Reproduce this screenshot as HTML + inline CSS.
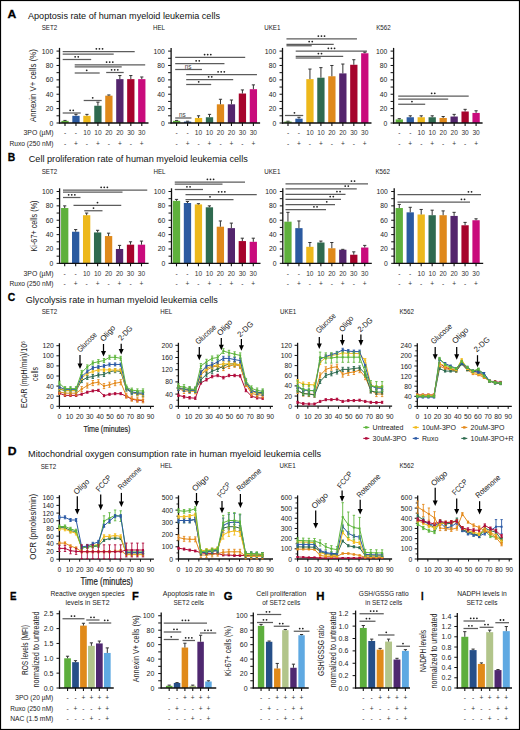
<!DOCTYPE html>
<html><head><meta charset="utf-8"><style>
html,body{margin:0;padding:0;background:#fff;width:520px;height:730px;overflow:hidden}
svg{display:block}
</style></head><body>
<svg width="520" height="730" viewBox="0 0 520 730">
<g style='font-family:"Liberation Sans", sans-serif'>
<rect x="0" y="0" width="520" height="730" fill="#fff"/>
<text x="7.50" y="14.20" font-size="11.8" text-anchor="start" font-weight="bold" fill="#000" dominant-baseline="central" textLength="8.75" lengthAdjust="spacingAndGlyphs" stroke="#000" stroke-width="0.3">A</text>
<text x="28.00" y="15.20" font-size="9.5" text-anchor="start" font-weight="normal" fill="#111" dominant-baseline="central" textLength="192" lengthAdjust="spacingAndGlyphs">Apoptosis rate of human myeloid leukemia cells</text>
<text x="7.70" y="156.50" font-size="11.8" text-anchor="start" font-weight="bold" fill="#000" dominant-baseline="central" textLength="7.5" lengthAdjust="spacingAndGlyphs" stroke="#000" stroke-width="0.3">B</text>
<text x="28.75" y="158.30" font-size="9.5" text-anchor="start" font-weight="normal" fill="#111" dominant-baseline="central" textLength="219" lengthAdjust="spacingAndGlyphs">Cell proliferation rate of human myeloid leukemia cells</text>
<line x1="62.70" y1="51.50" x2="134.70" y2="51.50" stroke="#5c5c5c" stroke-width="1.25"/>
<path d="M95.45 48.80a0.9 0.9 0 1 0 1.8 0a0.9 0.9 0 1 0 -1.8 0M98.55 48.80a0.9 0.9 0 1 0 1.8 0a0.9 0.9 0 1 0 -1.8 0M101.65 48.80a0.9 0.9 0 1 0 1.8 0a0.9 0.9 0 1 0 -1.8 0" fill="#222"/>
<line x1="62.70" y1="54.00" x2="113.70" y2="54.00" stroke="#5c5c5c" stroke-width="1.25"/>
<line x1="62.70" y1="59.50" x2="91.20" y2="59.50" stroke="#5c5c5c" stroke-width="1.25"/>
<path d="M74.25 56.80a0.9 0.9 0 1 0 1.8 0a0.9 0.9 0 1 0 -1.8 0M77.35 56.80a0.9 0.9 0 1 0 1.8 0a0.9 0.9 0 1 0 -1.8 0" fill="#222"/>
<line x1="74.70" y1="64.75" x2="145.20" y2="64.75" stroke="#5c5c5c" stroke-width="1.25"/>
<path d="M105.70 62.05a0.9 0.9 0 1 0 1.8 0a0.9 0.9 0 1 0 -1.8 0M108.80 62.05a0.9 0.9 0 1 0 1.8 0a0.9 0.9 0 1 0 -1.8 0M111.90 62.05a0.9 0.9 0 1 0 1.8 0a0.9 0.9 0 1 0 -1.8 0" fill="#222"/>
<line x1="74.70" y1="66.75" x2="121.70" y2="66.75" stroke="#5c5c5c" stroke-width="1.25"/>
<line x1="74.70" y1="73.00" x2="99.70" y2="73.00" stroke="#5c5c5c" stroke-width="1.25"/>
<path d="M85.80 70.30a0.9 0.9 0 1 0 1.8 0a0.9 0.9 0 1 0 -1.8 0" fill="#222"/>
<line x1="106.20" y1="72.50" x2="123.70" y2="72.50" stroke="#5c5c5c" stroke-width="1.25"/>
<path d="M110.70 69.80a0.9 0.9 0 1 0 1.8 0a0.9 0.9 0 1 0 -1.8 0M113.80 69.80a0.9 0.9 0 1 0 1.8 0a0.9 0.9 0 1 0 -1.8 0M116.90 69.80a0.9 0.9 0 1 0 1.8 0a0.9 0.9 0 1 0 -1.8 0" fill="#222"/>
<line x1="83.70" y1="100.50" x2="101.70" y2="100.50" stroke="#5c5c5c" stroke-width="1.25"/>
<path d="M91.80 97.80a0.9 0.9 0 1 0 1.8 0a0.9 0.9 0 1 0 -1.8 0" fill="#222"/>
<line x1="62.70" y1="113.00" x2="80.70" y2="113.00" stroke="#5c5c5c" stroke-width="1.25"/>
<path d="M69.25 110.30a0.9 0.9 0 1 0 1.8 0a0.9 0.9 0 1 0 -1.8 0M72.35 110.30a0.9 0.9 0 1 0 1.8 0a0.9 0.9 0 1 0 -1.8 0" fill="#222"/>
<rect x="61.35" y="120.84" width="7.30" height="2.16" fill="#5fb03c"/>
<line x1="65.00" y1="120.84" x2="65.00" y2="120.41" stroke="#333" stroke-width="1.0"/>
<line x1="63.40" y1="120.41" x2="66.60" y2="120.41" stroke="#333" stroke-width="1.0"/>
<rect x="72.32" y="115.81" width="7.30" height="7.19" fill="#2b5aa0"/>
<line x1="75.97" y1="115.81" x2="75.97" y2="114.37" stroke="#333" stroke-width="1.0"/>
<line x1="74.37" y1="114.37" x2="77.57" y2="114.37" stroke="#333" stroke-width="1.0"/>
<rect x="83.29" y="115.81" width="7.30" height="7.19" fill="#edb81b"/>
<line x1="86.94" y1="115.81" x2="86.94" y2="114.37" stroke="#333" stroke-width="1.0"/>
<line x1="85.34" y1="114.37" x2="88.54" y2="114.37" stroke="#333" stroke-width="1.0"/>
<rect x="94.26" y="105.74" width="7.30" height="17.26" fill="#2f6a4f"/>
<line x1="97.91" y1="105.74" x2="97.91" y2="102.15" stroke="#333" stroke-width="1.0"/>
<line x1="96.31" y1="102.15" x2="99.51" y2="102.15" stroke="#333" stroke-width="1.0"/>
<rect x="105.23" y="95.68" width="7.30" height="27.32" fill="#df891b"/>
<line x1="108.88" y1="95.68" x2="108.88" y2="94.96" stroke="#333" stroke-width="1.0"/>
<line x1="107.28" y1="94.96" x2="110.48" y2="94.96" stroke="#333" stroke-width="1.0"/>
<rect x="116.20" y="79.14" width="7.30" height="43.86" fill="#54256d"/>
<line x1="119.85" y1="79.14" x2="119.85" y2="75.55" stroke="#333" stroke-width="1.0"/>
<line x1="118.25" y1="75.55" x2="121.45" y2="75.55" stroke="#333" stroke-width="1.0"/>
<rect x="127.17" y="79.14" width="7.30" height="43.86" fill="#a6032c"/>
<line x1="130.82" y1="79.14" x2="130.82" y2="75.55" stroke="#333" stroke-width="1.0"/>
<line x1="129.22" y1="75.55" x2="132.42" y2="75.55" stroke="#333" stroke-width="1.0"/>
<rect x="138.14" y="79.14" width="7.30" height="43.86" fill="#c90b7c"/>
<line x1="141.79" y1="79.14" x2="141.79" y2="76.98" stroke="#333" stroke-width="1.0"/>
<line x1="140.19" y1="76.98" x2="143.39" y2="76.98" stroke="#333" stroke-width="1.0"/>
<line x1="59.50" y1="47.90" x2="59.50" y2="123.60" stroke="#111" stroke-width="1.3"/>
<line x1="58.90" y1="123.00" x2="148.50" y2="123.00" stroke="#111" stroke-width="1.3"/>
<line x1="56.50" y1="123.00" x2="59.50" y2="123.00" stroke="#111" stroke-width="1.0"/>
<line x1="56.50" y1="108.62" x2="59.50" y2="108.62" stroke="#111" stroke-width="1.0"/>
<line x1="56.50" y1="94.24" x2="59.50" y2="94.24" stroke="#111" stroke-width="1.0"/>
<line x1="56.50" y1="79.86" x2="59.50" y2="79.86" stroke="#111" stroke-width="1.0"/>
<line x1="56.50" y1="65.48" x2="59.50" y2="65.48" stroke="#111" stroke-width="1.0"/>
<line x1="56.50" y1="51.10" x2="59.50" y2="51.10" stroke="#111" stroke-width="1.0"/>
<line x1="56.50" y1="115.81" x2="59.50" y2="115.81" stroke="#111" stroke-width="1.0"/>
<line x1="56.50" y1="101.43" x2="59.50" y2="101.43" stroke="#111" stroke-width="1.0"/>
<line x1="56.50" y1="87.05" x2="59.50" y2="87.05" stroke="#111" stroke-width="1.0"/>
<line x1="56.50" y1="72.67" x2="59.50" y2="72.67" stroke="#111" stroke-width="1.0"/>
<line x1="56.50" y1="58.29" x2="59.50" y2="58.29" stroke="#111" stroke-width="1.0"/>
<text x="53.20" y="123.00" font-size="6.8" text-anchor="end" font-weight="normal" fill="#222" dominant-baseline="central">0</text>
<text x="53.20" y="108.62" font-size="6.8" text-anchor="end" font-weight="normal" fill="#222" dominant-baseline="central">20</text>
<text x="53.20" y="94.24" font-size="6.8" text-anchor="end" font-weight="normal" fill="#222" dominant-baseline="central">40</text>
<text x="53.20" y="79.86" font-size="6.8" text-anchor="end" font-weight="normal" fill="#222" dominant-baseline="central">60</text>
<text x="53.20" y="65.48" font-size="6.8" text-anchor="end" font-weight="normal" fill="#222" dominant-baseline="central">80</text>
<text x="53.20" y="51.10" font-size="6.8" text-anchor="end" font-weight="normal" fill="#222" dominant-baseline="central">100</text>
<line x1="65.00" y1="123.00" x2="65.00" y2="126.00" stroke="#111" stroke-width="1.1"/>
<line x1="75.97" y1="123.00" x2="75.97" y2="126.00" stroke="#111" stroke-width="1.1"/>
<line x1="86.94" y1="123.00" x2="86.94" y2="126.00" stroke="#111" stroke-width="1.1"/>
<line x1="97.91" y1="123.00" x2="97.91" y2="126.00" stroke="#111" stroke-width="1.1"/>
<line x1="108.88" y1="123.00" x2="108.88" y2="126.00" stroke="#111" stroke-width="1.1"/>
<line x1="119.85" y1="123.00" x2="119.85" y2="126.00" stroke="#111" stroke-width="1.1"/>
<line x1="130.82" y1="123.00" x2="130.82" y2="126.00" stroke="#111" stroke-width="1.1"/>
<line x1="141.79" y1="123.00" x2="141.79" y2="126.00" stroke="#111" stroke-width="1.1"/>
<text x="41.70" y="27.20" font-size="7.4" text-anchor="start" font-weight="normal" fill="#222" dominant-baseline="central" textLength="15.55" lengthAdjust="spacingAndGlyphs">SET2</text>
<text x="65.00" y="132.00" font-size="6.6" text-anchor="middle" font-weight="normal" fill="#333" dominant-baseline="central">-</text>
<text x="65.00" y="143.75" font-size="6.6" text-anchor="middle" font-weight="normal" fill="#333" dominant-baseline="central">-</text>
<text x="75.97" y="132.00" font-size="6.6" text-anchor="middle" font-weight="normal" fill="#333" dominant-baseline="central">-</text>
<text x="75.97" y="143.75" font-size="6.6" text-anchor="middle" font-weight="normal" fill="#333" dominant-baseline="central">+</text>
<text x="86.94" y="132.00" font-size="6.6" text-anchor="middle" font-weight="normal" fill="#333" dominant-baseline="central">10</text>
<text x="86.94" y="143.75" font-size="6.6" text-anchor="middle" font-weight="normal" fill="#333" dominant-baseline="central">-</text>
<text x="97.91" y="132.00" font-size="6.6" text-anchor="middle" font-weight="normal" fill="#333" dominant-baseline="central">10</text>
<text x="97.91" y="143.75" font-size="6.6" text-anchor="middle" font-weight="normal" fill="#333" dominant-baseline="central">+</text>
<text x="108.88" y="132.00" font-size="6.6" text-anchor="middle" font-weight="normal" fill="#333" dominant-baseline="central">20</text>
<text x="108.88" y="143.75" font-size="6.6" text-anchor="middle" font-weight="normal" fill="#333" dominant-baseline="central">-</text>
<text x="119.85" y="132.00" font-size="6.6" text-anchor="middle" font-weight="normal" fill="#333" dominant-baseline="central">20</text>
<text x="119.85" y="143.75" font-size="6.6" text-anchor="middle" font-weight="normal" fill="#333" dominant-baseline="central">+</text>
<text x="130.82" y="132.00" font-size="6.6" text-anchor="middle" font-weight="normal" fill="#333" dominant-baseline="central">30</text>
<text x="130.82" y="143.75" font-size="6.6" text-anchor="middle" font-weight="normal" fill="#333" dominant-baseline="central">-</text>
<text x="141.79" y="132.00" font-size="6.6" text-anchor="middle" font-weight="normal" fill="#333" dominant-baseline="central">30</text>
<text x="141.79" y="143.75" font-size="6.6" text-anchor="middle" font-weight="normal" fill="#333" dominant-baseline="central">+</text>
<line x1="175.20" y1="57.25" x2="245.20" y2="57.25" stroke="#5c5c5c" stroke-width="1.25"/>
<path d="M203.70 54.55a0.9 0.9 0 1 0 1.8 0a0.9 0.9 0 1 0 -1.8 0M206.80 54.55a0.9 0.9 0 1 0 1.8 0a0.9 0.9 0 1 0 -1.8 0M209.90 54.55a0.9 0.9 0 1 0 1.8 0a0.9 0.9 0 1 0 -1.8 0" fill="#222"/>
<line x1="175.20" y1="63.50" x2="224.45" y2="63.50" stroke="#5c5c5c" stroke-width="1.25"/>
<path d="M195.25 60.80a0.9 0.9 0 1 0 1.8 0a0.9 0.9 0 1 0 -1.8 0M198.35 60.80a0.9 0.9 0 1 0 1.8 0a0.9 0.9 0 1 0 -1.8 0" fill="#222"/>
<line x1="175.20" y1="69.50" x2="201.95" y2="69.50" stroke="#5c5c5c" stroke-width="1.25"/>
<text x="188.20" y="66.30" font-size="6.4" text-anchor="middle" font-weight="normal" fill="#444" dominant-baseline="central">ns</text>
<line x1="186.20" y1="74.50" x2="256.95" y2="74.50" stroke="#5c5c5c" stroke-width="1.25"/>
<path d="M217.20 71.80a0.9 0.9 0 1 0 1.8 0a0.9 0.9 0 1 0 -1.8 0M220.30 71.80a0.9 0.9 0 1 0 1.8 0a0.9 0.9 0 1 0 -1.8 0M223.40 71.80a0.9 0.9 0 1 0 1.8 0a0.9 0.9 0 1 0 -1.8 0" fill="#222"/>
<line x1="186.20" y1="79.50" x2="233.20" y2="79.50" stroke="#5c5c5c" stroke-width="1.25"/>
<path d="M207.75 76.80a0.9 0.9 0 1 0 1.8 0a0.9 0.9 0 1 0 -1.8 0M210.85 76.80a0.9 0.9 0 1 0 1.8 0a0.9 0.9 0 1 0 -1.8 0" fill="#222"/>
<line x1="186.20" y1="84.50" x2="211.20" y2="84.50" stroke="#5c5c5c" stroke-width="1.25"/>
<path d="M197.80 81.80a0.9 0.9 0 1 0 1.8 0a0.9 0.9 0 1 0 -1.8 0" fill="#222"/>
<line x1="175.20" y1="118.00" x2="191.45" y2="118.00" stroke="#5c5c5c" stroke-width="1.25"/>
<text x="182.45" y="114.80" font-size="6.4" text-anchor="middle" font-weight="normal" fill="#444" dominant-baseline="central">ns</text>
<rect x="172.95" y="120.84" width="7.30" height="2.16" fill="#5fb03c"/>
<line x1="176.60" y1="120.84" x2="176.60" y2="120.41" stroke="#333" stroke-width="1.0"/>
<line x1="175.00" y1="120.41" x2="178.20" y2="120.41" stroke="#333" stroke-width="1.0"/>
<rect x="183.92" y="121.56" width="7.30" height="1.44" fill="#2b5aa0"/>
<line x1="187.57" y1="121.56" x2="187.57" y2="121.20" stroke="#333" stroke-width="1.0"/>
<line x1="185.97" y1="121.20" x2="189.17" y2="121.20" stroke="#333" stroke-width="1.0"/>
<rect x="194.89" y="117.97" width="7.30" height="5.03" fill="#edb81b"/>
<line x1="198.54" y1="117.97" x2="198.54" y2="115.81" stroke="#333" stroke-width="1.0"/>
<line x1="196.94" y1="115.81" x2="200.14" y2="115.81" stroke="#333" stroke-width="1.0"/>
<rect x="205.86" y="117.25" width="7.30" height="5.75" fill="#2f6a4f"/>
<line x1="209.51" y1="117.25" x2="209.51" y2="114.37" stroke="#333" stroke-width="1.0"/>
<line x1="207.91" y1="114.37" x2="211.11" y2="114.37" stroke="#333" stroke-width="1.0"/>
<rect x="216.83" y="104.31" width="7.30" height="18.69" fill="#df891b"/>
<line x1="220.48" y1="104.31" x2="220.48" y2="99.27" stroke="#333" stroke-width="1.0"/>
<line x1="218.88" y1="99.27" x2="222.08" y2="99.27" stroke="#333" stroke-width="1.0"/>
<rect x="227.80" y="104.31" width="7.30" height="18.69" fill="#54256d"/>
<line x1="231.45" y1="104.31" x2="231.45" y2="99.99" stroke="#333" stroke-width="1.0"/>
<line x1="229.85" y1="99.99" x2="233.05" y2="99.99" stroke="#333" stroke-width="1.0"/>
<rect x="238.77" y="93.52" width="7.30" height="29.48" fill="#a6032c"/>
<line x1="242.42" y1="93.52" x2="242.42" y2="89.93" stroke="#333" stroke-width="1.0"/>
<line x1="240.82" y1="89.93" x2="244.02" y2="89.93" stroke="#333" stroke-width="1.0"/>
<rect x="249.74" y="89.21" width="7.30" height="33.79" fill="#c90b7c"/>
<line x1="253.39" y1="89.21" x2="253.39" y2="84.89" stroke="#333" stroke-width="1.0"/>
<line x1="251.79" y1="84.89" x2="254.99" y2="84.89" stroke="#333" stroke-width="1.0"/>
<line x1="171.10" y1="47.90" x2="171.10" y2="123.60" stroke="#111" stroke-width="1.3"/>
<line x1="170.50" y1="123.00" x2="260.10" y2="123.00" stroke="#111" stroke-width="1.3"/>
<line x1="168.10" y1="123.00" x2="171.10" y2="123.00" stroke="#111" stroke-width="1.0"/>
<line x1="168.10" y1="108.62" x2="171.10" y2="108.62" stroke="#111" stroke-width="1.0"/>
<line x1="168.10" y1="94.24" x2="171.10" y2="94.24" stroke="#111" stroke-width="1.0"/>
<line x1="168.10" y1="79.86" x2="171.10" y2="79.86" stroke="#111" stroke-width="1.0"/>
<line x1="168.10" y1="65.48" x2="171.10" y2="65.48" stroke="#111" stroke-width="1.0"/>
<line x1="168.10" y1="51.10" x2="171.10" y2="51.10" stroke="#111" stroke-width="1.0"/>
<line x1="168.10" y1="115.81" x2="171.10" y2="115.81" stroke="#111" stroke-width="1.0"/>
<line x1="168.10" y1="101.43" x2="171.10" y2="101.43" stroke="#111" stroke-width="1.0"/>
<line x1="168.10" y1="87.05" x2="171.10" y2="87.05" stroke="#111" stroke-width="1.0"/>
<line x1="168.10" y1="72.67" x2="171.10" y2="72.67" stroke="#111" stroke-width="1.0"/>
<line x1="168.10" y1="58.29" x2="171.10" y2="58.29" stroke="#111" stroke-width="1.0"/>
<text x="164.80" y="123.00" font-size="6.8" text-anchor="end" font-weight="normal" fill="#222" dominant-baseline="central">0</text>
<text x="164.80" y="108.62" font-size="6.8" text-anchor="end" font-weight="normal" fill="#222" dominant-baseline="central">20</text>
<text x="164.80" y="94.24" font-size="6.8" text-anchor="end" font-weight="normal" fill="#222" dominant-baseline="central">40</text>
<text x="164.80" y="79.86" font-size="6.8" text-anchor="end" font-weight="normal" fill="#222" dominant-baseline="central">60</text>
<text x="164.80" y="65.48" font-size="6.8" text-anchor="end" font-weight="normal" fill="#222" dominant-baseline="central">80</text>
<text x="164.80" y="51.10" font-size="6.8" text-anchor="end" font-weight="normal" fill="#222" dominant-baseline="central">100</text>
<line x1="176.60" y1="123.00" x2="176.60" y2="126.00" stroke="#111" stroke-width="1.1"/>
<line x1="187.57" y1="123.00" x2="187.57" y2="126.00" stroke="#111" stroke-width="1.1"/>
<line x1="198.54" y1="123.00" x2="198.54" y2="126.00" stroke="#111" stroke-width="1.1"/>
<line x1="209.51" y1="123.00" x2="209.51" y2="126.00" stroke="#111" stroke-width="1.1"/>
<line x1="220.48" y1="123.00" x2="220.48" y2="126.00" stroke="#111" stroke-width="1.1"/>
<line x1="231.45" y1="123.00" x2="231.45" y2="126.00" stroke="#111" stroke-width="1.1"/>
<line x1="242.42" y1="123.00" x2="242.42" y2="126.00" stroke="#111" stroke-width="1.1"/>
<line x1="253.39" y1="123.00" x2="253.39" y2="126.00" stroke="#111" stroke-width="1.1"/>
<text x="152.95" y="27.20" font-size="7.4" text-anchor="start" font-weight="normal" fill="#222" dominant-baseline="central" textLength="12.09" lengthAdjust="spacingAndGlyphs">HEL</text>
<text x="176.60" y="132.00" font-size="6.6" text-anchor="middle" font-weight="normal" fill="#333" dominant-baseline="central">-</text>
<text x="176.60" y="143.75" font-size="6.6" text-anchor="middle" font-weight="normal" fill="#333" dominant-baseline="central">-</text>
<text x="187.57" y="132.00" font-size="6.6" text-anchor="middle" font-weight="normal" fill="#333" dominant-baseline="central">-</text>
<text x="187.57" y="143.75" font-size="6.6" text-anchor="middle" font-weight="normal" fill="#333" dominant-baseline="central">+</text>
<text x="198.54" y="132.00" font-size="6.6" text-anchor="middle" font-weight="normal" fill="#333" dominant-baseline="central">10</text>
<text x="198.54" y="143.75" font-size="6.6" text-anchor="middle" font-weight="normal" fill="#333" dominant-baseline="central">-</text>
<text x="209.51" y="132.00" font-size="6.6" text-anchor="middle" font-weight="normal" fill="#333" dominant-baseline="central">10</text>
<text x="209.51" y="143.75" font-size="6.6" text-anchor="middle" font-weight="normal" fill="#333" dominant-baseline="central">+</text>
<text x="220.48" y="132.00" font-size="6.6" text-anchor="middle" font-weight="normal" fill="#333" dominant-baseline="central">20</text>
<text x="220.48" y="143.75" font-size="6.6" text-anchor="middle" font-weight="normal" fill="#333" dominant-baseline="central">-</text>
<text x="231.45" y="132.00" font-size="6.6" text-anchor="middle" font-weight="normal" fill="#333" dominant-baseline="central">20</text>
<text x="231.45" y="143.75" font-size="6.6" text-anchor="middle" font-weight="normal" fill="#333" dominant-baseline="central">+</text>
<text x="242.42" y="132.00" font-size="6.6" text-anchor="middle" font-weight="normal" fill="#333" dominant-baseline="central">30</text>
<text x="242.42" y="143.75" font-size="6.6" text-anchor="middle" font-weight="normal" fill="#333" dominant-baseline="central">-</text>
<text x="253.39" y="132.00" font-size="6.6" text-anchor="middle" font-weight="normal" fill="#333" dominant-baseline="central">30</text>
<text x="253.39" y="143.75" font-size="6.6" text-anchor="middle" font-weight="normal" fill="#333" dominant-baseline="central">+</text>
<line x1="286.45" y1="38.75" x2="356.95" y2="38.75" stroke="#5c5c5c" stroke-width="1.25"/>
<path d="M317.45 36.05a0.9 0.9 0 1 0 1.8 0a0.9 0.9 0 1 0 -1.8 0M320.55 36.05a0.9 0.9 0 1 0 1.8 0a0.9 0.9 0 1 0 -1.8 0M323.65 36.05a0.9 0.9 0 1 0 1.8 0a0.9 0.9 0 1 0 -1.8 0" fill="#222"/>
<line x1="286.45" y1="44.25" x2="333.70" y2="44.25" stroke="#5c5c5c" stroke-width="1.25"/>
<path d="M308.25 41.55a0.9 0.9 0 1 0 1.8 0a0.9 0.9 0 1 0 -1.8 0M311.35 41.55a0.9 0.9 0 1 0 1.8 0a0.9 0.9 0 1 0 -1.8 0" fill="#222"/>
<line x1="286.45" y1="45.75" x2="311.70" y2="45.75" stroke="#5c5c5c" stroke-width="1.25"/>
<line x1="295.70" y1="51.00" x2="366.95" y2="51.00" stroke="#5c5c5c" stroke-width="1.25"/>
<path d="M327.45 48.30a0.9 0.9 0 1 0 1.8 0a0.9 0.9 0 1 0 -1.8 0M330.55 48.30a0.9 0.9 0 1 0 1.8 0a0.9 0.9 0 1 0 -1.8 0M333.65 48.30a0.9 0.9 0 1 0 1.8 0a0.9 0.9 0 1 0 -1.8 0" fill="#222"/>
<line x1="295.70" y1="56.25" x2="343.20" y2="56.25" stroke="#5c5c5c" stroke-width="1.25"/>
<path d="M317.50 53.55a0.9 0.9 0 1 0 1.8 0a0.9 0.9 0 1 0 -1.8 0M320.60 53.55a0.9 0.9 0 1 0 1.8 0a0.9 0.9 0 1 0 -1.8 0" fill="#222"/>
<line x1="295.70" y1="58.00" x2="320.70" y2="58.00" stroke="#5c5c5c" stroke-width="1.25"/>
<line x1="284.95" y1="115.50" x2="303.20" y2="115.50" stroke="#5c5c5c" stroke-width="1.25"/>
<path d="M293.55 112.80a0.9 0.9 0 1 0 1.8 0a0.9 0.9 0 1 0 -1.8 0" fill="#222"/>
<rect x="284.35" y="121.56" width="7.30" height="1.44" fill="#5fb03c"/>
<line x1="288.00" y1="121.56" x2="288.00" y2="121.20" stroke="#333" stroke-width="1.0"/>
<line x1="286.40" y1="121.20" x2="289.60" y2="121.20" stroke="#333" stroke-width="1.0"/>
<rect x="295.32" y="118.69" width="7.30" height="4.31" fill="#2b5aa0"/>
<line x1="298.97" y1="118.69" x2="298.97" y2="117.25" stroke="#333" stroke-width="1.0"/>
<line x1="297.37" y1="117.25" x2="300.57" y2="117.25" stroke="#333" stroke-width="1.0"/>
<rect x="306.29" y="79.14" width="7.30" height="43.86" fill="#edb81b"/>
<line x1="309.94" y1="79.14" x2="309.94" y2="69.07" stroke="#333" stroke-width="1.0"/>
<line x1="308.34" y1="69.07" x2="311.54" y2="69.07" stroke="#333" stroke-width="1.0"/>
<rect x="317.26" y="77.70" width="7.30" height="45.30" fill="#2f6a4f"/>
<line x1="320.91" y1="77.70" x2="320.91" y2="67.64" stroke="#333" stroke-width="1.0"/>
<line x1="319.31" y1="67.64" x2="322.51" y2="67.64" stroke="#333" stroke-width="1.0"/>
<rect x="328.23" y="76.26" width="7.30" height="46.74" fill="#df891b"/>
<line x1="331.88" y1="76.26" x2="331.88" y2="65.48" stroke="#333" stroke-width="1.0"/>
<line x1="330.28" y1="65.48" x2="333.48" y2="65.48" stroke="#333" stroke-width="1.0"/>
<rect x="339.20" y="73.39" width="7.30" height="49.61" fill="#54256d"/>
<line x1="342.85" y1="73.39" x2="342.85" y2="64.04" stroke="#333" stroke-width="1.0"/>
<line x1="341.25" y1="64.04" x2="344.45" y2="64.04" stroke="#333" stroke-width="1.0"/>
<rect x="350.17" y="64.76" width="7.30" height="58.24" fill="#a6032c"/>
<line x1="353.82" y1="64.76" x2="353.82" y2="59.73" stroke="#333" stroke-width="1.0"/>
<line x1="352.22" y1="59.73" x2="355.42" y2="59.73" stroke="#333" stroke-width="1.0"/>
<rect x="361.14" y="53.26" width="7.30" height="69.74" fill="#c90b7c"/>
<line x1="364.79" y1="53.26" x2="364.79" y2="52.18" stroke="#333" stroke-width="1.0"/>
<line x1="363.19" y1="52.18" x2="366.39" y2="52.18" stroke="#333" stroke-width="1.0"/>
<line x1="282.50" y1="47.90" x2="282.50" y2="123.60" stroke="#111" stroke-width="1.3"/>
<line x1="281.90" y1="123.00" x2="371.50" y2="123.00" stroke="#111" stroke-width="1.3"/>
<line x1="279.50" y1="123.00" x2="282.50" y2="123.00" stroke="#111" stroke-width="1.0"/>
<line x1="279.50" y1="108.62" x2="282.50" y2="108.62" stroke="#111" stroke-width="1.0"/>
<line x1="279.50" y1="94.24" x2="282.50" y2="94.24" stroke="#111" stroke-width="1.0"/>
<line x1="279.50" y1="79.86" x2="282.50" y2="79.86" stroke="#111" stroke-width="1.0"/>
<line x1="279.50" y1="65.48" x2="282.50" y2="65.48" stroke="#111" stroke-width="1.0"/>
<line x1="279.50" y1="51.10" x2="282.50" y2="51.10" stroke="#111" stroke-width="1.0"/>
<line x1="279.50" y1="115.81" x2="282.50" y2="115.81" stroke="#111" stroke-width="1.0"/>
<line x1="279.50" y1="101.43" x2="282.50" y2="101.43" stroke="#111" stroke-width="1.0"/>
<line x1="279.50" y1="87.05" x2="282.50" y2="87.05" stroke="#111" stroke-width="1.0"/>
<line x1="279.50" y1="72.67" x2="282.50" y2="72.67" stroke="#111" stroke-width="1.0"/>
<line x1="279.50" y1="58.29" x2="282.50" y2="58.29" stroke="#111" stroke-width="1.0"/>
<text x="276.20" y="123.00" font-size="6.8" text-anchor="end" font-weight="normal" fill="#222" dominant-baseline="central">0</text>
<text x="276.20" y="108.62" font-size="6.8" text-anchor="end" font-weight="normal" fill="#222" dominant-baseline="central">20</text>
<text x="276.20" y="94.24" font-size="6.8" text-anchor="end" font-weight="normal" fill="#222" dominant-baseline="central">40</text>
<text x="276.20" y="79.86" font-size="6.8" text-anchor="end" font-weight="normal" fill="#222" dominant-baseline="central">60</text>
<text x="276.20" y="65.48" font-size="6.8" text-anchor="end" font-weight="normal" fill="#222" dominant-baseline="central">80</text>
<text x="276.20" y="51.10" font-size="6.8" text-anchor="end" font-weight="normal" fill="#222" dominant-baseline="central">100</text>
<line x1="288.00" y1="123.00" x2="288.00" y2="126.00" stroke="#111" stroke-width="1.1"/>
<line x1="298.97" y1="123.00" x2="298.97" y2="126.00" stroke="#111" stroke-width="1.1"/>
<line x1="309.94" y1="123.00" x2="309.94" y2="126.00" stroke="#111" stroke-width="1.1"/>
<line x1="320.91" y1="123.00" x2="320.91" y2="126.00" stroke="#111" stroke-width="1.1"/>
<line x1="331.88" y1="123.00" x2="331.88" y2="126.00" stroke="#111" stroke-width="1.1"/>
<line x1="342.85" y1="123.00" x2="342.85" y2="126.00" stroke="#111" stroke-width="1.1"/>
<line x1="353.82" y1="123.00" x2="353.82" y2="126.00" stroke="#111" stroke-width="1.1"/>
<line x1="364.79" y1="123.00" x2="364.79" y2="126.00" stroke="#111" stroke-width="1.1"/>
<text x="264.20" y="27.20" font-size="7.4" text-anchor="start" font-weight="normal" fill="#222" dominant-baseline="central" textLength="16.24" lengthAdjust="spacingAndGlyphs">UKE1</text>
<text x="288.00" y="132.00" font-size="6.6" text-anchor="middle" font-weight="normal" fill="#333" dominant-baseline="central">-</text>
<text x="288.00" y="143.75" font-size="6.6" text-anchor="middle" font-weight="normal" fill="#333" dominant-baseline="central">-</text>
<text x="298.97" y="132.00" font-size="6.6" text-anchor="middle" font-weight="normal" fill="#333" dominant-baseline="central">-</text>
<text x="298.97" y="143.75" font-size="6.6" text-anchor="middle" font-weight="normal" fill="#333" dominant-baseline="central">+</text>
<text x="309.94" y="132.00" font-size="6.6" text-anchor="middle" font-weight="normal" fill="#333" dominant-baseline="central">10</text>
<text x="309.94" y="143.75" font-size="6.6" text-anchor="middle" font-weight="normal" fill="#333" dominant-baseline="central">-</text>
<text x="320.91" y="132.00" font-size="6.6" text-anchor="middle" font-weight="normal" fill="#333" dominant-baseline="central">10</text>
<text x="320.91" y="143.75" font-size="6.6" text-anchor="middle" font-weight="normal" fill="#333" dominant-baseline="central">+</text>
<text x="331.88" y="132.00" font-size="6.6" text-anchor="middle" font-weight="normal" fill="#333" dominant-baseline="central">20</text>
<text x="331.88" y="143.75" font-size="6.6" text-anchor="middle" font-weight="normal" fill="#333" dominant-baseline="central">-</text>
<text x="342.85" y="132.00" font-size="6.6" text-anchor="middle" font-weight="normal" fill="#333" dominant-baseline="central">20</text>
<text x="342.85" y="143.75" font-size="6.6" text-anchor="middle" font-weight="normal" fill="#333" dominant-baseline="central">+</text>
<text x="353.82" y="132.00" font-size="6.6" text-anchor="middle" font-weight="normal" fill="#333" dominant-baseline="central">30</text>
<text x="353.82" y="143.75" font-size="6.6" text-anchor="middle" font-weight="normal" fill="#333" dominant-baseline="central">-</text>
<text x="364.79" y="132.00" font-size="6.6" text-anchor="middle" font-weight="normal" fill="#333" dominant-baseline="central">30</text>
<text x="364.79" y="143.75" font-size="6.6" text-anchor="middle" font-weight="normal" fill="#333" dominant-baseline="central">+</text>
<line x1="398.20" y1="96.00" x2="468.70" y2="96.00" stroke="#5c5c5c" stroke-width="1.25"/>
<path d="M430.75 93.30a0.9 0.9 0 1 0 1.8 0a0.9 0.9 0 1 0 -1.8 0M433.85 93.30a0.9 0.9 0 1 0 1.8 0a0.9 0.9 0 1 0 -1.8 0" fill="#222"/>
<line x1="398.20" y1="99.00" x2="448.20" y2="99.00" stroke="#5c5c5c" stroke-width="1.25"/>
<line x1="398.20" y1="104.25" x2="425.20" y2="104.25" stroke="#5c5c5c" stroke-width="1.25"/>
<path d="M411.05 101.55a0.9 0.9 0 1 0 1.8 0a0.9 0.9 0 1 0 -1.8 0" fill="#222"/>
<rect x="395.65" y="119.41" width="7.30" height="3.59" fill="#5fb03c"/>
<line x1="399.30" y1="119.41" x2="399.30" y2="118.69" stroke="#333" stroke-width="1.0"/>
<line x1="397.70" y1="118.69" x2="400.90" y2="118.69" stroke="#333" stroke-width="1.0"/>
<rect x="406.62" y="117.25" width="7.30" height="5.75" fill="#2b5aa0"/>
<line x1="410.27" y1="117.25" x2="410.27" y2="115.81" stroke="#333" stroke-width="1.0"/>
<line x1="408.67" y1="115.81" x2="411.87" y2="115.81" stroke="#333" stroke-width="1.0"/>
<rect x="417.59" y="117.25" width="7.30" height="5.75" fill="#edb81b"/>
<line x1="421.24" y1="117.25" x2="421.24" y2="115.81" stroke="#333" stroke-width="1.0"/>
<line x1="419.64" y1="115.81" x2="422.84" y2="115.81" stroke="#333" stroke-width="1.0"/>
<rect x="428.56" y="117.25" width="7.30" height="5.75" fill="#2f6a4f"/>
<line x1="432.21" y1="117.25" x2="432.21" y2="115.81" stroke="#333" stroke-width="1.0"/>
<line x1="430.61" y1="115.81" x2="433.81" y2="115.81" stroke="#333" stroke-width="1.0"/>
<rect x="439.53" y="117.97" width="7.30" height="5.03" fill="#df891b"/>
<line x1="443.18" y1="117.97" x2="443.18" y2="116.53" stroke="#333" stroke-width="1.0"/>
<line x1="441.58" y1="116.53" x2="444.78" y2="116.53" stroke="#333" stroke-width="1.0"/>
<rect x="450.50" y="116.53" width="7.30" height="6.47" fill="#54256d"/>
<line x1="454.15" y1="116.53" x2="454.15" y2="114.37" stroke="#333" stroke-width="1.0"/>
<line x1="452.55" y1="114.37" x2="455.75" y2="114.37" stroke="#333" stroke-width="1.0"/>
<rect x="461.47" y="111.50" width="7.30" height="11.50" fill="#a6032c"/>
<line x1="465.12" y1="111.50" x2="465.12" y2="109.34" stroke="#333" stroke-width="1.0"/>
<line x1="463.52" y1="109.34" x2="466.72" y2="109.34" stroke="#333" stroke-width="1.0"/>
<rect x="472.44" y="112.93" width="7.30" height="10.07" fill="#c90b7c"/>
<line x1="476.09" y1="112.93" x2="476.09" y2="110.78" stroke="#333" stroke-width="1.0"/>
<line x1="474.49" y1="110.78" x2="477.69" y2="110.78" stroke="#333" stroke-width="1.0"/>
<line x1="393.60" y1="47.90" x2="393.60" y2="123.60" stroke="#111" stroke-width="1.3"/>
<line x1="393.00" y1="123.00" x2="482.60" y2="123.00" stroke="#111" stroke-width="1.3"/>
<line x1="390.60" y1="123.00" x2="393.60" y2="123.00" stroke="#111" stroke-width="1.0"/>
<line x1="390.60" y1="108.62" x2="393.60" y2="108.62" stroke="#111" stroke-width="1.0"/>
<line x1="390.60" y1="94.24" x2="393.60" y2="94.24" stroke="#111" stroke-width="1.0"/>
<line x1="390.60" y1="79.86" x2="393.60" y2="79.86" stroke="#111" stroke-width="1.0"/>
<line x1="390.60" y1="65.48" x2="393.60" y2="65.48" stroke="#111" stroke-width="1.0"/>
<line x1="390.60" y1="51.10" x2="393.60" y2="51.10" stroke="#111" stroke-width="1.0"/>
<line x1="390.60" y1="115.81" x2="393.60" y2="115.81" stroke="#111" stroke-width="1.0"/>
<line x1="390.60" y1="101.43" x2="393.60" y2="101.43" stroke="#111" stroke-width="1.0"/>
<line x1="390.60" y1="87.05" x2="393.60" y2="87.05" stroke="#111" stroke-width="1.0"/>
<line x1="390.60" y1="72.67" x2="393.60" y2="72.67" stroke="#111" stroke-width="1.0"/>
<line x1="390.60" y1="58.29" x2="393.60" y2="58.29" stroke="#111" stroke-width="1.0"/>
<text x="387.30" y="123.00" font-size="6.8" text-anchor="end" font-weight="normal" fill="#222" dominant-baseline="central">0</text>
<text x="387.30" y="108.62" font-size="6.8" text-anchor="end" font-weight="normal" fill="#222" dominant-baseline="central">20</text>
<text x="387.30" y="94.24" font-size="6.8" text-anchor="end" font-weight="normal" fill="#222" dominant-baseline="central">40</text>
<text x="387.30" y="79.86" font-size="6.8" text-anchor="end" font-weight="normal" fill="#222" dominant-baseline="central">60</text>
<text x="387.30" y="65.48" font-size="6.8" text-anchor="end" font-weight="normal" fill="#222" dominant-baseline="central">80</text>
<text x="387.30" y="51.10" font-size="6.8" text-anchor="end" font-weight="normal" fill="#222" dominant-baseline="central">100</text>
<line x1="399.30" y1="123.00" x2="399.30" y2="126.00" stroke="#111" stroke-width="1.1"/>
<line x1="410.27" y1="123.00" x2="410.27" y2="126.00" stroke="#111" stroke-width="1.1"/>
<line x1="421.24" y1="123.00" x2="421.24" y2="126.00" stroke="#111" stroke-width="1.1"/>
<line x1="432.21" y1="123.00" x2="432.21" y2="126.00" stroke="#111" stroke-width="1.1"/>
<line x1="443.18" y1="123.00" x2="443.18" y2="126.00" stroke="#111" stroke-width="1.1"/>
<line x1="454.15" y1="123.00" x2="454.15" y2="126.00" stroke="#111" stroke-width="1.1"/>
<line x1="465.12" y1="123.00" x2="465.12" y2="126.00" stroke="#111" stroke-width="1.1"/>
<line x1="476.09" y1="123.00" x2="476.09" y2="126.00" stroke="#111" stroke-width="1.1"/>
<text x="376.20" y="27.20" font-size="7.4" text-anchor="start" font-weight="normal" fill="#222" dominant-baseline="central" textLength="14.52" lengthAdjust="spacingAndGlyphs">K562</text>
<text x="399.30" y="132.00" font-size="6.6" text-anchor="middle" font-weight="normal" fill="#333" dominant-baseline="central">-</text>
<text x="399.30" y="143.75" font-size="6.6" text-anchor="middle" font-weight="normal" fill="#333" dominant-baseline="central">-</text>
<text x="410.27" y="132.00" font-size="6.6" text-anchor="middle" font-weight="normal" fill="#333" dominant-baseline="central">-</text>
<text x="410.27" y="143.75" font-size="6.6" text-anchor="middle" font-weight="normal" fill="#333" dominant-baseline="central">+</text>
<text x="421.24" y="132.00" font-size="6.6" text-anchor="middle" font-weight="normal" fill="#333" dominant-baseline="central">10</text>
<text x="421.24" y="143.75" font-size="6.6" text-anchor="middle" font-weight="normal" fill="#333" dominant-baseline="central">-</text>
<text x="432.21" y="132.00" font-size="6.6" text-anchor="middle" font-weight="normal" fill="#333" dominant-baseline="central">10</text>
<text x="432.21" y="143.75" font-size="6.6" text-anchor="middle" font-weight="normal" fill="#333" dominant-baseline="central">+</text>
<text x="443.18" y="132.00" font-size="6.6" text-anchor="middle" font-weight="normal" fill="#333" dominant-baseline="central">20</text>
<text x="443.18" y="143.75" font-size="6.6" text-anchor="middle" font-weight="normal" fill="#333" dominant-baseline="central">-</text>
<text x="454.15" y="132.00" font-size="6.6" text-anchor="middle" font-weight="normal" fill="#333" dominant-baseline="central">20</text>
<text x="454.15" y="143.75" font-size="6.6" text-anchor="middle" font-weight="normal" fill="#333" dominant-baseline="central">+</text>
<text x="465.12" y="132.00" font-size="6.6" text-anchor="middle" font-weight="normal" fill="#333" dominant-baseline="central">30</text>
<text x="465.12" y="143.75" font-size="6.6" text-anchor="middle" font-weight="normal" fill="#333" dominant-baseline="central">-</text>
<text x="476.09" y="132.00" font-size="6.6" text-anchor="middle" font-weight="normal" fill="#333" dominant-baseline="central">30</text>
<text x="476.09" y="143.75" font-size="6.6" text-anchor="middle" font-weight="normal" fill="#333" dominant-baseline="central">+</text>
<text x="53.50" y="132.00" font-size="6.6" text-anchor="end" font-weight="normal" fill="#222" dominant-baseline="central" textLength="30" lengthAdjust="spacingAndGlyphs">3PO (µM)</text>
<text x="53.50" y="143.75" font-size="6.6" text-anchor="end" font-weight="normal" fill="#222" dominant-baseline="central" textLength="44" lengthAdjust="spacingAndGlyphs">Ruxo (250 nM)</text>
<text x="32.40" y="85.60" font-size="9.8" text-anchor="middle" font-weight="normal" fill="#222" dominant-baseline="central" transform="rotate(-90 32.40 85.60)" textLength="73" lengthAdjust="spacingAndGlyphs">Annexin V+ cells (%)</text>
<line x1="63.00" y1="190.00" x2="147.25" y2="190.00" stroke="#5c5c5c" stroke-width="1.25"/>
<path d="M100.25 187.30a0.9 0.9 0 1 0 1.8 0a0.9 0.9 0 1 0 -1.8 0M103.35 187.30a0.9 0.9 0 1 0 1.8 0a0.9 0.9 0 1 0 -1.8 0M106.45 187.30a0.9 0.9 0 1 0 1.8 0a0.9 0.9 0 1 0 -1.8 0" fill="#222"/>
<line x1="63.00" y1="192.00" x2="122.50" y2="192.00" stroke="#5c5c5c" stroke-width="1.25"/>
<line x1="63.00" y1="197.50" x2="80.50" y2="197.50" stroke="#5c5c5c" stroke-width="1.25"/>
<path d="M67.75 194.80a0.9 0.9 0 1 0 1.8 0a0.9 0.9 0 1 0 -1.8 0M70.85 194.80a0.9 0.9 0 1 0 1.8 0a0.9 0.9 0 1 0 -1.8 0M73.95 194.80a0.9 0.9 0 1 0 1.8 0a0.9 0.9 0 1 0 -1.8 0" fill="#222"/>
<line x1="73.50" y1="205.25" x2="121.25" y2="205.25" stroke="#5c5c5c" stroke-width="1.25"/>
<path d="M96.60 202.55a0.9 0.9 0 1 0 1.8 0a0.9 0.9 0 1 0 -1.8 0" fill="#222"/>
<line x1="84.25" y1="210.75" x2="102.50" y2="210.75" stroke="#5c5c5c" stroke-width="1.25"/>
<path d="M92.60 208.05a0.9 0.9 0 1 0 1.8 0a0.9 0.9 0 1 0 -1.8 0" fill="#222"/>
<rect x="61.05" y="208.03" width="7.30" height="55.32" fill="#5fb03c"/>
<line x1="64.70" y1="208.03" x2="64.70" y2="205.87" stroke="#333" stroke-width="1.0"/>
<line x1="63.10" y1="205.87" x2="66.30" y2="205.87" stroke="#333" stroke-width="1.0"/>
<rect x="72.02" y="231.74" width="7.30" height="31.61" fill="#2b5aa0"/>
<line x1="75.67" y1="231.74" x2="75.67" y2="229.58" stroke="#333" stroke-width="1.0"/>
<line x1="74.07" y1="229.58" x2="77.27" y2="229.58" stroke="#333" stroke-width="1.0"/>
<rect x="82.99" y="215.21" width="7.30" height="48.14" fill="#edb81b"/>
<line x1="86.64" y1="215.21" x2="86.64" y2="213.06" stroke="#333" stroke-width="1.0"/>
<line x1="85.04" y1="213.06" x2="88.24" y2="213.06" stroke="#333" stroke-width="1.0"/>
<rect x="93.96" y="232.45" width="7.30" height="30.90" fill="#2f6a4f"/>
<line x1="97.61" y1="232.45" x2="97.61" y2="230.30" stroke="#333" stroke-width="1.0"/>
<line x1="96.01" y1="230.30" x2="99.21" y2="230.30" stroke="#333" stroke-width="1.0"/>
<rect x="104.93" y="236.05" width="7.30" height="27.30" fill="#df891b"/>
<line x1="108.58" y1="236.05" x2="108.58" y2="233.17" stroke="#333" stroke-width="1.0"/>
<line x1="106.98" y1="233.17" x2="110.18" y2="233.17" stroke="#333" stroke-width="1.0"/>
<rect x="115.90" y="248.98" width="7.30" height="14.37" fill="#54256d"/>
<line x1="119.55" y1="248.98" x2="119.55" y2="245.39" stroke="#333" stroke-width="1.0"/>
<line x1="117.95" y1="245.39" x2="121.15" y2="245.39" stroke="#333" stroke-width="1.0"/>
<rect x="126.87" y="244.67" width="7.30" height="18.68" fill="#a6032c"/>
<line x1="130.52" y1="244.67" x2="130.52" y2="241.80" stroke="#333" stroke-width="1.0"/>
<line x1="128.92" y1="241.80" x2="132.12" y2="241.80" stroke="#333" stroke-width="1.0"/>
<rect x="137.84" y="244.67" width="7.30" height="18.68" fill="#c90b7c"/>
<line x1="141.49" y1="244.67" x2="141.49" y2="241.08" stroke="#333" stroke-width="1.0"/>
<line x1="139.89" y1="241.08" x2="143.09" y2="241.08" stroke="#333" stroke-width="1.0"/>
<line x1="59.60" y1="188.30" x2="59.60" y2="263.95" stroke="#111" stroke-width="1.3"/>
<line x1="59.00" y1="263.35" x2="148.60" y2="263.35" stroke="#111" stroke-width="1.3"/>
<line x1="56.60" y1="263.35" x2="59.60" y2="263.35" stroke="#111" stroke-width="1.0"/>
<line x1="56.60" y1="248.98" x2="59.60" y2="248.98" stroke="#111" stroke-width="1.0"/>
<line x1="56.60" y1="234.61" x2="59.60" y2="234.61" stroke="#111" stroke-width="1.0"/>
<line x1="56.60" y1="220.24" x2="59.60" y2="220.24" stroke="#111" stroke-width="1.0"/>
<line x1="56.60" y1="205.87" x2="59.60" y2="205.87" stroke="#111" stroke-width="1.0"/>
<line x1="56.60" y1="191.50" x2="59.60" y2="191.50" stroke="#111" stroke-width="1.0"/>
<line x1="56.60" y1="256.17" x2="59.60" y2="256.17" stroke="#111" stroke-width="1.0"/>
<line x1="56.60" y1="241.80" x2="59.60" y2="241.80" stroke="#111" stroke-width="1.0"/>
<line x1="56.60" y1="227.43" x2="59.60" y2="227.43" stroke="#111" stroke-width="1.0"/>
<line x1="56.60" y1="213.06" x2="59.60" y2="213.06" stroke="#111" stroke-width="1.0"/>
<line x1="56.60" y1="198.69" x2="59.60" y2="198.69" stroke="#111" stroke-width="1.0"/>
<text x="53.30" y="263.35" font-size="6.8" text-anchor="end" font-weight="normal" fill="#222" dominant-baseline="central">0</text>
<text x="53.30" y="248.98" font-size="6.8" text-anchor="end" font-weight="normal" fill="#222" dominant-baseline="central">20</text>
<text x="53.30" y="234.61" font-size="6.8" text-anchor="end" font-weight="normal" fill="#222" dominant-baseline="central">40</text>
<text x="53.30" y="220.24" font-size="6.8" text-anchor="end" font-weight="normal" fill="#222" dominant-baseline="central">60</text>
<text x="53.30" y="205.87" font-size="6.8" text-anchor="end" font-weight="normal" fill="#222" dominant-baseline="central">80</text>
<text x="53.30" y="191.50" font-size="6.8" text-anchor="end" font-weight="normal" fill="#222" dominant-baseline="central">100</text>
<line x1="64.70" y1="263.35" x2="64.70" y2="266.35" stroke="#111" stroke-width="1.1"/>
<line x1="75.67" y1="263.35" x2="75.67" y2="266.35" stroke="#111" stroke-width="1.1"/>
<line x1="86.64" y1="263.35" x2="86.64" y2="266.35" stroke="#111" stroke-width="1.1"/>
<line x1="97.61" y1="263.35" x2="97.61" y2="266.35" stroke="#111" stroke-width="1.1"/>
<line x1="108.58" y1="263.35" x2="108.58" y2="266.35" stroke="#111" stroke-width="1.1"/>
<line x1="119.55" y1="263.35" x2="119.55" y2="266.35" stroke="#111" stroke-width="1.1"/>
<line x1="130.52" y1="263.35" x2="130.52" y2="266.35" stroke="#111" stroke-width="1.1"/>
<line x1="141.49" y1="263.35" x2="141.49" y2="266.35" stroke="#111" stroke-width="1.1"/>
<text x="41.70" y="171.20" font-size="7.4" text-anchor="start" font-weight="normal" fill="#222" dominant-baseline="central" textLength="15.55" lengthAdjust="spacingAndGlyphs">SET2</text>
<text x="64.70" y="273.75" font-size="6.6" text-anchor="middle" font-weight="normal" fill="#333" dominant-baseline="central">-</text>
<text x="64.70" y="283.75" font-size="6.6" text-anchor="middle" font-weight="normal" fill="#333" dominant-baseline="central">-</text>
<text x="75.67" y="273.75" font-size="6.6" text-anchor="middle" font-weight="normal" fill="#333" dominant-baseline="central">-</text>
<text x="75.67" y="283.75" font-size="6.6" text-anchor="middle" font-weight="normal" fill="#333" dominant-baseline="central">+</text>
<text x="86.64" y="273.75" font-size="6.6" text-anchor="middle" font-weight="normal" fill="#333" dominant-baseline="central">10</text>
<text x="86.64" y="283.75" font-size="6.6" text-anchor="middle" font-weight="normal" fill="#333" dominant-baseline="central">-</text>
<text x="97.61" y="273.75" font-size="6.6" text-anchor="middle" font-weight="normal" fill="#333" dominant-baseline="central">10</text>
<text x="97.61" y="283.75" font-size="6.6" text-anchor="middle" font-weight="normal" fill="#333" dominant-baseline="central">+</text>
<text x="108.58" y="273.75" font-size="6.6" text-anchor="middle" font-weight="normal" fill="#333" dominant-baseline="central">20</text>
<text x="108.58" y="283.75" font-size="6.6" text-anchor="middle" font-weight="normal" fill="#333" dominant-baseline="central">-</text>
<text x="119.55" y="273.75" font-size="6.6" text-anchor="middle" font-weight="normal" fill="#333" dominant-baseline="central">20</text>
<text x="119.55" y="283.75" font-size="6.6" text-anchor="middle" font-weight="normal" fill="#333" dominant-baseline="central">+</text>
<text x="130.52" y="273.75" font-size="6.6" text-anchor="middle" font-weight="normal" fill="#333" dominant-baseline="central">30</text>
<text x="130.52" y="283.75" font-size="6.6" text-anchor="middle" font-weight="normal" fill="#333" dominant-baseline="central">-</text>
<text x="141.49" y="273.75" font-size="6.6" text-anchor="middle" font-weight="normal" fill="#333" dominant-baseline="central">30</text>
<text x="141.49" y="283.75" font-size="6.6" text-anchor="middle" font-weight="normal" fill="#333" dominant-baseline="central">+</text>
<line x1="174.75" y1="182.00" x2="245.00" y2="182.00" stroke="#5c5c5c" stroke-width="1.25"/>
<path d="M206.50 179.30a0.9 0.9 0 1 0 1.8 0a0.9 0.9 0 1 0 -1.8 0M209.60 179.30a0.9 0.9 0 1 0 1.8 0a0.9 0.9 0 1 0 -1.8 0M212.70 179.30a0.9 0.9 0 1 0 1.8 0a0.9 0.9 0 1 0 -1.8 0" fill="#222"/>
<line x1="174.75" y1="184.00" x2="222.50" y2="184.00" stroke="#5c5c5c" stroke-width="1.25"/>
<line x1="174.75" y1="189.50" x2="203.00" y2="189.50" stroke="#5c5c5c" stroke-width="1.25"/>
<path d="M186.05 186.80a0.9 0.9 0 1 0 1.8 0a0.9 0.9 0 1 0 -1.8 0M189.15 186.80a0.9 0.9 0 1 0 1.8 0a0.9 0.9 0 1 0 -1.8 0" fill="#222"/>
<line x1="185.50" y1="194.50" x2="256.75" y2="194.50" stroke="#5c5c5c" stroke-width="1.25"/>
<path d="M217.75 191.80a0.9 0.9 0 1 0 1.8 0a0.9 0.9 0 1 0 -1.8 0M220.85 191.80a0.9 0.9 0 1 0 1.8 0a0.9 0.9 0 1 0 -1.8 0M223.95 191.80a0.9 0.9 0 1 0 1.8 0a0.9 0.9 0 1 0 -1.8 0" fill="#222"/>
<line x1="185.50" y1="199.50" x2="233.50" y2="199.50" stroke="#5c5c5c" stroke-width="1.25"/>
<path d="M209.10 196.80a0.9 0.9 0 1 0 1.8 0a0.9 0.9 0 1 0 -1.8 0" fill="#222"/>
<rect x="172.85" y="200.84" width="7.30" height="62.51" fill="#5fb03c"/>
<line x1="176.50" y1="200.84" x2="176.50" y2="199.40" stroke="#333" stroke-width="1.0"/>
<line x1="174.90" y1="199.40" x2="178.10" y2="199.40" stroke="#333" stroke-width="1.0"/>
<rect x="183.82" y="203.00" width="7.30" height="60.35" fill="#2b5aa0"/>
<line x1="187.47" y1="203.00" x2="187.47" y2="201.56" stroke="#333" stroke-width="1.0"/>
<line x1="185.87" y1="201.56" x2="189.07" y2="201.56" stroke="#333" stroke-width="1.0"/>
<rect x="194.79" y="204.43" width="7.30" height="58.92" fill="#edb81b"/>
<line x1="198.44" y1="204.43" x2="198.44" y2="203.71" stroke="#333" stroke-width="1.0"/>
<line x1="196.84" y1="203.71" x2="200.04" y2="203.71" stroke="#333" stroke-width="1.0"/>
<rect x="205.76" y="207.31" width="7.30" height="56.04" fill="#2f6a4f"/>
<line x1="209.41" y1="207.31" x2="209.41" y2="205.87" stroke="#333" stroke-width="1.0"/>
<line x1="207.81" y1="205.87" x2="211.01" y2="205.87" stroke="#333" stroke-width="1.0"/>
<rect x="216.73" y="226.71" width="7.30" height="36.64" fill="#df891b"/>
<line x1="220.38" y1="226.71" x2="220.38" y2="220.96" stroke="#333" stroke-width="1.0"/>
<line x1="218.78" y1="220.96" x2="221.98" y2="220.96" stroke="#333" stroke-width="1.0"/>
<rect x="227.70" y="228.14" width="7.30" height="35.21" fill="#54256d"/>
<line x1="231.35" y1="228.14" x2="231.35" y2="223.11" stroke="#333" stroke-width="1.0"/>
<line x1="229.75" y1="223.11" x2="232.95" y2="223.11" stroke="#333" stroke-width="1.0"/>
<rect x="238.67" y="241.08" width="7.30" height="22.27" fill="#a6032c"/>
<line x1="242.32" y1="241.08" x2="242.32" y2="238.20" stroke="#333" stroke-width="1.0"/>
<line x1="240.72" y1="238.20" x2="243.92" y2="238.20" stroke="#333" stroke-width="1.0"/>
<rect x="249.64" y="241.80" width="7.30" height="21.56" fill="#c90b7c"/>
<line x1="253.29" y1="241.80" x2="253.29" y2="238.20" stroke="#333" stroke-width="1.0"/>
<line x1="251.69" y1="238.20" x2="254.89" y2="238.20" stroke="#333" stroke-width="1.0"/>
<line x1="171.50" y1="188.30" x2="171.50" y2="263.95" stroke="#111" stroke-width="1.3"/>
<line x1="170.90" y1="263.35" x2="260.50" y2="263.35" stroke="#111" stroke-width="1.3"/>
<line x1="168.50" y1="263.35" x2="171.50" y2="263.35" stroke="#111" stroke-width="1.0"/>
<line x1="168.50" y1="248.98" x2="171.50" y2="248.98" stroke="#111" stroke-width="1.0"/>
<line x1="168.50" y1="234.61" x2="171.50" y2="234.61" stroke="#111" stroke-width="1.0"/>
<line x1="168.50" y1="220.24" x2="171.50" y2="220.24" stroke="#111" stroke-width="1.0"/>
<line x1="168.50" y1="205.87" x2="171.50" y2="205.87" stroke="#111" stroke-width="1.0"/>
<line x1="168.50" y1="191.50" x2="171.50" y2="191.50" stroke="#111" stroke-width="1.0"/>
<line x1="168.50" y1="256.17" x2="171.50" y2="256.17" stroke="#111" stroke-width="1.0"/>
<line x1="168.50" y1="241.80" x2="171.50" y2="241.80" stroke="#111" stroke-width="1.0"/>
<line x1="168.50" y1="227.43" x2="171.50" y2="227.43" stroke="#111" stroke-width="1.0"/>
<line x1="168.50" y1="213.06" x2="171.50" y2="213.06" stroke="#111" stroke-width="1.0"/>
<line x1="168.50" y1="198.69" x2="171.50" y2="198.69" stroke="#111" stroke-width="1.0"/>
<text x="165.20" y="263.35" font-size="6.8" text-anchor="end" font-weight="normal" fill="#222" dominant-baseline="central">0</text>
<text x="165.20" y="248.98" font-size="6.8" text-anchor="end" font-weight="normal" fill="#222" dominant-baseline="central">20</text>
<text x="165.20" y="234.61" font-size="6.8" text-anchor="end" font-weight="normal" fill="#222" dominant-baseline="central">40</text>
<text x="165.20" y="220.24" font-size="6.8" text-anchor="end" font-weight="normal" fill="#222" dominant-baseline="central">60</text>
<text x="165.20" y="205.87" font-size="6.8" text-anchor="end" font-weight="normal" fill="#222" dominant-baseline="central">80</text>
<text x="165.20" y="191.50" font-size="6.8" text-anchor="end" font-weight="normal" fill="#222" dominant-baseline="central">100</text>
<line x1="176.50" y1="263.35" x2="176.50" y2="266.35" stroke="#111" stroke-width="1.1"/>
<line x1="187.47" y1="263.35" x2="187.47" y2="266.35" stroke="#111" stroke-width="1.1"/>
<line x1="198.44" y1="263.35" x2="198.44" y2="266.35" stroke="#111" stroke-width="1.1"/>
<line x1="209.41" y1="263.35" x2="209.41" y2="266.35" stroke="#111" stroke-width="1.1"/>
<line x1="220.38" y1="263.35" x2="220.38" y2="266.35" stroke="#111" stroke-width="1.1"/>
<line x1="231.35" y1="263.35" x2="231.35" y2="266.35" stroke="#111" stroke-width="1.1"/>
<line x1="242.32" y1="263.35" x2="242.32" y2="266.35" stroke="#111" stroke-width="1.1"/>
<line x1="253.29" y1="263.35" x2="253.29" y2="266.35" stroke="#111" stroke-width="1.1"/>
<text x="153.45" y="171.20" font-size="7.4" text-anchor="start" font-weight="normal" fill="#222" dominant-baseline="central" textLength="12.09" lengthAdjust="spacingAndGlyphs">HEL</text>
<text x="176.50" y="273.75" font-size="6.6" text-anchor="middle" font-weight="normal" fill="#333" dominant-baseline="central">-</text>
<text x="176.50" y="283.75" font-size="6.6" text-anchor="middle" font-weight="normal" fill="#333" dominant-baseline="central">-</text>
<text x="187.47" y="273.75" font-size="6.6" text-anchor="middle" font-weight="normal" fill="#333" dominant-baseline="central">-</text>
<text x="187.47" y="283.75" font-size="6.6" text-anchor="middle" font-weight="normal" fill="#333" dominant-baseline="central">+</text>
<text x="198.44" y="273.75" font-size="6.6" text-anchor="middle" font-weight="normal" fill="#333" dominant-baseline="central">10</text>
<text x="198.44" y="283.75" font-size="6.6" text-anchor="middle" font-weight="normal" fill="#333" dominant-baseline="central">-</text>
<text x="209.41" y="273.75" font-size="6.6" text-anchor="middle" font-weight="normal" fill="#333" dominant-baseline="central">10</text>
<text x="209.41" y="283.75" font-size="6.6" text-anchor="middle" font-weight="normal" fill="#333" dominant-baseline="central">+</text>
<text x="220.38" y="273.75" font-size="6.6" text-anchor="middle" font-weight="normal" fill="#333" dominant-baseline="central">20</text>
<text x="220.38" y="283.75" font-size="6.6" text-anchor="middle" font-weight="normal" fill="#333" dominant-baseline="central">-</text>
<text x="231.35" y="273.75" font-size="6.6" text-anchor="middle" font-weight="normal" fill="#333" dominant-baseline="central">20</text>
<text x="231.35" y="283.75" font-size="6.6" text-anchor="middle" font-weight="normal" fill="#333" dominant-baseline="central">+</text>
<text x="242.32" y="273.75" font-size="6.6" text-anchor="middle" font-weight="normal" fill="#333" dominant-baseline="central">30</text>
<text x="242.32" y="283.75" font-size="6.6" text-anchor="middle" font-weight="normal" fill="#333" dominant-baseline="central">-</text>
<text x="253.29" y="273.75" font-size="6.6" text-anchor="middle" font-weight="normal" fill="#333" dominant-baseline="central">30</text>
<text x="253.29" y="283.75" font-size="6.6" text-anchor="middle" font-weight="normal" fill="#333" dominant-baseline="central">+</text>
<line x1="285.50" y1="183.75" x2="368.00" y2="183.75" stroke="#5c5c5c" stroke-width="1.25"/>
<path d="M350.55 181.05a0.9 0.9 0 1 0 1.8 0a0.9 0.9 0 1 0 -1.8 0M353.65 181.05a0.9 0.9 0 1 0 1.8 0a0.9 0.9 0 1 0 -1.8 0" fill="#222"/>
<line x1="285.50" y1="188.75" x2="356.75" y2="188.75" stroke="#5c5c5c" stroke-width="1.25"/>
<path d="M344.30 186.05a0.9 0.9 0 1 0 1.8 0a0.9 0.9 0 1 0 -1.8 0M347.40 186.05a0.9 0.9 0 1 0 1.8 0a0.9 0.9 0 1 0 -1.8 0" fill="#222"/>
<line x1="285.50" y1="194.25" x2="345.50" y2="194.25" stroke="#5c5c5c" stroke-width="1.25"/>
<path d="M336.05 191.55a0.9 0.9 0 1 0 1.8 0a0.9 0.9 0 1 0 -1.8 0M339.15 191.55a0.9 0.9 0 1 0 1.8 0a0.9 0.9 0 1 0 -1.8 0" fill="#222"/>
<line x1="285.50" y1="199.25" x2="341.00" y2="199.25" stroke="#5c5c5c" stroke-width="1.25"/>
<path d="M329.30 196.55a0.9 0.9 0 1 0 1.8 0a0.9 0.9 0 1 0 -1.8 0M332.40 196.55a0.9 0.9 0 1 0 1.8 0a0.9 0.9 0 1 0 -1.8 0" fill="#222"/>
<line x1="285.50" y1="204.50" x2="335.00" y2="204.50" stroke="#5c5c5c" stroke-width="1.25"/>
<path d="M325.85 201.80a0.9 0.9 0 1 0 1.8 0a0.9 0.9 0 1 0 -1.8 0" fill="#222"/>
<line x1="285.50" y1="209.50" x2="326.00" y2="209.50" stroke="#5c5c5c" stroke-width="1.25"/>
<path d="M313.05 206.80a0.9 0.9 0 1 0 1.8 0a0.9 0.9 0 1 0 -1.8 0M316.15 206.80a0.9 0.9 0 1 0 1.8 0a0.9 0.9 0 1 0 -1.8 0" fill="#222"/>
<rect x="284.30" y="221.68" width="7.30" height="41.67" fill="#5fb03c"/>
<line x1="287.95" y1="221.68" x2="287.95" y2="212.34" stroke="#333" stroke-width="1.0"/>
<line x1="286.35" y1="212.34" x2="289.55" y2="212.34" stroke="#333" stroke-width="1.0"/>
<rect x="295.27" y="228.14" width="7.30" height="35.21" fill="#2b5aa0"/>
<line x1="298.92" y1="228.14" x2="298.92" y2="220.96" stroke="#333" stroke-width="1.0"/>
<line x1="297.32" y1="220.96" x2="300.52" y2="220.96" stroke="#333" stroke-width="1.0"/>
<rect x="306.24" y="246.82" width="7.30" height="16.53" fill="#edb81b"/>
<line x1="309.89" y1="246.82" x2="309.89" y2="242.51" stroke="#333" stroke-width="1.0"/>
<line x1="308.29" y1="242.51" x2="311.49" y2="242.51" stroke="#333" stroke-width="1.0"/>
<rect x="317.21" y="242.51" width="7.30" height="20.84" fill="#2f6a4f"/>
<line x1="320.86" y1="242.51" x2="320.86" y2="241.08" stroke="#333" stroke-width="1.0"/>
<line x1="319.26" y1="241.08" x2="322.46" y2="241.08" stroke="#333" stroke-width="1.0"/>
<rect x="328.18" y="248.26" width="7.30" height="15.09" fill="#df891b"/>
<line x1="331.83" y1="248.26" x2="331.83" y2="242.51" stroke="#333" stroke-width="1.0"/>
<line x1="330.23" y1="242.51" x2="333.43" y2="242.51" stroke="#333" stroke-width="1.0"/>
<rect x="339.15" y="249.70" width="7.30" height="13.65" fill="#54256d"/>
<line x1="342.80" y1="249.70" x2="342.80" y2="249.34" stroke="#333" stroke-width="1.0"/>
<line x1="341.20" y1="249.34" x2="344.40" y2="249.34" stroke="#333" stroke-width="1.0"/>
<rect x="350.12" y="254.73" width="7.30" height="8.62" fill="#a6032c"/>
<line x1="353.77" y1="254.73" x2="353.77" y2="251.85" stroke="#333" stroke-width="1.0"/>
<line x1="352.17" y1="251.85" x2="355.37" y2="251.85" stroke="#333" stroke-width="1.0"/>
<rect x="361.09" y="247.54" width="7.30" height="15.81" fill="#c90b7c"/>
<line x1="364.74" y1="247.54" x2="364.74" y2="245.39" stroke="#333" stroke-width="1.0"/>
<line x1="363.14" y1="245.39" x2="366.34" y2="245.39" stroke="#333" stroke-width="1.0"/>
<line x1="282.80" y1="188.30" x2="282.80" y2="263.95" stroke="#111" stroke-width="1.3"/>
<line x1="282.20" y1="263.35" x2="371.80" y2="263.35" stroke="#111" stroke-width="1.3"/>
<line x1="279.80" y1="263.35" x2="282.80" y2="263.35" stroke="#111" stroke-width="1.0"/>
<line x1="279.80" y1="248.98" x2="282.80" y2="248.98" stroke="#111" stroke-width="1.0"/>
<line x1="279.80" y1="234.61" x2="282.80" y2="234.61" stroke="#111" stroke-width="1.0"/>
<line x1="279.80" y1="220.24" x2="282.80" y2="220.24" stroke="#111" stroke-width="1.0"/>
<line x1="279.80" y1="205.87" x2="282.80" y2="205.87" stroke="#111" stroke-width="1.0"/>
<line x1="279.80" y1="191.50" x2="282.80" y2="191.50" stroke="#111" stroke-width="1.0"/>
<line x1="279.80" y1="256.17" x2="282.80" y2="256.17" stroke="#111" stroke-width="1.0"/>
<line x1="279.80" y1="241.80" x2="282.80" y2="241.80" stroke="#111" stroke-width="1.0"/>
<line x1="279.80" y1="227.43" x2="282.80" y2="227.43" stroke="#111" stroke-width="1.0"/>
<line x1="279.80" y1="213.06" x2="282.80" y2="213.06" stroke="#111" stroke-width="1.0"/>
<line x1="279.80" y1="198.69" x2="282.80" y2="198.69" stroke="#111" stroke-width="1.0"/>
<text x="276.50" y="263.35" font-size="6.8" text-anchor="end" font-weight="normal" fill="#222" dominant-baseline="central">0</text>
<text x="276.50" y="248.98" font-size="6.8" text-anchor="end" font-weight="normal" fill="#222" dominant-baseline="central">20</text>
<text x="276.50" y="234.61" font-size="6.8" text-anchor="end" font-weight="normal" fill="#222" dominant-baseline="central">40</text>
<text x="276.50" y="220.24" font-size="6.8" text-anchor="end" font-weight="normal" fill="#222" dominant-baseline="central">60</text>
<text x="276.50" y="205.87" font-size="6.8" text-anchor="end" font-weight="normal" fill="#222" dominant-baseline="central">80</text>
<text x="276.50" y="191.50" font-size="6.8" text-anchor="end" font-weight="normal" fill="#222" dominant-baseline="central">100</text>
<line x1="287.95" y1="263.35" x2="287.95" y2="266.35" stroke="#111" stroke-width="1.1"/>
<line x1="298.92" y1="263.35" x2="298.92" y2="266.35" stroke="#111" stroke-width="1.1"/>
<line x1="309.89" y1="263.35" x2="309.89" y2="266.35" stroke="#111" stroke-width="1.1"/>
<line x1="320.86" y1="263.35" x2="320.86" y2="266.35" stroke="#111" stroke-width="1.1"/>
<line x1="331.83" y1="263.35" x2="331.83" y2="266.35" stroke="#111" stroke-width="1.1"/>
<line x1="342.80" y1="263.35" x2="342.80" y2="266.35" stroke="#111" stroke-width="1.1"/>
<line x1="353.77" y1="263.35" x2="353.77" y2="266.35" stroke="#111" stroke-width="1.1"/>
<line x1="364.74" y1="263.35" x2="364.74" y2="266.35" stroke="#111" stroke-width="1.1"/>
<text x="264.20" y="171.20" font-size="7.4" text-anchor="start" font-weight="normal" fill="#222" dominant-baseline="central" textLength="16.24" lengthAdjust="spacingAndGlyphs">UKE1</text>
<text x="287.95" y="273.75" font-size="6.6" text-anchor="middle" font-weight="normal" fill="#333" dominant-baseline="central">-</text>
<text x="287.95" y="283.75" font-size="6.6" text-anchor="middle" font-weight="normal" fill="#333" dominant-baseline="central">-</text>
<text x="298.92" y="273.75" font-size="6.6" text-anchor="middle" font-weight="normal" fill="#333" dominant-baseline="central">-</text>
<text x="298.92" y="283.75" font-size="6.6" text-anchor="middle" font-weight="normal" fill="#333" dominant-baseline="central">+</text>
<text x="309.89" y="273.75" font-size="6.6" text-anchor="middle" font-weight="normal" fill="#333" dominant-baseline="central">10</text>
<text x="309.89" y="283.75" font-size="6.6" text-anchor="middle" font-weight="normal" fill="#333" dominant-baseline="central">-</text>
<text x="320.86" y="273.75" font-size="6.6" text-anchor="middle" font-weight="normal" fill="#333" dominant-baseline="central">10</text>
<text x="320.86" y="283.75" font-size="6.6" text-anchor="middle" font-weight="normal" fill="#333" dominant-baseline="central">+</text>
<text x="331.83" y="273.75" font-size="6.6" text-anchor="middle" font-weight="normal" fill="#333" dominant-baseline="central">20</text>
<text x="331.83" y="283.75" font-size="6.6" text-anchor="middle" font-weight="normal" fill="#333" dominant-baseline="central">-</text>
<text x="342.80" y="273.75" font-size="6.6" text-anchor="middle" font-weight="normal" fill="#333" dominant-baseline="central">20</text>
<text x="342.80" y="283.75" font-size="6.6" text-anchor="middle" font-weight="normal" fill="#333" dominant-baseline="central">+</text>
<text x="353.77" y="273.75" font-size="6.6" text-anchor="middle" font-weight="normal" fill="#333" dominant-baseline="central">30</text>
<text x="353.77" y="283.75" font-size="6.6" text-anchor="middle" font-weight="normal" fill="#333" dominant-baseline="central">-</text>
<text x="364.74" y="273.75" font-size="6.6" text-anchor="middle" font-weight="normal" fill="#333" dominant-baseline="central">30</text>
<text x="364.74" y="283.75" font-size="6.6" text-anchor="middle" font-weight="normal" fill="#333" dominant-baseline="central">+</text>
<line x1="397.50" y1="194.50" x2="481.00" y2="194.50" stroke="#5c5c5c" stroke-width="1.25"/>
<path d="M467.55 191.80a0.9 0.9 0 1 0 1.8 0a0.9 0.9 0 1 0 -1.8 0M470.65 191.80a0.9 0.9 0 1 0 1.8 0a0.9 0.9 0 1 0 -1.8 0" fill="#222"/>
<line x1="397.50" y1="202.00" x2="470.00" y2="202.00" stroke="#5c5c5c" stroke-width="1.25"/>
<path d="M460.55 199.30a0.9 0.9 0 1 0 1.8 0a0.9 0.9 0 1 0 -1.8 0M463.65 199.30a0.9 0.9 0 1 0 1.8 0a0.9 0.9 0 1 0 -1.8 0" fill="#222"/>
<rect x="395.60" y="208.03" width="7.30" height="55.32" fill="#5fb03c"/>
<line x1="399.25" y1="208.03" x2="399.25" y2="204.43" stroke="#333" stroke-width="1.0"/>
<line x1="397.65" y1="204.43" x2="400.85" y2="204.43" stroke="#333" stroke-width="1.0"/>
<rect x="406.57" y="212.34" width="7.30" height="51.01" fill="#2b5aa0"/>
<line x1="410.22" y1="212.34" x2="410.22" y2="207.31" stroke="#333" stroke-width="1.0"/>
<line x1="408.62" y1="207.31" x2="411.82" y2="207.31" stroke="#333" stroke-width="1.0"/>
<rect x="417.54" y="214.49" width="7.30" height="48.86" fill="#edb81b"/>
<line x1="421.19" y1="214.49" x2="421.19" y2="209.46" stroke="#333" stroke-width="1.0"/>
<line x1="419.59" y1="209.46" x2="422.79" y2="209.46" stroke="#333" stroke-width="1.0"/>
<rect x="428.51" y="215.21" width="7.30" height="48.14" fill="#2f6a4f"/>
<line x1="432.16" y1="215.21" x2="432.16" y2="210.18" stroke="#333" stroke-width="1.0"/>
<line x1="430.56" y1="210.18" x2="433.76" y2="210.18" stroke="#333" stroke-width="1.0"/>
<rect x="439.48" y="215.21" width="7.30" height="48.14" fill="#df891b"/>
<line x1="443.13" y1="215.21" x2="443.13" y2="210.90" stroke="#333" stroke-width="1.0"/>
<line x1="441.53" y1="210.90" x2="444.73" y2="210.90" stroke="#333" stroke-width="1.0"/>
<rect x="450.45" y="215.93" width="7.30" height="47.42" fill="#54256d"/>
<line x1="454.10" y1="215.93" x2="454.10" y2="212.34" stroke="#333" stroke-width="1.0"/>
<line x1="452.50" y1="212.34" x2="455.70" y2="212.34" stroke="#333" stroke-width="1.0"/>
<rect x="461.42" y="225.27" width="7.30" height="38.08" fill="#a6032c"/>
<line x1="465.07" y1="225.27" x2="465.07" y2="222.40" stroke="#333" stroke-width="1.0"/>
<line x1="463.47" y1="222.40" x2="466.67" y2="222.40" stroke="#333" stroke-width="1.0"/>
<rect x="472.39" y="220.24" width="7.30" height="43.11" fill="#c90b7c"/>
<line x1="476.04" y1="220.24" x2="476.04" y2="218.80" stroke="#333" stroke-width="1.0"/>
<line x1="474.44" y1="218.80" x2="477.64" y2="218.80" stroke="#333" stroke-width="1.0"/>
<line x1="394.20" y1="188.30" x2="394.20" y2="263.95" stroke="#111" stroke-width="1.3"/>
<line x1="393.60" y1="263.35" x2="483.20" y2="263.35" stroke="#111" stroke-width="1.3"/>
<line x1="391.20" y1="263.35" x2="394.20" y2="263.35" stroke="#111" stroke-width="1.0"/>
<line x1="391.20" y1="248.98" x2="394.20" y2="248.98" stroke="#111" stroke-width="1.0"/>
<line x1="391.20" y1="234.61" x2="394.20" y2="234.61" stroke="#111" stroke-width="1.0"/>
<line x1="391.20" y1="220.24" x2="394.20" y2="220.24" stroke="#111" stroke-width="1.0"/>
<line x1="391.20" y1="205.87" x2="394.20" y2="205.87" stroke="#111" stroke-width="1.0"/>
<line x1="391.20" y1="191.50" x2="394.20" y2="191.50" stroke="#111" stroke-width="1.0"/>
<line x1="391.20" y1="256.17" x2="394.20" y2="256.17" stroke="#111" stroke-width="1.0"/>
<line x1="391.20" y1="241.80" x2="394.20" y2="241.80" stroke="#111" stroke-width="1.0"/>
<line x1="391.20" y1="227.43" x2="394.20" y2="227.43" stroke="#111" stroke-width="1.0"/>
<line x1="391.20" y1="213.06" x2="394.20" y2="213.06" stroke="#111" stroke-width="1.0"/>
<line x1="391.20" y1="198.69" x2="394.20" y2="198.69" stroke="#111" stroke-width="1.0"/>
<text x="387.90" y="263.35" font-size="6.8" text-anchor="end" font-weight="normal" fill="#222" dominant-baseline="central">0</text>
<text x="387.90" y="248.98" font-size="6.8" text-anchor="end" font-weight="normal" fill="#222" dominant-baseline="central">20</text>
<text x="387.90" y="234.61" font-size="6.8" text-anchor="end" font-weight="normal" fill="#222" dominant-baseline="central">40</text>
<text x="387.90" y="220.24" font-size="6.8" text-anchor="end" font-weight="normal" fill="#222" dominant-baseline="central">60</text>
<text x="387.90" y="205.87" font-size="6.8" text-anchor="end" font-weight="normal" fill="#222" dominant-baseline="central">80</text>
<text x="387.90" y="191.50" font-size="6.8" text-anchor="end" font-weight="normal" fill="#222" dominant-baseline="central">100</text>
<line x1="399.25" y1="263.35" x2="399.25" y2="266.35" stroke="#111" stroke-width="1.1"/>
<line x1="410.22" y1="263.35" x2="410.22" y2="266.35" stroke="#111" stroke-width="1.1"/>
<line x1="421.19" y1="263.35" x2="421.19" y2="266.35" stroke="#111" stroke-width="1.1"/>
<line x1="432.16" y1="263.35" x2="432.16" y2="266.35" stroke="#111" stroke-width="1.1"/>
<line x1="443.13" y1="263.35" x2="443.13" y2="266.35" stroke="#111" stroke-width="1.1"/>
<line x1="454.10" y1="263.35" x2="454.10" y2="266.35" stroke="#111" stroke-width="1.1"/>
<line x1="465.07" y1="263.35" x2="465.07" y2="266.35" stroke="#111" stroke-width="1.1"/>
<line x1="476.04" y1="263.35" x2="476.04" y2="266.35" stroke="#111" stroke-width="1.1"/>
<text x="375.45" y="171.20" font-size="7.4" text-anchor="start" font-weight="normal" fill="#222" dominant-baseline="central" textLength="14.52" lengthAdjust="spacingAndGlyphs">K562</text>
<text x="399.25" y="273.75" font-size="6.6" text-anchor="middle" font-weight="normal" fill="#333" dominant-baseline="central">-</text>
<text x="399.25" y="283.75" font-size="6.6" text-anchor="middle" font-weight="normal" fill="#333" dominant-baseline="central">-</text>
<text x="410.22" y="273.75" font-size="6.6" text-anchor="middle" font-weight="normal" fill="#333" dominant-baseline="central">-</text>
<text x="410.22" y="283.75" font-size="6.6" text-anchor="middle" font-weight="normal" fill="#333" dominant-baseline="central">+</text>
<text x="421.19" y="273.75" font-size="6.6" text-anchor="middle" font-weight="normal" fill="#333" dominant-baseline="central">10</text>
<text x="421.19" y="283.75" font-size="6.6" text-anchor="middle" font-weight="normal" fill="#333" dominant-baseline="central">-</text>
<text x="432.16" y="273.75" font-size="6.6" text-anchor="middle" font-weight="normal" fill="#333" dominant-baseline="central">10</text>
<text x="432.16" y="283.75" font-size="6.6" text-anchor="middle" font-weight="normal" fill="#333" dominant-baseline="central">+</text>
<text x="443.13" y="273.75" font-size="6.6" text-anchor="middle" font-weight="normal" fill="#333" dominant-baseline="central">20</text>
<text x="443.13" y="283.75" font-size="6.6" text-anchor="middle" font-weight="normal" fill="#333" dominant-baseline="central">-</text>
<text x="454.10" y="273.75" font-size="6.6" text-anchor="middle" font-weight="normal" fill="#333" dominant-baseline="central">20</text>
<text x="454.10" y="283.75" font-size="6.6" text-anchor="middle" font-weight="normal" fill="#333" dominant-baseline="central">+</text>
<text x="465.07" y="273.75" font-size="6.6" text-anchor="middle" font-weight="normal" fill="#333" dominant-baseline="central">30</text>
<text x="465.07" y="283.75" font-size="6.6" text-anchor="middle" font-weight="normal" fill="#333" dominant-baseline="central">-</text>
<text x="476.04" y="273.75" font-size="6.6" text-anchor="middle" font-weight="normal" fill="#333" dominant-baseline="central">30</text>
<text x="476.04" y="283.75" font-size="6.6" text-anchor="middle" font-weight="normal" fill="#333" dominant-baseline="central">+</text>
<text x="53.50" y="273.75" font-size="6.6" text-anchor="end" font-weight="normal" fill="#222" dominant-baseline="central" textLength="30" lengthAdjust="spacingAndGlyphs">3PO (µM)</text>
<text x="53.50" y="283.75" font-size="6.6" text-anchor="end" font-weight="normal" fill="#222" dominant-baseline="central" textLength="44" lengthAdjust="spacingAndGlyphs">Ruxo (250 nM)</text>
<text x="33.75" y="226.00" font-size="9.8" text-anchor="middle" font-weight="normal" fill="#222" dominant-baseline="central" transform="rotate(-90 33.75 226.00)" textLength="51" lengthAdjust="spacingAndGlyphs">Ki-67+ cells (%)</text>
<text x="7.70" y="296.80" font-size="11.8" text-anchor="start" font-weight="bold" fill="#000" dominant-baseline="central" textLength="7.5" lengthAdjust="spacingAndGlyphs" stroke="#000" stroke-width="0.3">C</text>
<text x="25.80" y="299.00" font-size="9.5" text-anchor="start" font-weight="normal" fill="#111" dominant-baseline="central" textLength="192" lengthAdjust="spacingAndGlyphs">Glycolysis rate in  human myeloid leukemia cells</text>
<text x="7.70" y="451.20" font-size="11.8" text-anchor="start" font-weight="bold" fill="#000" dominant-baseline="central" textLength="8.8" lengthAdjust="spacingAndGlyphs" stroke="#000" stroke-width="0.3">D</text>
<text x="28.10" y="453.30" font-size="9.5" text-anchor="start" font-weight="normal" fill="#111" dominant-baseline="central" textLength="293" lengthAdjust="spacingAndGlyphs">Mitochondrial oxygen consumption rate in human myeloid leukemia cells</text>
<text x="41.70" y="311.20" font-size="7.4" text-anchor="start" font-weight="normal" fill="#222" dominant-baseline="central" textLength="15.55" lengthAdjust="spacingAndGlyphs">SET2</text>
<text x="160.20" y="311.00" font-size="7.4" text-anchor="start" font-weight="normal" fill="#222" dominant-baseline="central" textLength="12.09" lengthAdjust="spacingAndGlyphs">HEL</text>
<text x="280.00" y="311.00" font-size="7.4" text-anchor="start" font-weight="normal" fill="#222" dominant-baseline="central" textLength="16.24" lengthAdjust="spacingAndGlyphs">UKE1</text>
<text x="399.40" y="311.20" font-size="7.4" text-anchor="start" font-weight="normal" fill="#222" dominant-baseline="central" textLength="14.52" lengthAdjust="spacingAndGlyphs">K562</text>
<text x="40.70" y="466.20" font-size="7.4" text-anchor="start" font-weight="normal" fill="#222" dominant-baseline="central" textLength="15.55" lengthAdjust="spacingAndGlyphs">SET2</text>
<text x="160.20" y="465.00" font-size="7.4" text-anchor="start" font-weight="normal" fill="#222" dominant-baseline="central" textLength="12.09" lengthAdjust="spacingAndGlyphs">HEL</text>
<text x="279.40" y="465.00" font-size="7.4" text-anchor="start" font-weight="normal" fill="#222" dominant-baseline="central" textLength="16.24" lengthAdjust="spacingAndGlyphs">UKE1</text>
<text x="399.40" y="465.00" font-size="7.4" text-anchor="start" font-weight="normal" fill="#222" dominant-baseline="central" textLength="14.52" lengthAdjust="spacingAndGlyphs">K562</text>
<line x1="59.40" y1="343.20" x2="59.40" y2="406.90" stroke="#111" stroke-width="1.3"/>
<line x1="58.80" y1="406.30" x2="153.90" y2="406.30" stroke="#111" stroke-width="1.3"/>
<line x1="56.40" y1="406.30" x2="59.40" y2="406.30" stroke="#111" stroke-width="1.0"/>
<text x="53.90" y="406.30" font-size="6.8" text-anchor="end" font-weight="normal" fill="#222" dominant-baseline="central">0</text>
<line x1="56.40" y1="396.20" x2="59.40" y2="396.20" stroke="#111" stroke-width="1.0"/>
<text x="53.90" y="396.20" font-size="6.8" text-anchor="end" font-weight="normal" fill="#222" dominant-baseline="central">20</text>
<line x1="56.40" y1="386.10" x2="59.40" y2="386.10" stroke="#111" stroke-width="1.0"/>
<text x="53.90" y="386.10" font-size="6.8" text-anchor="end" font-weight="normal" fill="#222" dominant-baseline="central">40</text>
<line x1="56.40" y1="376.00" x2="59.40" y2="376.00" stroke="#111" stroke-width="1.0"/>
<text x="53.90" y="376.00" font-size="6.8" text-anchor="end" font-weight="normal" fill="#222" dominant-baseline="central">60</text>
<line x1="56.40" y1="365.90" x2="59.40" y2="365.90" stroke="#111" stroke-width="1.0"/>
<text x="53.90" y="365.90" font-size="6.8" text-anchor="end" font-weight="normal" fill="#222" dominant-baseline="central">80</text>
<line x1="56.40" y1="355.80" x2="59.40" y2="355.80" stroke="#111" stroke-width="1.0"/>
<text x="53.90" y="355.80" font-size="6.8" text-anchor="end" font-weight="normal" fill="#222" dominant-baseline="central">100</text>
<line x1="56.40" y1="345.70" x2="59.40" y2="345.70" stroke="#111" stroke-width="1.0"/>
<text x="53.90" y="345.70" font-size="6.8" text-anchor="end" font-weight="normal" fill="#222" dominant-baseline="central">120</text>
<line x1="59.40" y1="406.30" x2="59.40" y2="408.80" stroke="#111" stroke-width="1.0"/>
<text x="59.40" y="416.30" font-size="6.8" text-anchor="middle" font-weight="normal" fill="#222" dominant-baseline="central">0</text>
<line x1="69.53" y1="406.30" x2="69.53" y2="408.80" stroke="#111" stroke-width="1.0"/>
<text x="69.53" y="416.30" font-size="6.8" text-anchor="middle" font-weight="normal" fill="#222" dominant-baseline="central">10</text>
<line x1="79.66" y1="406.30" x2="79.66" y2="408.80" stroke="#111" stroke-width="1.0"/>
<text x="79.66" y="416.30" font-size="6.8" text-anchor="middle" font-weight="normal" fill="#222" dominant-baseline="central">20</text>
<line x1="89.79" y1="406.30" x2="89.79" y2="408.80" stroke="#111" stroke-width="1.0"/>
<text x="89.79" y="416.30" font-size="6.8" text-anchor="middle" font-weight="normal" fill="#222" dominant-baseline="central">30</text>
<line x1="99.92" y1="406.30" x2="99.92" y2="408.80" stroke="#111" stroke-width="1.0"/>
<text x="99.92" y="416.30" font-size="6.8" text-anchor="middle" font-weight="normal" fill="#222" dominant-baseline="central">40</text>
<line x1="110.05" y1="406.30" x2="110.05" y2="408.80" stroke="#111" stroke-width="1.0"/>
<text x="110.05" y="416.30" font-size="6.8" text-anchor="middle" font-weight="normal" fill="#222" dominant-baseline="central">50</text>
<line x1="120.18" y1="406.30" x2="120.18" y2="408.80" stroke="#111" stroke-width="1.0"/>
<text x="120.18" y="416.30" font-size="6.8" text-anchor="middle" font-weight="normal" fill="#222" dominant-baseline="central">60</text>
<line x1="130.31" y1="406.30" x2="130.31" y2="408.80" stroke="#111" stroke-width="1.0"/>
<text x="130.31" y="416.30" font-size="6.8" text-anchor="middle" font-weight="normal" fill="#222" dominant-baseline="central">70</text>
<line x1="140.44" y1="406.30" x2="140.44" y2="408.80" stroke="#111" stroke-width="1.0"/>
<text x="140.44" y="416.30" font-size="6.8" text-anchor="middle" font-weight="normal" fill="#222" dominant-baseline="central">80</text>
<line x1="150.57" y1="406.30" x2="150.57" y2="408.80" stroke="#111" stroke-width="1.0"/>
<text x="150.57" y="416.30" font-size="6.8" text-anchor="middle" font-weight="normal" fill="#222" dominant-baseline="central">90</text>
<path d="M58.2 392.2h2.4M59.4 392.2V394.2M58.2 394.2h2.4M63.8 394.4h2.4M65.0 394.4V396.4M63.8 396.4h2.4M69.3 394.4h2.4M70.5 394.4V396.4M69.3 396.4h2.4M74.9 394.4h2.4M76.1 394.4V396.4M74.9 396.4h2.4M80.5 393.2h2.4M81.7 393.2V395.2M80.5 395.2h2.4M86.1 391.2h2.4M87.3 391.2V393.2M86.1 393.2h2.4M91.6 389.9h2.4M92.8 389.9V391.9M91.6 391.9h2.4M97.2 389.3h2.4M98.4 389.3V391.4M97.2 391.4h2.4M102.8 394.7h2.4M104.0 394.7V396.7M102.8 396.7h2.4M108.3 393.3h2.4M109.5 393.3V395.3M108.3 395.3h2.4M113.9 392.7h2.4M115.1 392.7V394.7M113.9 394.7h2.4M119.5 392.7h2.4M120.7 392.7V394.7M119.5 394.7h2.4M125.1 395.2h2.4M126.3 395.2V397.2M125.1 397.2h2.4M130.6 398.2h2.4M131.8 398.2V400.2M130.6 400.2h2.4M136.2 399.2h2.4M137.4 399.2V401.2M136.2 401.2h2.4M141.8 399.7h2.4M143.0 399.7V401.8M141.8 401.8h2.4" stroke="#b0093a" stroke-width="0.9" fill="none"/>
<polyline points="59.4,393.2 65.0,395.4 70.5,395.4 76.1,395.4 81.7,394.2 87.3,392.2 92.8,390.9 98.4,390.3 104.0,395.7 109.5,394.3 115.1,393.7 120.7,393.7 126.3,396.2 131.8,399.2 137.4,400.2 143.0,400.7" fill="none" stroke="#b0093a" stroke-width="1.0" stroke-linejoin="round"/>
<path d="M58.4 392.2h2v2h-2zM64.0 394.4h2v2h-2zM69.5 394.4h2v2h-2zM75.1 394.4h2v2h-2zM80.7 393.2h2v2h-2zM86.3 391.2h2v2h-2zM91.8 389.9h2v2h-2zM97.4 389.3h2v2h-2zM103.0 394.7h2v2h-2zM108.5 393.3h2v2h-2zM114.1 392.7h2v2h-2zM119.7 392.7h2v2h-2zM125.3 395.2h2v2h-2zM130.8 398.2h2v2h-2zM136.4 399.2h2v2h-2zM142.0 399.7h2v2h-2z" fill="#b0093a"/>
<path d="M58.2 389.4h2.4M59.4 389.4V394.4M58.2 394.4h2.4M63.8 390.6h2.4M65.0 390.6V395.7M63.8 395.7h2.4M69.3 390.6h2.4M70.5 390.6V395.7M69.3 395.7h2.4M74.9 390.6h2.4M76.1 390.6V395.7M74.9 395.7h2.4M80.5 386.6h2.4M81.7 386.6V391.7M80.5 391.7h2.4M86.1 383.1h2.4M87.3 383.1V388.1M86.1 388.1h2.4M91.6 380.5h2.4M92.8 380.5V385.6M91.6 385.6h2.4M97.2 379.7h2.4M98.4 379.7V384.8M97.2 384.8h2.4M102.8 383.6h2.4M104.0 383.6V388.6M102.8 388.6h2.4M108.3 382.2h2.4M109.5 382.2V387.3M108.3 387.3h2.4M113.9 380.7h2.4M115.1 380.7V385.7M113.9 385.7h2.4M119.5 379.7h2.4M120.7 379.7V384.8M119.5 384.8h2.4M125.1 393.2h2.4M126.3 393.2V398.2M125.1 398.2h2.4M130.6 396.2h2.4M131.8 396.2V401.2M130.6 401.2h2.4M136.2 397.2h2.4M137.4 397.2V402.3M136.2 402.3h2.4M141.8 397.7h2.4M143.0 397.7V402.8M141.8 402.8h2.4" stroke="#e48a1c" stroke-width="0.9" fill="none"/>
<polyline points="59.4,391.9 65.0,393.2 70.5,393.2 76.1,393.2 81.7,389.1 87.3,385.6 92.8,383.1 98.4,382.3 104.0,386.1 109.5,384.7 115.1,383.2 120.7,382.3 126.3,395.7 131.8,398.7 137.4,399.7 143.0,400.2" fill="none" stroke="#e48a1c" stroke-width="1.0" stroke-linejoin="round"/>
<path d="M58.4 390.9h2v2h-2zM64.0 392.2h2v2h-2zM69.5 392.2h2v2h-2zM75.1 392.2h2v2h-2zM80.7 388.1h2v2h-2zM86.3 384.6h2v2h-2zM91.8 382.1h2v2h-2zM97.4 381.3h2v2h-2zM103.0 385.1h2v2h-2zM108.5 383.7h2v2h-2zM114.1 382.2h2v2h-2zM119.7 381.3h2v2h-2zM125.3 394.7h2v2h-2zM130.8 397.7h2v2h-2zM136.4 398.7h2v2h-2zM142.0 399.2h2v2h-2z" fill="#e48a1c"/>
<path d="M58.2 387.1h2.4M59.4 387.1V391.1M58.2 391.1h2.4M63.8 388.6h2.4M65.0 388.6V392.7M63.8 392.7h2.4M69.3 388.6h2.4M70.5 388.6V392.7M69.3 392.7h2.4M74.9 388.6h2.4M76.1 388.6V392.7M74.9 392.7h2.4M80.5 378.5h2.4M81.7 378.5V382.6M80.5 382.6h2.4M86.1 375.5h2.4M87.3 375.5V379.5M86.1 379.5h2.4M91.6 374.5h2.4M92.8 374.5V378.5M91.6 378.5h2.4M97.2 373.0h2.4M98.4 373.0V377.0M97.2 377.0h2.4M102.8 372.5h2.4M104.0 372.5V376.5M102.8 376.5h2.4M108.3 369.6h2.4M109.5 369.6V373.7M108.3 373.7h2.4M113.9 368.7h2.4M115.1 368.7V372.7M113.9 372.7h2.4M119.5 369.4h2.4M120.7 369.4V373.5M119.5 373.5h2.4M125.1 387.1h2.4M126.3 387.1V391.1M125.1 391.1h2.4M130.6 390.6h2.4M131.8 390.6V394.7M130.6 394.7h2.4M136.2 391.7h2.4M137.4 391.7V395.7M136.2 395.7h2.4M141.8 392.4h2.4M143.0 392.4V396.4M141.8 396.4h2.4" stroke="#2e6b50" stroke-width="0.9" fill="none"/>
<polyline points="59.4,389.1 65.0,390.6 70.5,390.6 76.1,390.6 81.7,380.5 87.3,377.5 92.8,376.5 98.4,375.0 104.0,374.5 109.5,371.7 115.1,370.7 120.7,371.5 126.3,389.1 131.8,392.7 137.4,393.7 143.0,394.4" fill="none" stroke="#2e6b50" stroke-width="1.0" stroke-linejoin="round"/>
<path d="M58.4 388.1h2v2h-2zM64.0 389.6h2v2h-2zM69.5 389.6h2v2h-2zM75.1 389.6h2v2h-2zM80.7 379.5h2v2h-2zM86.3 376.5h2v2h-2zM91.8 375.5h2v2h-2zM97.4 374.0h2v2h-2zM103.0 373.5h2v2h-2zM108.5 370.7h2v2h-2zM114.1 369.7h2v2h-2zM119.7 370.5h2v2h-2zM125.3 388.1h2v2h-2zM130.8 391.7h2v2h-2zM136.4 392.7h2v2h-2zM142.0 393.4h2v2h-2z" fill="#2e6b50"/>
<path d="M58.2 386.6h2.4M59.4 386.6V389.6M58.2 389.6h2.4M63.8 389.1h2.4M65.0 389.1V392.2M63.8 392.2h2.4M69.3 389.1h2.4M70.5 389.1V392.2M69.3 392.2h2.4M74.9 389.1h2.4M76.1 389.1V392.2M74.9 392.2h2.4M80.5 376.5h2.4M81.7 376.5V379.5M80.5 379.5h2.4M86.1 372.0h2.4M87.3 372.0V375.0M86.1 375.0h2.4M91.6 369.9h2.4M92.8 369.9V373.0M91.6 373.0h2.4M97.2 368.4h2.4M98.4 368.4V371.5M97.2 371.5h2.4M102.8 368.4h2.4M104.0 368.4V371.5M102.8 371.5h2.4M108.3 368.4h2.4M109.5 368.4V371.5M108.3 371.5h2.4M113.9 368.6h2.4M115.1 368.6V371.7M113.9 371.7h2.4M119.5 368.6h2.4M120.7 368.6V371.7M119.5 371.7h2.4M125.1 386.6h2.4M126.3 386.6V389.6M125.1 389.6h2.4M130.6 390.4h2.4M131.8 390.4V393.4M130.6 393.4h2.4M136.2 392.3h2.4M137.4 392.3V395.3M136.2 395.3h2.4M141.8 392.9h2.4M143.0 392.9V395.9M141.8 395.9h2.4" stroke="#f2bb1b" stroke-width="0.9" fill="none"/>
<polyline points="59.4,388.1 65.0,390.6 70.5,390.6 76.1,390.6 81.7,378.0 87.3,373.5 92.8,371.5 98.4,369.9 104.0,369.9 109.5,369.9 115.1,370.1 120.7,370.1 126.3,388.1 131.8,391.9 137.4,393.8 143.0,394.4" fill="none" stroke="#f2bb1b" stroke-width="1.0" stroke-linejoin="round"/>
<path d="M58.4 387.1h2v2h-2zM64.0 389.6h2v2h-2zM69.5 389.6h2v2h-2zM75.1 389.6h2v2h-2zM80.7 377.0h2v2h-2zM86.3 372.5h2v2h-2zM91.8 370.5h2v2h-2zM97.4 368.9h2v2h-2zM103.0 368.9h2v2h-2zM108.5 368.9h2v2h-2zM114.1 369.1h2v2h-2zM119.7 369.1h2v2h-2zM125.3 387.1h2v2h-2zM130.8 390.9h2v2h-2zM136.4 392.8h2v2h-2zM142.0 393.4h2v2h-2z" fill="#f2bb1b"/>
<path d="M58.2 385.6h2.4M59.4 385.6V388.6M58.2 388.6h2.4M63.8 387.9h2.4M65.0 387.9V390.9M63.8 390.9h2.4M69.3 387.9h2.4M70.5 387.9V390.9M69.3 390.9h2.4M74.9 387.9h2.4M76.1 387.9V390.9M74.9 390.9h2.4M80.5 375.0h2.4M81.7 375.0V378.0M80.5 378.0h2.4M86.1 369.9h2.4M87.3 369.9V373.0M86.1 373.0h2.4M91.6 366.4h2.4M92.8 366.4V369.4M91.6 369.4h2.4M97.2 365.4h2.4M98.4 365.4V368.4M97.2 368.4h2.4M102.8 364.4h2.4M104.0 364.4V367.4M102.8 367.4h2.4M108.3 363.0h2.4M109.5 363.0V366.1M108.3 366.1h2.4M113.9 362.9h2.4M115.1 362.9V365.9M113.9 365.9h2.4M119.5 363.0h2.4M120.7 363.0V366.1M119.5 366.1h2.4M125.1 386.6h2.4M126.3 386.6V389.6M125.1 389.6h2.4M130.6 390.4h2.4M131.8 390.4V393.4M130.6 393.4h2.4M136.2 391.3h2.4M137.4 391.3V394.3M136.2 394.3h2.4M141.8 391.7h2.4M143.0 391.7V394.7M141.8 394.7h2.4" stroke="#2b59a5" stroke-width="0.9" fill="none"/>
<polyline points="59.4,387.1 65.0,389.4 70.5,389.4 76.1,389.4 81.7,376.5 87.3,371.5 92.8,367.9 98.4,366.9 104.0,365.9 109.5,364.5 115.1,364.4 120.7,364.5 126.3,388.1 131.8,391.9 137.4,392.8 143.0,393.2" fill="none" stroke="#2b59a5" stroke-width="1.0" stroke-linejoin="round"/>
<path d="M58.4 386.1h2v2h-2zM64.0 388.4h2v2h-2zM69.5 388.4h2v2h-2zM75.1 388.4h2v2h-2zM80.7 375.5h2v2h-2zM86.3 370.5h2v2h-2zM91.8 366.9h2v2h-2zM97.4 365.9h2v2h-2zM103.0 364.9h2v2h-2zM108.5 363.5h2v2h-2zM114.1 363.4h2v2h-2zM119.7 363.5h2v2h-2zM125.3 387.1h2v2h-2zM130.8 390.9h2v2h-2zM136.4 391.8h2v2h-2zM142.0 392.2h2v2h-2z" fill="#2b59a5"/>
<path d="M58.2 381.2h2.4M59.4 381.2V385.2M58.2 385.2h2.4M63.8 386.6h2.4M65.0 386.6V390.6M63.8 390.6h2.4M69.3 386.6h2.4M70.5 386.6V390.6M69.3 390.6h2.4M74.9 386.6h2.4M76.1 386.6V390.6M74.9 390.6h2.4M80.5 370.4h2.4M81.7 370.4V374.5M80.5 374.5h2.4M86.1 364.9h2.4M87.3 364.9V368.9M86.1 368.9h2.4M91.6 361.0h2.4M92.8 361.0V365.0M91.6 365.0h2.4M97.2 359.6h2.4M98.4 359.6V363.7M97.2 363.7h2.4M102.8 358.5h2.4M104.0 358.5V362.5M102.8 362.5h2.4M108.3 355.3h2.4M109.5 355.3V359.3M108.3 359.3h2.4M113.9 355.3h2.4M115.1 355.3V359.3M113.9 359.3h2.4M119.5 356.3h2.4M120.7 356.3V360.3M119.5 360.3h2.4M125.1 385.1h2.4M126.3 385.1V389.1M125.1 389.1h2.4M130.6 388.1h2.4M131.8 388.1V392.2M130.6 392.2h2.4M136.2 388.9h2.4M137.4 388.9V392.9M136.2 392.9h2.4M141.8 388.9h2.4M143.0 388.9V392.9M141.8 392.9h2.4" stroke="#5db53c" stroke-width="0.9" fill="none"/>
<polyline points="59.4,383.2 65.0,388.6 70.5,388.6 76.1,388.6 81.7,372.5 87.3,366.9 92.8,363.0 98.4,361.7 104.0,360.5 109.5,357.3 115.1,357.3 120.7,358.3 126.3,387.1 131.8,390.1 137.4,390.9 143.0,390.9" fill="none" stroke="#5db53c" stroke-width="1.0" stroke-linejoin="round"/>
<path d="M58.4 382.2h2v2h-2zM64.0 387.6h2v2h-2zM69.5 387.6h2v2h-2zM75.1 387.6h2v2h-2zM80.7 371.5h2v2h-2zM86.3 365.9h2v2h-2zM91.8 362.0h2v2h-2zM97.4 360.7h2v2h-2zM103.0 359.5h2v2h-2zM108.5 356.3h2v2h-2zM114.1 356.3h2v2h-2zM119.7 357.3h2v2h-2zM125.3 386.1h2v2h-2zM130.8 389.1h2v2h-2zM136.4 389.9h2v2h-2zM142.0 389.9h2v2h-2z" fill="#5db53c"/>
<line x1="178.40" y1="342.80" x2="178.40" y2="406.90" stroke="#111" stroke-width="1.3"/>
<line x1="177.80" y1="406.30" x2="272.90" y2="406.30" stroke="#111" stroke-width="1.3"/>
<line x1="175.40" y1="406.30" x2="178.40" y2="406.30" stroke="#111" stroke-width="1.0"/>
<text x="172.90" y="406.30" font-size="6.8" text-anchor="end" font-weight="normal" fill="#222" dominant-baseline="central">0</text>
<line x1="175.40" y1="394.10" x2="178.40" y2="394.10" stroke="#111" stroke-width="1.0"/>
<text x="172.90" y="394.10" font-size="6.8" text-anchor="end" font-weight="normal" fill="#222" dominant-baseline="central">40</text>
<line x1="175.40" y1="381.90" x2="178.40" y2="381.90" stroke="#111" stroke-width="1.0"/>
<text x="172.90" y="381.90" font-size="6.8" text-anchor="end" font-weight="normal" fill="#222" dominant-baseline="central">80</text>
<line x1="175.40" y1="369.70" x2="178.40" y2="369.70" stroke="#111" stroke-width="1.0"/>
<text x="172.90" y="369.70" font-size="6.8" text-anchor="end" font-weight="normal" fill="#222" dominant-baseline="central">120</text>
<line x1="175.40" y1="357.50" x2="178.40" y2="357.50" stroke="#111" stroke-width="1.0"/>
<text x="172.90" y="357.50" font-size="6.8" text-anchor="end" font-weight="normal" fill="#222" dominant-baseline="central">160</text>
<line x1="175.40" y1="345.30" x2="178.40" y2="345.30" stroke="#111" stroke-width="1.0"/>
<text x="172.90" y="345.30" font-size="6.8" text-anchor="end" font-weight="normal" fill="#222" dominant-baseline="central">200</text>
<line x1="176.40" y1="400.20" x2="178.40" y2="400.20" stroke="#111" stroke-width="0.9"/>
<line x1="176.40" y1="388.00" x2="178.40" y2="388.00" stroke="#111" stroke-width="0.9"/>
<line x1="176.40" y1="375.80" x2="178.40" y2="375.80" stroke="#111" stroke-width="0.9"/>
<line x1="176.40" y1="363.60" x2="178.40" y2="363.60" stroke="#111" stroke-width="0.9"/>
<line x1="176.40" y1="351.40" x2="178.40" y2="351.40" stroke="#111" stroke-width="0.9"/>
<line x1="178.40" y1="406.30" x2="178.40" y2="408.80" stroke="#111" stroke-width="1.0"/>
<text x="178.40" y="416.30" font-size="6.8" text-anchor="middle" font-weight="normal" fill="#222" dominant-baseline="central">0</text>
<line x1="188.62" y1="406.30" x2="188.62" y2="408.80" stroke="#111" stroke-width="1.0"/>
<text x="188.62" y="416.30" font-size="6.8" text-anchor="middle" font-weight="normal" fill="#222" dominant-baseline="central">10</text>
<line x1="198.84" y1="406.30" x2="198.84" y2="408.80" stroke="#111" stroke-width="1.0"/>
<text x="198.84" y="416.30" font-size="6.8" text-anchor="middle" font-weight="normal" fill="#222" dominant-baseline="central">20</text>
<line x1="209.06" y1="406.30" x2="209.06" y2="408.80" stroke="#111" stroke-width="1.0"/>
<text x="209.06" y="416.30" font-size="6.8" text-anchor="middle" font-weight="normal" fill="#222" dominant-baseline="central">30</text>
<line x1="219.28" y1="406.30" x2="219.28" y2="408.80" stroke="#111" stroke-width="1.0"/>
<text x="219.28" y="416.30" font-size="6.8" text-anchor="middle" font-weight="normal" fill="#222" dominant-baseline="central">40</text>
<line x1="229.50" y1="406.30" x2="229.50" y2="408.80" stroke="#111" stroke-width="1.0"/>
<text x="229.50" y="416.30" font-size="6.8" text-anchor="middle" font-weight="normal" fill="#222" dominant-baseline="central">50</text>
<line x1="239.72" y1="406.30" x2="239.72" y2="408.80" stroke="#111" stroke-width="1.0"/>
<text x="239.72" y="416.30" font-size="6.8" text-anchor="middle" font-weight="normal" fill="#222" dominant-baseline="central">60</text>
<line x1="249.94" y1="406.30" x2="249.94" y2="408.80" stroke="#111" stroke-width="1.0"/>
<text x="249.94" y="416.30" font-size="6.8" text-anchor="middle" font-weight="normal" fill="#222" dominant-baseline="central">70</text>
<line x1="260.16" y1="406.30" x2="260.16" y2="408.80" stroke="#111" stroke-width="1.0"/>
<text x="260.16" y="416.30" font-size="6.8" text-anchor="middle" font-weight="normal" fill="#222" dominant-baseline="central">80</text>
<line x1="270.38" y1="406.30" x2="270.38" y2="408.80" stroke="#111" stroke-width="1.0"/>
<text x="270.38" y="416.30" font-size="6.8" text-anchor="middle" font-weight="normal" fill="#222" dominant-baseline="central">90</text>
<path d="M177.2 394.1h2.4M178.4 394.1V396.5M177.2 396.5h2.4M182.8 395.6h2.4M184.0 395.6V398.1M182.8 398.1h2.4M188.4 396.5h2.4M189.6 396.5V399.0M188.4 399.0h2.4M194.1 397.0h2.4M195.3 397.0V399.4M194.1 399.4h2.4M199.7 381.7h2.4M200.9 381.7V384.1M199.7 384.1h2.4M205.3 378.5h2.4M206.5 378.5V381.0M205.3 381.0h2.4M210.9 375.3h2.4M212.1 375.3V377.8M210.9 377.8h2.4M216.5 374.3h2.4M217.7 374.3V376.7M216.5 376.7h2.4M222.2 376.4h2.4M223.4 376.4V378.9M222.2 378.9h2.4M227.8 374.3h2.4M229.0 374.3V376.7M227.8 376.7h2.4M233.4 374.3h2.4M234.6 374.3V376.7M233.4 376.7h2.4M239.0 374.7h2.4M240.2 374.7V377.1M239.0 377.1h2.4M244.7 389.2h2.4M245.9 389.2V391.7M244.7 391.7h2.4M250.3 395.0h2.4M251.5 395.0V397.5M250.3 397.5h2.4M255.9 396.5h2.4M257.1 396.5V399.0M255.9 399.0h2.4M261.5 397.0h2.4M262.7 397.0V399.4M261.5 399.4h2.4" stroke="#b0093a" stroke-width="0.9" fill="none"/>
<polyline points="178.4,395.3 184.0,396.8 189.6,397.8 195.3,398.2 200.9,382.9 206.5,379.8 212.1,376.5 217.7,375.5 223.4,377.6 229.0,375.5 234.6,375.5 240.2,375.9 245.9,390.4 251.5,396.2 257.1,397.8 262.7,398.2" fill="none" stroke="#b0093a" stroke-width="1.0" stroke-linejoin="round"/>
<path d="M177.4 394.3h2v2h-2zM183.0 395.8h2v2h-2zM188.6 396.8h2v2h-2zM194.3 397.2h2v2h-2zM199.9 381.9h2v2h-2zM205.5 378.8h2v2h-2zM211.1 375.5h2v2h-2zM216.7 374.5h2v2h-2zM222.4 376.6h2v2h-2zM228.0 374.5h2v2h-2zM233.6 374.5h2v2h-2zM239.2 374.9h2v2h-2zM244.9 389.4h2v2h-2zM250.5 395.2h2v2h-2zM256.1 396.8h2v2h-2zM261.7 397.2h2v2h-2z" fill="#b0093a"/>
<path d="M177.2 385.9h2.4M178.4 385.9V390.7M177.2 390.7h2.4M182.8 388.6h2.4M184.0 388.6V393.5M182.8 393.5h2.4M188.4 388.6h2.4M189.6 388.6V393.5M188.4 393.5h2.4M194.1 388.9h2.4M195.3 388.9V393.8M194.1 393.8h2.4M199.7 372.0h2.4M200.9 372.0V376.9M199.7 376.9h2.4M205.3 367.7h2.4M206.5 367.7V372.6M205.3 372.6h2.4M210.9 364.5h2.4M212.1 364.5V369.4M210.9 369.4h2.4M216.5 363.6h2.4M217.7 363.6V368.5M216.5 368.5h2.4M222.2 365.7h2.4M223.4 365.7V370.6M222.2 370.6h2.4M227.8 363.6h2.4M229.0 363.6V368.5M227.8 368.5h2.4M233.4 362.4h2.4M234.6 362.4V367.3M233.4 367.3h2.4M239.0 363.6h2.4M240.2 363.6V368.5M239.0 368.5h2.4M244.7 381.6h2.4M245.9 381.6V386.5M244.7 386.5h2.4M250.3 391.1h2.4M251.5 391.1V395.9M250.3 395.9h2.4M255.9 392.3h2.4M257.1 392.3V397.2M255.9 397.2h2.4M261.5 392.9h2.4M262.7 392.9V397.8M261.5 397.8h2.4" stroke="#e48a1c" stroke-width="0.9" fill="none"/>
<polyline points="178.4,388.3 184.0,391.1 189.6,391.1 195.3,391.4 200.9,374.4 206.5,370.2 212.1,367.0 217.7,366.0 223.4,368.2 229.0,366.0 234.6,364.8 240.2,366.0 245.9,384.0 251.5,393.5 257.1,394.7 262.7,395.3" fill="none" stroke="#e48a1c" stroke-width="1.0" stroke-linejoin="round"/>
<path d="M177.4 387.3h2v2h-2zM183.0 390.1h2v2h-2zM188.6 390.1h2v2h-2zM194.3 390.4h2v2h-2zM199.9 373.4h2v2h-2zM205.5 369.2h2v2h-2zM211.1 366.0h2v2h-2zM216.7 365.0h2v2h-2zM222.4 367.2h2v2h-2zM228.0 365.0h2v2h-2zM233.6 363.8h2v2h-2zM239.2 365.0h2v2h-2zM244.9 383.0h2v2h-2zM250.5 392.5h2v2h-2zM256.1 393.7h2v2h-2zM261.7 394.3h2v2h-2z" fill="#e48a1c"/>
<path d="M177.2 385.3h2.4M178.4 385.3V390.1M177.2 390.1h2.4M182.8 386.5h2.4M184.0 386.5V391.4M182.8 391.4h2.4M188.4 387.4h2.4M189.6 387.4V392.3M188.4 392.3h2.4M194.1 387.4h2.4M195.3 387.4V392.3M194.1 392.3h2.4M199.7 377.3h2.4M200.9 377.3V382.2M199.7 382.2h2.4M205.3 372.0h2.4M206.5 372.0V376.9M205.3 376.9h2.4M210.9 368.8h2.4M212.1 368.8V373.7M210.9 373.7h2.4M216.5 366.7h2.4M217.7 366.7V371.5M216.5 371.5h2.4M222.2 363.6h2.4M223.4 363.6V368.5M222.2 368.5h2.4M227.8 361.5h2.4M229.0 361.5V366.3M227.8 366.3h2.4M233.4 361.5h2.4M234.6 361.5V366.3M233.4 366.3h2.4M239.0 362.4h2.4M240.2 362.4V367.3M239.0 367.3h2.4M244.7 380.5h2.4M245.9 380.5V385.3M244.7 385.3h2.4M250.3 388.0h2.4M251.5 388.0V392.9M250.3 392.9h2.4M255.9 390.1h2.4M257.1 390.1V395.0M255.9 395.0h2.4M261.5 390.1h2.4M262.7 390.1V395.0M261.5 395.0h2.4" stroke="#2e6b50" stroke-width="0.9" fill="none"/>
<polyline points="178.4,387.7 184.0,388.9 189.6,389.8 195.3,389.8 200.9,379.8 206.5,374.4 212.1,371.2 217.7,369.1 223.4,366.0 229.0,363.9 234.6,363.9 240.2,364.8 245.9,382.9 251.5,390.4 257.1,392.6 262.7,392.6" fill="none" stroke="#2e6b50" stroke-width="1.0" stroke-linejoin="round"/>
<path d="M177.4 386.7h2v2h-2zM183.0 387.9h2v2h-2zM188.6 388.8h2v2h-2zM194.3 388.8h2v2h-2zM199.9 378.8h2v2h-2zM205.5 373.4h2v2h-2zM211.1 370.2h2v2h-2zM216.7 368.1h2v2h-2zM222.4 365.0h2v2h-2zM228.0 362.9h2v2h-2zM233.6 362.9h2v2h-2zM239.2 363.8h2v2h-2zM244.9 381.9h2v2h-2zM250.5 389.4h2v2h-2zM256.1 391.6h2v2h-2zM261.7 391.6h2v2h-2z" fill="#2e6b50"/>
<path d="M177.2 385.6h2.4M178.4 385.6V389.8M177.2 389.8h2.4M182.8 387.2h2.4M184.0 387.2V391.4M182.8 391.4h2.4M188.4 388.3h2.4M189.6 388.3V392.6M188.4 392.6h2.4M194.1 388.9h2.4M195.3 388.9V393.2M194.1 393.2h2.4M199.7 371.2h2.4M200.9 371.2V375.5M199.7 375.5h2.4M205.3 366.0h2.4M206.5 366.0V370.3M205.3 370.3h2.4M210.9 363.9h2.4M212.1 363.9V368.2M210.9 368.2h2.4M216.5 362.7h2.4M217.7 362.7V367.0M216.5 367.0h2.4M222.2 361.8h2.4M223.4 361.8V366.0M222.2 366.0h2.4M227.8 361.8h2.4M229.0 361.8V366.0M227.8 366.0h2.4M233.4 361.8h2.4M234.6 361.8V366.0M233.4 366.0h2.4M239.0 362.7h2.4M240.2 362.7V367.0M239.0 367.0h2.4M244.7 380.8h2.4M245.9 380.8V385.0M244.7 385.0h2.4M250.3 389.2h2.4M251.5 389.2V393.5M250.3 393.5h2.4M255.9 391.4h2.4M257.1 391.4V395.6M255.9 395.6h2.4M261.5 391.4h2.4M262.7 391.4V395.6M261.5 395.6h2.4" stroke="#f2bb1b" stroke-width="0.9" fill="none"/>
<polyline points="178.4,387.7 184.0,389.3 189.6,390.4 195.3,391.1 200.9,373.4 206.5,368.2 212.1,366.0 217.7,364.8 223.4,363.9 229.0,363.9 234.6,363.9 240.2,364.8 245.9,382.9 251.5,391.4 257.1,393.5 262.7,393.5" fill="none" stroke="#f2bb1b" stroke-width="1.0" stroke-linejoin="round"/>
<path d="M177.4 386.7h2v2h-2zM183.0 388.3h2v2h-2zM188.6 389.4h2v2h-2zM194.3 390.1h2v2h-2zM199.9 372.4h2v2h-2zM205.5 367.2h2v2h-2zM211.1 365.0h2v2h-2zM216.7 363.8h2v2h-2zM222.4 362.9h2v2h-2zM228.0 362.9h2v2h-2zM233.6 362.9h2v2h-2zM239.2 363.8h2v2h-2zM244.9 381.9h2v2h-2zM250.5 390.4h2v2h-2zM256.1 392.5h2v2h-2zM261.7 392.5h2v2h-2z" fill="#f2bb1b"/>
<path d="M177.2 386.2h2.4M178.4 386.2V390.4M177.2 390.4h2.4M182.8 387.2h2.4M184.0 387.2V391.4M182.8 391.4h2.4M188.4 388.3h2.4M189.6 388.3V392.6M188.4 392.6h2.4M194.1 388.3h2.4M195.3 388.3V392.6M194.1 392.6h2.4M199.7 370.2h2.4M200.9 370.2V374.4M199.7 374.4h2.4M205.3 363.9h2.4M206.5 363.9V368.2M205.3 368.2h2.4M210.9 362.7h2.4M212.1 362.7V367.0M210.9 367.0h2.4M216.5 359.6h2.4M217.7 359.6V363.9M216.5 363.9h2.4M222.2 356.3h2.4M223.4 356.3V360.6M222.2 360.6h2.4M227.8 356.3h2.4M229.0 356.3V360.6M227.8 360.6h2.4M233.4 357.5h2.4M234.6 357.5V361.8M233.4 361.8h2.4M239.0 358.4h2.4M240.2 358.4V362.7M239.0 362.7h2.4M244.7 379.8h2.4M245.9 379.8V384.0M244.7 384.0h2.4M250.3 388.3h2.4M251.5 388.3V392.6M250.3 392.6h2.4M255.9 390.4h2.4M257.1 390.4V394.7M255.9 394.7h2.4M261.5 391.1h2.4M262.7 391.1V395.3M261.5 395.3h2.4" stroke="#2b59a5" stroke-width="0.9" fill="none"/>
<polyline points="178.4,388.3 184.0,389.3 189.6,390.4 195.3,390.4 200.9,372.3 206.5,366.0 212.1,364.8 217.7,361.8 223.4,358.4 229.0,358.4 234.6,359.6 240.2,360.6 245.9,381.9 251.5,390.4 257.1,392.6 262.7,393.2" fill="none" stroke="#2b59a5" stroke-width="1.0" stroke-linejoin="round"/>
<path d="M177.4 387.3h2v2h-2zM183.0 388.3h2v2h-2zM188.6 389.4h2v2h-2zM194.3 389.4h2v2h-2zM199.9 371.3h2v2h-2zM205.5 365.0h2v2h-2zM211.1 363.8h2v2h-2zM216.7 360.8h2v2h-2zM222.4 357.4h2v2h-2zM228.0 357.4h2v2h-2zM233.6 358.6h2v2h-2zM239.2 359.6h2v2h-2zM244.9 380.9h2v2h-2zM250.5 389.4h2v2h-2zM256.1 391.6h2v2h-2zM261.7 392.2h2v2h-2z" fill="#2b59a5"/>
<path d="M177.2 383.7h2.4M178.4 383.7V388.6M177.2 388.6h2.4M182.8 384.7h2.4M184.0 384.7V389.6M182.8 389.6h2.4M188.4 386.5h2.4M189.6 386.5V391.4M188.4 391.4h2.4M194.1 386.9h2.4M195.3 386.9V391.8M194.1 391.8h2.4M199.7 363.6h2.4M200.9 363.6V368.5M199.7 368.5h2.4M205.3 359.3h2.4M206.5 359.3V364.2M205.3 364.2h2.4M210.9 356.0h2.4M212.1 356.0V360.9M210.9 360.9h2.4M216.5 355.1h2.4M217.7 355.1V359.9M216.5 359.9h2.4M222.2 348.7h2.4M223.4 348.7V353.5M222.2 353.5h2.4M227.8 350.3h2.4M229.0 350.3V355.2M227.8 355.2h2.4M233.4 351.8h2.4M234.6 351.8V356.7M233.4 356.7h2.4M239.0 352.9h2.4M240.2 352.9V357.8M239.0 357.8h2.4M244.7 378.4h2.4M245.9 378.4V383.2M244.7 383.2h2.4M250.3 385.9h2.4M251.5 385.9V390.7M250.3 390.7h2.4M255.9 388.0h2.4M257.1 388.0V392.9M255.9 392.9h2.4M261.5 388.9h2.4M262.7 388.9V393.8M261.5 393.8h2.4" stroke="#5db53c" stroke-width="0.9" fill="none"/>
<polyline points="178.4,386.2 184.0,387.2 189.6,388.9 195.3,389.3 200.9,366.0 206.5,361.8 212.1,358.4 217.7,357.5 223.4,351.1 229.0,352.7 234.6,354.2 240.2,355.4 245.9,380.8 251.5,388.3 257.1,390.4 262.7,391.4" fill="none" stroke="#5db53c" stroke-width="1.0" stroke-linejoin="round"/>
<path d="M177.4 385.2h2v2h-2zM183.0 386.2h2v2h-2zM188.6 387.9h2v2h-2zM194.3 388.3h2v2h-2zM199.9 365.0h2v2h-2zM205.5 360.8h2v2h-2zM211.1 357.4h2v2h-2zM216.7 356.5h2v2h-2zM222.4 350.1h2v2h-2zM228.0 351.7h2v2h-2zM233.6 353.2h2v2h-2zM239.2 354.4h2v2h-2zM244.9 379.8h2v2h-2zM250.5 387.3h2v2h-2zM256.1 389.4h2v2h-2zM261.7 390.4h2v2h-2z" fill="#5db53c"/>
<line x1="297.60" y1="342.80" x2="297.60" y2="406.80" stroke="#111" stroke-width="1.3"/>
<line x1="297.00" y1="406.20" x2="392.10" y2="406.20" stroke="#111" stroke-width="1.3"/>
<line x1="294.60" y1="406.20" x2="297.60" y2="406.20" stroke="#111" stroke-width="1.0"/>
<text x="292.10" y="406.20" font-size="6.8" text-anchor="end" font-weight="normal" fill="#222" dominant-baseline="central">0</text>
<line x1="294.60" y1="396.05" x2="297.60" y2="396.05" stroke="#111" stroke-width="1.0"/>
<text x="292.10" y="396.05" font-size="6.8" text-anchor="end" font-weight="normal" fill="#222" dominant-baseline="central">20</text>
<line x1="294.60" y1="385.90" x2="297.60" y2="385.90" stroke="#111" stroke-width="1.0"/>
<text x="292.10" y="385.90" font-size="6.8" text-anchor="end" font-weight="normal" fill="#222" dominant-baseline="central">40</text>
<line x1="294.60" y1="375.75" x2="297.60" y2="375.75" stroke="#111" stroke-width="1.0"/>
<text x="292.10" y="375.75" font-size="6.8" text-anchor="end" font-weight="normal" fill="#222" dominant-baseline="central">60</text>
<line x1="294.60" y1="365.60" x2="297.60" y2="365.60" stroke="#111" stroke-width="1.0"/>
<text x="292.10" y="365.60" font-size="6.8" text-anchor="end" font-weight="normal" fill="#222" dominant-baseline="central">80</text>
<line x1="294.60" y1="355.45" x2="297.60" y2="355.45" stroke="#111" stroke-width="1.0"/>
<text x="292.10" y="355.45" font-size="6.8" text-anchor="end" font-weight="normal" fill="#222" dominant-baseline="central">100</text>
<line x1="294.60" y1="345.30" x2="297.60" y2="345.30" stroke="#111" stroke-width="1.0"/>
<text x="292.10" y="345.30" font-size="6.8" text-anchor="end" font-weight="normal" fill="#222" dominant-baseline="central">120</text>
<line x1="297.60" y1="406.20" x2="297.60" y2="408.70" stroke="#111" stroke-width="1.0"/>
<text x="297.60" y="416.20" font-size="6.8" text-anchor="middle" font-weight="normal" fill="#222" dominant-baseline="central">0</text>
<line x1="307.84" y1="406.20" x2="307.84" y2="408.70" stroke="#111" stroke-width="1.0"/>
<text x="307.84" y="416.20" font-size="6.8" text-anchor="middle" font-weight="normal" fill="#222" dominant-baseline="central">10</text>
<line x1="318.08" y1="406.20" x2="318.08" y2="408.70" stroke="#111" stroke-width="1.0"/>
<text x="318.08" y="416.20" font-size="6.8" text-anchor="middle" font-weight="normal" fill="#222" dominant-baseline="central">20</text>
<line x1="328.32" y1="406.20" x2="328.32" y2="408.70" stroke="#111" stroke-width="1.0"/>
<text x="328.32" y="416.20" font-size="6.8" text-anchor="middle" font-weight="normal" fill="#222" dominant-baseline="central">30</text>
<line x1="338.56" y1="406.20" x2="338.56" y2="408.70" stroke="#111" stroke-width="1.0"/>
<text x="338.56" y="416.20" font-size="6.8" text-anchor="middle" font-weight="normal" fill="#222" dominant-baseline="central">40</text>
<line x1="348.80" y1="406.20" x2="348.80" y2="408.70" stroke="#111" stroke-width="1.0"/>
<text x="348.80" y="416.20" font-size="6.8" text-anchor="middle" font-weight="normal" fill="#222" dominant-baseline="central">50</text>
<line x1="359.04" y1="406.20" x2="359.04" y2="408.70" stroke="#111" stroke-width="1.0"/>
<text x="359.04" y="416.20" font-size="6.8" text-anchor="middle" font-weight="normal" fill="#222" dominant-baseline="central">60</text>
<line x1="369.28" y1="406.20" x2="369.28" y2="408.70" stroke="#111" stroke-width="1.0"/>
<text x="369.28" y="416.20" font-size="6.8" text-anchor="middle" font-weight="normal" fill="#222" dominant-baseline="central">70</text>
<line x1="379.52" y1="406.20" x2="379.52" y2="408.70" stroke="#111" stroke-width="1.0"/>
<text x="379.52" y="416.20" font-size="6.8" text-anchor="middle" font-weight="normal" fill="#222" dominant-baseline="central">80</text>
<line x1="389.76" y1="406.20" x2="389.76" y2="408.70" stroke="#111" stroke-width="1.0"/>
<text x="389.76" y="416.20" font-size="6.8" text-anchor="middle" font-weight="normal" fill="#222" dominant-baseline="central">90</text>
<path d="M296.4 401.3h2.4M297.6 401.3V403.3M296.4 403.3h2.4M302.0 402.6h2.4M303.2 402.6V404.7M302.0 404.7h2.4M307.7 403.0h2.4M308.9 403.0V405.0M307.7 405.0h2.4M313.3 403.0h2.4M314.5 403.0V405.0M313.3 405.0h2.4M318.9 400.4h2.4M320.1 400.4V402.4M318.9 402.4h2.4M324.6 398.7h2.4M325.8 398.7V400.7M324.6 400.7h2.4M330.2 398.7h2.4M331.4 398.7V400.7M330.2 400.7h2.4M335.8 398.2h2.4M337.0 398.2V400.2M335.8 400.2h2.4M341.5 400.4h2.4M342.7 400.4V402.4M341.5 402.4h2.4M347.1 399.6h2.4M348.3 399.6V401.6M347.1 401.6h2.4M352.7 399.6h2.4M353.9 399.6V401.6M352.7 401.6h2.4M358.4 399.2h2.4M359.6 399.2V401.2M358.4 401.2h2.4M364.0 400.4h2.4M365.2 400.4V402.4M364.0 402.4h2.4M369.6 401.3h2.4M370.8 401.3V403.3M369.6 403.3h2.4M375.2 401.6h2.4M376.4 401.6V403.7M375.2 403.7h2.4M380.9 401.3h2.4M382.1 401.3V403.3M380.9 403.3h2.4" stroke="#b0093a" stroke-width="0.9" fill="none"/>
<polyline points="297.6,402.3 303.2,403.7 308.9,404.0 314.5,404.0 320.1,401.4 325.8,399.7 331.4,399.7 337.0,399.2 342.7,401.4 348.3,400.6 353.9,400.6 359.6,400.2 365.2,401.4 370.8,402.3 376.4,402.6 382.1,402.3" fill="none" stroke="#b0093a" stroke-width="1.0" stroke-linejoin="round"/>
<path d="M296.6 401.3h2v2h-2zM302.2 402.7h2v2h-2zM307.9 403.0h2v2h-2zM313.5 403.0h2v2h-2zM319.1 400.4h2v2h-2zM324.8 398.7h2v2h-2zM330.4 398.7h2v2h-2zM336.0 398.2h2v2h-2zM341.7 400.4h2v2h-2zM347.3 399.6h2v2h-2zM352.9 399.6h2v2h-2zM358.6 399.2h2v2h-2zM364.2 400.4h2v2h-2zM369.8 401.3h2v2h-2zM375.4 401.6h2v2h-2zM381.1 401.3h2v2h-2z" fill="#b0093a"/>
<path d="M296.4 388.4h2.4M297.6 388.4V393.5M296.4 393.5h2.4M302.0 391.0h2.4M303.2 391.0V396.1M302.0 396.1h2.4M307.7 391.5h2.4M308.9 391.5V396.6M307.7 396.6h2.4M313.3 392.0h2.4M314.5 392.0V397.1M313.3 397.1h2.4M318.9 372.9h2.4M320.1 372.9V377.9M318.9 377.9h2.4M324.6 366.8h2.4M325.8 366.8V371.9M324.6 371.9h2.4M330.2 365.1h2.4M331.4 365.1V370.2M330.2 370.2h2.4M335.8 364.2h2.4M337.0 364.2V369.3M335.8 369.3h2.4M341.5 372.0h2.4M342.7 372.0V377.1M341.5 377.1h2.4M347.1 370.3h2.4M348.3 370.3V375.3M347.1 375.3h2.4M352.7 369.4h2.4M353.9 369.4V374.5M352.7 374.5h2.4M358.4 367.6h2.4M359.6 367.6V372.7M358.4 372.7h2.4M364.0 374.6h2.4M365.2 374.6V379.7M364.0 379.7h2.4M369.6 387.6h2.4M370.8 387.6V392.7M369.6 392.7h2.4M375.2 391.5h2.4M376.4 391.5V396.6M375.2 396.6h2.4M380.9 391.5h2.4M382.1 391.5V396.6M380.9 396.6h2.4" stroke="#e48a1c" stroke-width="0.9" fill="none"/>
<polyline points="297.6,391.0 303.2,393.5 308.9,394.0 314.5,394.5 320.1,375.4 325.8,369.4 331.4,367.6 337.0,366.7 342.7,374.5 348.3,372.8 353.9,371.9 359.6,370.2 365.2,377.1 370.8,390.2 376.4,394.0 382.1,394.0" fill="none" stroke="#e48a1c" stroke-width="1.0" stroke-linejoin="round"/>
<path d="M296.6 390.0h2v2h-2zM302.2 392.5h2v2h-2zM307.9 393.0h2v2h-2zM313.5 393.5h2v2h-2zM319.1 374.4h2v2h-2zM324.8 368.4h2v2h-2zM330.4 366.6h2v2h-2zM336.0 365.7h2v2h-2zM341.7 373.5h2v2h-2zM347.3 371.8h2v2h-2zM352.9 370.9h2v2h-2zM358.6 369.2h2v2h-2zM364.2 376.1h2v2h-2zM369.8 389.2h2v2h-2zM375.4 393.0h2v2h-2zM381.1 393.0h2v2h-2z" fill="#e48a1c"/>
<path d="M296.4 388.1h2.4M297.6 388.1V392.2M296.4 392.2h2.4M302.0 391.6h2.4M303.2 391.6V395.6M302.0 395.6h2.4M307.7 392.0h2.4M308.9 392.0V396.0M307.7 396.0h2.4M313.3 393.0h2.4M314.5 393.0V397.1M313.3 397.1h2.4M318.9 379.5h2.4M320.1 379.5V383.5M318.9 383.5h2.4M324.6 373.4h2.4M325.8 373.4V377.4M324.6 377.4h2.4M330.2 371.7h2.4M331.4 371.7V375.8M330.2 375.8h2.4M335.8 369.9h2.4M337.0 369.9V374.0M335.8 374.0h2.4M341.5 367.3h2.4M342.7 367.3V371.4M341.5 371.4h2.4M347.1 367.3h2.4M348.3 367.3V371.4M347.1 371.4h2.4M352.7 366.5h2.4M353.9 366.5V370.5M352.7 370.5h2.4M358.4 365.9h2.4M359.6 365.9V370.0M358.4 370.0h2.4M364.0 371.7h2.4M365.2 371.7V375.8M364.0 375.8h2.4M369.6 388.9h2.4M370.8 388.9V393.0M369.6 393.0h2.4M375.2 390.2h2.4M376.4 390.2V394.3M375.2 394.3h2.4M380.9 390.0h2.4M382.1 390.0V394.0M380.9 394.0h2.4" stroke="#2e6b50" stroke-width="0.9" fill="none"/>
<polyline points="297.6,390.2 303.2,393.6 308.9,394.0 314.5,395.0 320.1,381.5 325.8,375.4 331.4,373.7 337.0,371.9 342.7,369.4 348.3,369.4 353.9,368.5 359.6,367.9 365.2,373.7 370.8,391.0 376.4,392.2 382.1,392.0" fill="none" stroke="#2e6b50" stroke-width="1.0" stroke-linejoin="round"/>
<path d="M296.6 389.2h2v2h-2zM302.2 392.6h2v2h-2zM307.9 393.0h2v2h-2zM313.5 394.0h2v2h-2zM319.1 380.5h2v2h-2zM324.8 374.4h2v2h-2zM330.4 372.7h2v2h-2zM336.0 370.9h2v2h-2zM341.7 368.4h2v2h-2zM347.3 368.4h2v2h-2zM352.9 367.5h2v2h-2zM358.6 366.9h2v2h-2zM364.2 372.7h2v2h-2zM369.8 390.0h2v2h-2zM375.4 391.2h2v2h-2zM381.1 391.0h2v2h-2z" fill="#2e6b50"/>
<path d="M296.4 379.5h2.4M297.6 379.5V383.5M296.4 383.5h2.4M302.0 382.0h2.4M303.2 382.0V386.1M302.0 386.1h2.4M307.7 382.6h2.4M308.9 382.6V386.6M307.7 386.6h2.4M313.3 382.9h2.4M314.5 382.9V387.0M313.3 387.0h2.4M318.9 360.5h2.4M320.1 360.5V364.6M318.9 364.6h2.4M324.6 355.1h2.4M325.8 355.1V359.2M324.6 359.2h2.4M330.2 353.4h2.4M331.4 353.4V357.5M330.2 357.5h2.4M335.8 352.6h2.4M337.0 352.6V356.6M335.8 356.6h2.4M341.5 350.9h2.4M342.7 350.9V354.9M341.5 354.9h2.4M347.1 351.4h2.4M348.3 351.4V355.4M347.1 355.4h2.4M352.7 351.4h2.4M353.9 351.4V355.4M352.7 355.4h2.4M358.4 351.7h2.4M359.6 351.7V355.8M358.4 355.8h2.4M364.0 358.6h2.4M365.2 358.6V362.7M364.0 362.7h2.4M369.6 382.9h2.4M370.8 382.9V387.0M369.6 387.0h2.4M375.2 385.5h2.4M376.4 385.5V389.6M375.2 389.6h2.4M380.9 385.5h2.4M382.1 385.5V389.6M380.9 389.6h2.4" stroke="#f2bb1b" stroke-width="0.9" fill="none"/>
<polyline points="297.6,381.5 303.2,384.1 308.9,384.6 314.5,384.9 320.1,362.6 325.8,357.2 331.4,355.4 337.0,354.6 342.7,352.9 348.3,353.4 353.9,353.4 359.6,353.7 365.2,360.6 370.8,384.9 376.4,387.5 382.1,387.5" fill="none" stroke="#f2bb1b" stroke-width="1.0" stroke-linejoin="round"/>
<path d="M296.6 380.5h2v2h-2zM302.2 383.1h2v2h-2zM307.9 383.6h2v2h-2zM313.5 383.9h2v2h-2zM319.1 361.6h2v2h-2zM324.8 356.2h2v2h-2zM330.4 354.4h2v2h-2zM336.0 353.6h2v2h-2zM341.7 351.9h2v2h-2zM347.3 352.4h2v2h-2zM352.9 352.4h2v2h-2zM358.6 352.7h2v2h-2zM364.2 359.6h2v2h-2zM369.8 383.9h2v2h-2zM375.4 386.5h2v2h-2zM381.1 386.5h2v2h-2z" fill="#f2bb1b"/>
<path d="M296.4 385.1h2.4M297.6 385.1V388.2M296.4 388.2h2.4M302.0 388.6h2.4M303.2 388.6V391.7M302.0 391.7h2.4M307.7 388.9h2.4M308.9 388.9V392.0M307.7 392.0h2.4M313.3 389.1h2.4M314.5 389.1V392.1M313.3 392.1h2.4M318.9 357.5h2.4M320.1 357.5V360.5M318.9 360.5h2.4M324.6 354.9h2.4M325.8 354.9V358.0M324.6 358.0h2.4M330.2 353.1h2.4M331.4 353.1V356.1M330.2 356.1h2.4M335.8 351.4h2.4M337.0 351.4V354.4M335.8 354.4h2.4M341.5 348.3h2.4M342.7 348.3V351.4M341.5 351.4h2.4M347.1 349.6h2.4M348.3 349.6V352.6M347.1 352.6h2.4M352.7 350.1h2.4M353.9 350.1V353.1M352.7 353.1h2.4M358.4 350.1h2.4M359.6 350.1V353.1M358.4 353.1h2.4M364.0 364.3h2.4M365.2 364.3V367.4M364.0 367.4h2.4M369.6 384.3h2.4M370.8 384.3V387.3M369.6 387.3h2.4M375.2 386.6h2.4M376.4 386.6V389.6M375.2 389.6h2.4M380.9 386.9h2.4M382.1 386.9V390.0M380.9 390.0h2.4" stroke="#2b59a5" stroke-width="0.9" fill="none"/>
<polyline points="297.6,386.7 303.2,390.2 308.9,390.5 314.5,390.6 320.1,359.0 325.8,356.5 331.4,354.6 337.0,352.9 342.7,349.9 348.3,351.1 353.9,351.6 359.6,351.6 365.2,365.9 370.8,385.8 376.4,388.1 382.1,388.4" fill="none" stroke="#2b59a5" stroke-width="1.0" stroke-linejoin="round"/>
<path d="M296.6 385.7h2v2h-2zM302.2 389.2h2v2h-2zM307.9 389.5h2v2h-2zM313.5 389.6h2v2h-2zM319.1 358.0h2v2h-2zM324.8 355.5h2v2h-2zM330.4 353.6h2v2h-2zM336.0 351.9h2v2h-2zM341.7 348.9h2v2h-2zM347.3 350.1h2v2h-2zM352.9 350.6h2v2h-2zM358.6 350.6h2v2h-2zM364.2 364.9h2v2h-2zM369.8 384.8h2v2h-2zM375.4 387.1h2v2h-2zM381.1 387.4h2v2h-2z" fill="#2b59a5"/>
<path d="M296.4 380.8h2.4M297.6 380.8V391.0M296.4 391.0h2.4M302.0 384.4h2.4M303.2 384.4V394.5M302.0 394.5h2.4M307.7 385.1h2.4M308.9 385.1V395.2M307.7 395.2h2.4M313.3 385.9h2.4M314.5 385.9V396.1M313.3 396.1h2.4M318.9 352.1h2.4M320.1 352.1V362.3M318.9 362.3h2.4M324.6 352.9h2.4M325.8 352.9V363.1M324.6 363.1h2.4M330.2 352.9h2.4M331.4 352.9V363.1M330.2 363.1h2.4M335.8 352.1h2.4M337.0 352.1V362.3M335.8 362.3h2.4M341.5 352.1h2.4M342.7 352.1V362.3M341.5 362.3h2.4M347.1 352.1h2.4M348.3 352.1V362.3M347.1 362.3h2.4M352.7 352.1h2.4M353.9 352.1V362.3M352.7 362.3h2.4M358.4 352.1h2.4M359.6 352.1V362.3M358.4 362.3h2.4M364.0 366.9h2.4M365.2 366.9V377.0M364.0 377.0h2.4M369.6 380.7h2.4M370.8 380.7V390.9M369.6 390.9h2.4M375.2 381.6h2.4M376.4 381.6V391.7M375.2 391.7h2.4M380.9 381.6h2.4M382.1 381.6V391.7M380.9 391.7h2.4" stroke="#5db53c" stroke-width="0.9" fill="none"/>
<polyline points="297.6,385.9 303.2,389.5 308.9,390.2 314.5,391.0 320.1,357.2 325.8,358.0 331.4,358.0 337.0,357.2 342.7,357.2 348.3,357.2 353.9,357.2 359.6,357.2 365.2,371.9 370.8,385.8 376.4,386.7 382.1,386.7" fill="none" stroke="#5db53c" stroke-width="1.0" stroke-linejoin="round"/>
<path d="M296.6 384.9h2v2h-2zM302.2 388.5h2v2h-2zM307.9 389.2h2v2h-2zM313.5 390.0h2v2h-2zM319.1 356.2h2v2h-2zM324.8 357.0h2v2h-2zM330.4 357.0h2v2h-2zM336.0 356.2h2v2h-2zM341.7 356.2h2v2h-2zM347.3 356.2h2v2h-2zM352.9 356.2h2v2h-2zM358.6 356.2h2v2h-2zM364.2 370.9h2v2h-2zM369.8 384.8h2v2h-2zM375.4 385.7h2v2h-2zM381.1 385.7h2v2h-2z" fill="#5db53c"/>
<line x1="417.30" y1="343.30" x2="417.30" y2="407.00" stroke="#111" stroke-width="1.3"/>
<line x1="416.70" y1="406.40" x2="511.80" y2="406.40" stroke="#111" stroke-width="1.3"/>
<line x1="414.30" y1="406.40" x2="417.30" y2="406.40" stroke="#111" stroke-width="1.0"/>
<text x="411.80" y="406.40" font-size="6.8" text-anchor="end" font-weight="normal" fill="#222" dominant-baseline="central">0</text>
<line x1="414.30" y1="396.30" x2="417.30" y2="396.30" stroke="#111" stroke-width="1.0"/>
<text x="411.80" y="396.30" font-size="6.8" text-anchor="end" font-weight="normal" fill="#222" dominant-baseline="central">40</text>
<line x1="414.30" y1="386.20" x2="417.30" y2="386.20" stroke="#111" stroke-width="1.0"/>
<text x="411.80" y="386.20" font-size="6.8" text-anchor="end" font-weight="normal" fill="#222" dominant-baseline="central">80</text>
<line x1="414.30" y1="376.10" x2="417.30" y2="376.10" stroke="#111" stroke-width="1.0"/>
<text x="411.80" y="376.10" font-size="6.8" text-anchor="end" font-weight="normal" fill="#222" dominant-baseline="central">120</text>
<line x1="414.30" y1="366.00" x2="417.30" y2="366.00" stroke="#111" stroke-width="1.0"/>
<text x="411.80" y="366.00" font-size="6.8" text-anchor="end" font-weight="normal" fill="#222" dominant-baseline="central">160</text>
<line x1="414.30" y1="355.90" x2="417.30" y2="355.90" stroke="#111" stroke-width="1.0"/>
<text x="411.80" y="355.90" font-size="6.8" text-anchor="end" font-weight="normal" fill="#222" dominant-baseline="central">200</text>
<line x1="414.30" y1="345.80" x2="417.30" y2="345.80" stroke="#111" stroke-width="1.0"/>
<text x="411.80" y="345.80" font-size="6.8" text-anchor="end" font-weight="normal" fill="#222" dominant-baseline="central">240</text>
<line x1="415.30" y1="401.35" x2="417.30" y2="401.35" stroke="#111" stroke-width="0.9"/>
<line x1="415.30" y1="391.25" x2="417.30" y2="391.25" stroke="#111" stroke-width="0.9"/>
<line x1="415.30" y1="381.15" x2="417.30" y2="381.15" stroke="#111" stroke-width="0.9"/>
<line x1="415.30" y1="371.05" x2="417.30" y2="371.05" stroke="#111" stroke-width="0.9"/>
<line x1="415.30" y1="360.95" x2="417.30" y2="360.95" stroke="#111" stroke-width="0.9"/>
<line x1="415.30" y1="350.85" x2="417.30" y2="350.85" stroke="#111" stroke-width="0.9"/>
<line x1="417.30" y1="406.40" x2="417.30" y2="408.90" stroke="#111" stroke-width="1.0"/>
<text x="417.30" y="416.40" font-size="6.8" text-anchor="middle" font-weight="normal" fill="#222" dominant-baseline="central">0</text>
<line x1="427.40" y1="406.40" x2="427.40" y2="408.90" stroke="#111" stroke-width="1.0"/>
<text x="427.40" y="416.40" font-size="6.8" text-anchor="middle" font-weight="normal" fill="#222" dominant-baseline="central">10</text>
<line x1="437.50" y1="406.40" x2="437.50" y2="408.90" stroke="#111" stroke-width="1.0"/>
<text x="437.50" y="416.40" font-size="6.8" text-anchor="middle" font-weight="normal" fill="#222" dominant-baseline="central">20</text>
<line x1="447.60" y1="406.40" x2="447.60" y2="408.90" stroke="#111" stroke-width="1.0"/>
<text x="447.60" y="416.40" font-size="6.8" text-anchor="middle" font-weight="normal" fill="#222" dominant-baseline="central">30</text>
<line x1="457.70" y1="406.40" x2="457.70" y2="408.90" stroke="#111" stroke-width="1.0"/>
<text x="457.70" y="416.40" font-size="6.8" text-anchor="middle" font-weight="normal" fill="#222" dominant-baseline="central">40</text>
<line x1="467.80" y1="406.40" x2="467.80" y2="408.90" stroke="#111" stroke-width="1.0"/>
<text x="467.80" y="416.40" font-size="6.8" text-anchor="middle" font-weight="normal" fill="#222" dominant-baseline="central">50</text>
<line x1="477.90" y1="406.40" x2="477.90" y2="408.90" stroke="#111" stroke-width="1.0"/>
<text x="477.90" y="416.40" font-size="6.8" text-anchor="middle" font-weight="normal" fill="#222" dominant-baseline="central">60</text>
<line x1="488.00" y1="406.40" x2="488.00" y2="408.90" stroke="#111" stroke-width="1.0"/>
<text x="488.00" y="416.40" font-size="6.8" text-anchor="middle" font-weight="normal" fill="#222" dominant-baseline="central">70</text>
<line x1="498.10" y1="406.40" x2="498.10" y2="408.90" stroke="#111" stroke-width="1.0"/>
<text x="498.10" y="416.40" font-size="6.8" text-anchor="middle" font-weight="normal" fill="#222" dominant-baseline="central">80</text>
<line x1="508.20" y1="406.40" x2="508.20" y2="408.90" stroke="#111" stroke-width="1.0"/>
<text x="508.20" y="416.40" font-size="6.8" text-anchor="middle" font-weight="normal" fill="#222" dominant-baseline="central">90</text>
<path d="M416.1 394.0h2.4M417.3 394.0V396.0M416.1 396.0h2.4M421.7 394.0h2.4M422.9 394.0V396.0M421.7 396.0h2.4M427.2 394.0h2.4M428.4 394.0V396.0M427.2 396.0h2.4M432.8 394.0h2.4M434.0 394.0V396.0M432.8 396.0h2.4M438.3 362.5h2.4M439.5 362.5V364.5M438.3 364.5h2.4M443.9 366.3h2.4M445.1 366.3V368.3M443.9 368.3h2.4M449.4 368.0h2.4M450.6 368.0V370.0M449.4 370.0h2.4M455.0 368.8h2.4M456.2 368.8V370.8M455.0 370.8h2.4M460.5 362.0h2.4M461.7 362.0V364.0M460.5 364.0h2.4M466.1 367.5h2.4M467.3 367.5V369.5M466.1 369.5h2.4M471.7 370.0h2.4M472.9 370.0V372.1M471.7 372.1h2.4M477.2 371.3h2.4M478.4 371.3V373.3M477.2 373.3h2.4M482.8 375.6h2.4M484.0 375.6V377.6M482.8 377.6h2.4M488.3 380.1h2.4M489.5 380.1V382.2M488.3 382.2h2.4M493.9 380.6h2.4M495.1 380.6V382.7M493.9 382.7h2.4M499.4 381.4h2.4M500.6 381.4V383.4M499.4 383.4h2.4" stroke="#b0093a" stroke-width="0.9" fill="none"/>
<polyline points="417.3,395.0 422.9,395.0 428.4,395.0 434.0,395.0 439.5,363.5 445.1,367.3 450.6,369.0 456.2,369.8 461.7,363.0 467.3,368.5 472.9,371.1 478.4,372.3 484.0,376.6 489.5,381.1 495.1,381.7 500.6,382.4" fill="none" stroke="#b0093a" stroke-width="1.0" stroke-linejoin="round"/>
<path d="M416.3 394.0h2v2h-2zM421.9 394.0h2v2h-2zM427.4 394.0h2v2h-2zM433.0 394.0h2v2h-2zM438.5 362.5h2v2h-2zM444.1 366.3h2v2h-2zM449.6 368.0h2v2h-2zM455.2 368.8h2v2h-2zM460.7 362.0h2v2h-2zM466.3 367.5h2v2h-2zM471.9 370.1h2v2h-2zM477.4 371.3h2v2h-2zM483.0 375.6h2v2h-2zM488.5 380.1h2v2h-2zM494.1 380.7h2v2h-2zM499.6 381.4h2v2h-2z" fill="#b0093a"/>
<path d="M416.1 394.0h2.4M417.3 394.0V396.0M416.1 396.0h2.4M421.7 394.0h2.4M422.9 394.0V396.0M421.7 396.0h2.4M427.2 394.0h2.4M428.4 394.0V396.0M427.2 396.0h2.4M432.8 394.0h2.4M434.0 394.0V396.0M432.8 396.0h2.4M438.3 365.0h2.4M439.5 365.0V367.0M438.3 367.0h2.4M443.9 367.5h2.4M445.1 367.5V369.5M443.9 369.5h2.4M449.4 368.8h2.4M450.6 368.8V370.8M449.4 370.8h2.4M455.0 370.0h2.4M456.2 370.0V372.1M455.0 372.1h2.4M460.5 362.5h2.4M461.7 362.5V364.5M460.5 364.5h2.4M466.1 368.8h2.4M467.3 368.8V370.8M466.1 370.8h2.4M471.7 372.6h2.4M472.9 372.6V374.6M471.7 374.6h2.4M477.2 373.8h2.4M478.4 373.8V375.8M477.2 375.8h2.4M482.8 376.4h2.4M484.0 376.4V378.4M482.8 378.4h2.4M488.3 380.1h2.4M489.5 380.1V382.2M488.3 382.2h2.4M493.9 381.4h2.4M495.1 381.4V383.4M493.9 383.4h2.4M499.4 382.2h2.4M500.6 382.2V384.2M499.4 384.2h2.4" stroke="#e48a1c" stroke-width="0.9" fill="none"/>
<polyline points="417.3,395.0 422.9,395.0 428.4,395.0 434.0,395.0 439.5,366.0 445.1,368.5 450.6,369.8 456.2,371.1 461.7,363.5 467.3,369.8 472.9,373.6 478.4,374.8 484.0,377.4 489.5,381.1 495.1,382.4 500.6,383.2" fill="none" stroke="#e48a1c" stroke-width="1.0" stroke-linejoin="round"/>
<path d="M416.3 394.0h2v2h-2zM421.9 394.0h2v2h-2zM427.4 394.0h2v2h-2zM433.0 394.0h2v2h-2zM438.5 365.0h2v2h-2zM444.1 367.5h2v2h-2zM449.6 368.8h2v2h-2zM455.2 370.1h2v2h-2zM460.7 362.5h2v2h-2zM466.3 368.8h2v2h-2zM471.9 372.6h2v2h-2zM477.4 373.8h2v2h-2zM483.0 376.4h2v2h-2zM488.5 380.1h2v2h-2zM494.1 381.4h2v2h-2zM499.6 382.2h2v2h-2z" fill="#e48a1c"/>
<path d="M416.1 395.3h2.4M417.3 395.3V397.3M416.1 397.3h2.4M421.7 395.3h2.4M422.9 395.3V397.3M421.7 397.3h2.4M427.2 395.3h2.4M428.4 395.3V397.3M427.2 397.3h2.4M432.8 395.3h2.4M434.0 395.3V397.3M432.8 397.3h2.4M438.3 367.5h2.4M439.5 367.5V369.5M438.3 369.5h2.4M443.9 370.0h2.4M445.1 370.0V372.1M443.9 372.1h2.4M449.4 370.0h2.4M450.6 370.0V372.1M449.4 372.1h2.4M455.0 370.0h2.4M456.2 370.0V372.1M455.0 372.1h2.4M460.5 363.0h2.4M461.7 363.0V365.0M460.5 365.0h2.4M466.1 368.8h2.4M467.3 368.8V370.8M466.1 370.8h2.4M471.7 370.0h2.4M472.9 370.0V372.1M471.7 372.1h2.4M477.2 368.8h2.4M478.4 368.8V370.8M477.2 370.8h2.4M482.8 372.6h2.4M484.0 372.6V374.6M482.8 374.6h2.4M488.3 380.1h2.4M489.5 380.1V382.2M488.3 382.2h2.4M493.9 382.2h2.4M495.1 382.2V384.2M493.9 384.2h2.4M499.4 382.7h2.4M500.6 382.7V384.7M499.4 384.7h2.4" stroke="#2e6b50" stroke-width="0.9" fill="none"/>
<polyline points="417.3,396.3 422.9,396.3 428.4,396.3 434.0,396.3 439.5,368.5 445.1,371.1 450.6,371.1 456.2,371.1 461.7,364.0 467.3,369.8 472.9,371.1 478.4,369.8 484.0,373.6 489.5,381.1 495.1,383.2 500.6,383.7" fill="none" stroke="#2e6b50" stroke-width="1.0" stroke-linejoin="round"/>
<path d="M416.3 395.3h2v2h-2zM421.9 395.3h2v2h-2zM427.4 395.3h2v2h-2zM433.0 395.3h2v2h-2zM438.5 367.5h2v2h-2zM444.1 370.1h2v2h-2zM449.6 370.1h2v2h-2zM455.2 370.1h2v2h-2zM460.7 363.0h2v2h-2zM466.3 368.8h2v2h-2zM471.9 370.1h2v2h-2zM477.4 368.8h2v2h-2zM483.0 372.6h2v2h-2zM488.5 380.1h2v2h-2zM494.1 382.2h2v2h-2zM499.6 382.7h2v2h-2z" fill="#2e6b50"/>
<path d="M416.1 394.8h2.4M417.3 394.8V396.8M416.1 396.8h2.4M421.7 394.8h2.4M422.9 394.8V396.8M421.7 396.8h2.4M427.2 394.8h2.4M428.4 394.8V396.8M427.2 396.8h2.4M432.8 394.8h2.4M434.0 394.8V396.8M432.8 396.8h2.4M438.3 362.5h2.4M439.5 362.5V364.5M438.3 364.5h2.4M443.9 365.0h2.4M445.1 365.0V367.0M443.9 367.0h2.4M449.4 367.5h2.4M450.6 367.5V369.5M449.4 369.5h2.4M455.0 368.8h2.4M456.2 368.8V370.8M455.0 370.8h2.4M460.5 358.7h2.4M461.7 358.7V360.7M460.5 360.7h2.4M466.1 367.5h2.4M467.3 367.5V369.5M466.1 369.5h2.4M471.7 371.3h2.4M472.9 371.3V373.3M471.7 373.3h2.4M477.2 372.6h2.4M478.4 372.6V374.6M477.2 374.6h2.4M482.8 375.1h2.4M484.0 375.1V377.1M482.8 377.1h2.4M488.3 380.1h2.4M489.5 380.1V382.2M488.3 382.2h2.4M493.9 381.4h2.4M495.1 381.4V383.4M493.9 383.4h2.4M499.4 382.2h2.4M500.6 382.2V384.2M499.4 384.2h2.4" stroke="#f2bb1b" stroke-width="0.9" fill="none"/>
<polyline points="417.3,395.8 422.9,395.8 428.4,395.8 434.0,395.8 439.5,363.5 445.1,366.0 450.6,368.5 456.2,369.8 461.7,359.7 467.3,368.5 472.9,372.3 478.4,373.6 484.0,376.1 489.5,381.1 495.1,382.4 500.6,383.2" fill="none" stroke="#f2bb1b" stroke-width="1.0" stroke-linejoin="round"/>
<path d="M416.3 394.8h2v2h-2zM421.9 394.8h2v2h-2zM427.4 394.8h2v2h-2zM433.0 394.8h2v2h-2zM438.5 362.5h2v2h-2zM444.1 365.0h2v2h-2zM449.6 367.5h2v2h-2zM455.2 368.8h2v2h-2zM460.7 358.7h2v2h-2zM466.3 367.5h2v2h-2zM471.9 371.3h2v2h-2zM477.4 372.6h2v2h-2zM483.0 375.1h2v2h-2zM488.5 380.1h2v2h-2zM494.1 381.4h2v2h-2zM499.6 382.2h2v2h-2z" fill="#f2bb1b"/>
<path d="M416.1 396.0h2.4M417.3 396.0V398.1M416.1 398.1h2.4M421.7 396.0h2.4M422.9 396.0V398.1M421.7 398.1h2.4M427.2 396.0h2.4M428.4 396.0V398.1M427.2 398.1h2.4M432.8 396.0h2.4M434.0 396.0V398.1M432.8 398.1h2.4M438.3 358.7h2.4M439.5 358.7V360.7M438.3 360.7h2.4M443.9 362.5h2.4M445.1 362.5V364.5M443.9 364.5h2.4M449.4 365.0h2.4M450.6 365.0V367.0M449.4 367.0h2.4M455.0 367.5h2.4M456.2 367.5V369.5M455.0 369.5h2.4M460.5 362.0h2.4M461.7 362.0V364.0M460.5 364.0h2.4M466.1 366.3h2.4M467.3 366.3V368.3M466.1 368.3h2.4M471.7 370.0h2.4M472.9 370.0V372.1M471.7 372.1h2.4M477.2 371.3h2.4M478.4 371.3V373.3M477.2 373.3h2.4M482.8 372.6h2.4M484.0 372.6V374.6M482.8 374.6h2.4M488.3 380.1h2.4M489.5 380.1V382.2M488.3 382.2h2.4M493.9 381.4h2.4M495.1 381.4V383.4M493.9 383.4h2.4M499.4 382.2h2.4M500.6 382.2V384.2M499.4 384.2h2.4" stroke="#2b59a5" stroke-width="0.9" fill="none"/>
<polyline points="417.3,397.1 422.9,397.1 428.4,397.1 434.0,397.1 439.5,359.7 445.1,363.5 450.6,366.0 456.2,368.5 461.7,363.0 467.3,367.3 472.9,371.1 478.4,372.3 484.0,373.6 489.5,381.1 495.1,382.4 500.6,383.2" fill="none" stroke="#2b59a5" stroke-width="1.0" stroke-linejoin="round"/>
<path d="M416.3 396.1h2v2h-2zM421.9 396.1h2v2h-2zM427.4 396.1h2v2h-2zM433.0 396.1h2v2h-2zM438.5 358.7h2v2h-2zM444.1 362.5h2v2h-2zM449.6 365.0h2v2h-2zM455.2 367.5h2v2h-2zM460.7 362.0h2v2h-2zM466.3 366.3h2v2h-2zM471.9 370.1h2v2h-2zM477.4 371.3h2v2h-2zM483.0 372.6h2v2h-2zM488.5 380.1h2v2h-2zM494.1 381.4h2v2h-2zM499.6 382.2h2v2h-2z" fill="#2b59a5"/>
<path d="M416.1 395.3h2.4M417.3 395.3V397.3M416.1 397.3h2.4M421.7 395.3h2.4M422.9 395.3V397.3M421.7 397.3h2.4M427.2 395.3h2.4M428.4 395.3V397.3M427.2 397.3h2.4M432.8 395.3h2.4M434.0 395.3V397.3M432.8 397.3h2.4M438.3 357.4h2.4M439.5 357.4V359.4M438.3 359.4h2.4M443.9 363.7h2.4M445.1 363.7V365.7M443.9 365.7h2.4M449.4 366.3h2.4M450.6 366.3V368.3M449.4 368.3h2.4M455.0 367.5h2.4M456.2 367.5V369.5M455.0 369.5h2.4M460.5 360.4h2.4M461.7 360.4V362.5M460.5 362.5h2.4M466.1 366.3h2.4M467.3 366.3V368.3M466.1 368.3h2.4M471.7 370.0h2.4M472.9 370.0V372.1M471.7 372.1h2.4M477.2 368.0h2.4M478.4 368.0V370.0M477.2 370.0h2.4M482.8 375.1h2.4M484.0 375.1V377.1M482.8 377.1h2.4M488.3 380.1h2.4M489.5 380.1V382.2M488.3 382.2h2.4M493.9 381.4h2.4M495.1 381.4V383.4M493.9 383.4h2.4M499.4 382.2h2.4M500.6 382.2V384.2M499.4 384.2h2.4" stroke="#5db53c" stroke-width="0.9" fill="none"/>
<polyline points="417.3,396.3 422.9,396.3 428.4,396.3 434.0,396.3 439.5,358.4 445.1,364.7 450.6,367.3 456.2,368.5 461.7,361.5 467.3,367.3 472.9,371.1 478.4,369.0 484.0,376.1 489.5,381.1 495.1,382.4 500.6,383.2" fill="none" stroke="#5db53c" stroke-width="1.0" stroke-linejoin="round"/>
<path d="M416.3 395.3h2v2h-2zM421.9 395.3h2v2h-2zM427.4 395.3h2v2h-2zM433.0 395.3h2v2h-2zM438.5 357.4h2v2h-2zM444.1 363.7h2v2h-2zM449.6 366.3h2v2h-2zM455.2 367.5h2v2h-2zM460.7 360.5h2v2h-2zM466.3 366.3h2v2h-2zM471.9 370.1h2v2h-2zM477.4 368.0h2v2h-2zM483.0 375.1h2v2h-2zM488.5 380.1h2v2h-2zM494.1 381.4h2v2h-2zM499.6 382.2h2v2h-2z" fill="#5db53c"/>
<line x1="80.00" y1="355.00" x2="80.00" y2="364.50" stroke="#000" stroke-width="1.25"/>
<path d="M77.50,363.40 L82.50,363.40 L80.00,369.00 Z" fill="#000"/>
<line x1="103.50" y1="344.00" x2="103.50" y2="352.00" stroke="#000" stroke-width="1.25"/>
<path d="M101.00,350.90 L106.00,350.90 L103.50,356.50 Z" fill="#000"/>
<line x1="121.20" y1="343.70" x2="121.20" y2="350.10" stroke="#000" stroke-width="1.25"/>
<path d="M118.70,349.00 L123.70,349.00 L121.20,354.60 Z" fill="#000"/>
<line x1="199.30" y1="347.00" x2="199.30" y2="355.80" stroke="#000" stroke-width="1.25"/>
<path d="M196.80,354.70 L201.80,354.70 L199.30,360.30 Z" fill="#000"/>
<line x1="221.30" y1="338.00" x2="221.30" y2="345.80" stroke="#000" stroke-width="1.25"/>
<path d="M218.80,344.70 L223.80,344.70 L221.30,350.30 Z" fill="#000"/>
<line x1="241.40" y1="339.00" x2="241.40" y2="346.30" stroke="#000" stroke-width="1.25"/>
<path d="M238.90,345.20 L243.90,345.20 L241.40,350.80 Z" fill="#000"/>
<line x1="319.30" y1="337.00" x2="319.30" y2="344.50" stroke="#000" stroke-width="1.25"/>
<path d="M316.80,343.40 L321.80,343.40 L319.30,349.00 Z" fill="#000"/>
<line x1="342.40" y1="334.60" x2="342.40" y2="341.20" stroke="#000" stroke-width="1.25"/>
<path d="M339.90,340.10 L344.90,340.10 L342.40,345.70 Z" fill="#000"/>
<line x1="360.90" y1="334.60" x2="360.90" y2="341.20" stroke="#000" stroke-width="1.25"/>
<path d="M358.40,340.10 L363.40,340.10 L360.90,345.70 Z" fill="#000"/>
<line x1="435.20" y1="347.00" x2="435.20" y2="355.30" stroke="#000" stroke-width="1.25"/>
<path d="M432.70,354.20 L437.70,354.20 L435.20,359.80 Z" fill="#000"/>
<line x1="456.70" y1="347.00" x2="456.70" y2="355.30" stroke="#000" stroke-width="1.25"/>
<path d="M454.20,354.20 L459.20,354.20 L456.70,359.80 Z" fill="#000"/>
<line x1="477.50" y1="355.20" x2="477.50" y2="362.80" stroke="#000" stroke-width="1.25"/>
<path d="M475.00,361.70 L480.00,361.70 L477.50,367.30 Z" fill="#000"/>
<text x="78.37" y="350.88" font-size="7.9" text-anchor="start" font-weight="normal" fill="#222" dominant-baseline="central" transform="rotate(-45.17 78.37 350.88)" textLength="24.4" lengthAdjust="spacingAndGlyphs">Glucose</text>
<text x="101.55" y="340.40" font-size="7.9" text-anchor="start" font-weight="normal" fill="#222" dominant-baseline="central" transform="rotate(-48.06 101.55 340.40)" textLength="18.55" lengthAdjust="spacingAndGlyphs">Oligo</text>
<text x="119.76" y="339.39" font-size="7.9" text-anchor="start" font-weight="normal" fill="#222" dominant-baseline="central" transform="rotate(-47.39 119.76 339.39)" textLength="16.99" lengthAdjust="spacingAndGlyphs">2-DG</text>
<text x="196.60" y="342.96" font-size="7.9" text-anchor="start" font-weight="normal" fill="#222" dominant-baseline="central" transform="rotate(-42.43 196.60 342.96)" textLength="25.2" lengthAdjust="spacingAndGlyphs">Glucose</text>
<text x="218.36" y="334.49" font-size="7.9" text-anchor="start" font-weight="normal" fill="#222" dominant-baseline="central" transform="rotate(-47.4 218.36 334.49)" textLength="18.61" lengthAdjust="spacingAndGlyphs">Oligo</text>
<text x="238.49" y="335.56" font-size="7.9" text-anchor="start" font-weight="normal" fill="#222" dominant-baseline="central" transform="rotate(-42.83 238.49 335.56)" textLength="18.68" lengthAdjust="spacingAndGlyphs">2-DG</text>
<text x="317.28" y="331.88" font-size="7.9" text-anchor="start" font-weight="normal" fill="#222" dominant-baseline="central" transform="rotate(-45.0 317.28 331.88)" textLength="24.47" lengthAdjust="spacingAndGlyphs">Glucose</text>
<text x="340.73" y="330.83" font-size="7.9" text-anchor="start" font-weight="normal" fill="#222" dominant-baseline="central" transform="rotate(-51.39 340.73 330.83)" textLength="17.79" lengthAdjust="spacingAndGlyphs">Oligo</text>
<text x="358.80" y="330.76" font-size="7.9" text-anchor="start" font-weight="normal" fill="#222" dominant-baseline="central" transform="rotate(-42.18 358.80 330.76)" textLength="17.27" lengthAdjust="spacingAndGlyphs">2-DG</text>
<text x="432.09" y="342.56" font-size="7.9" text-anchor="start" font-weight="normal" fill="#222" dominant-baseline="central" transform="rotate(-42.63 432.09 342.56)" textLength="25.69" lengthAdjust="spacingAndGlyphs">Glucose</text>
<text x="453.57" y="342.58" font-size="7.9" text-anchor="start" font-weight="normal" fill="#222" dominant-baseline="central" transform="rotate(-46.04 453.57 342.58)" textLength="19.45" lengthAdjust="spacingAndGlyphs">Oligo</text>
<text x="475.20" y="350.55" font-size="7.9" text-anchor="start" font-weight="normal" fill="#222" dominant-baseline="central" transform="rotate(-41.85 475.20 350.55)" textLength="17.99" lengthAdjust="spacingAndGlyphs">2-DG</text>
<text x="106.90" y="428.30" font-size="9.8" text-anchor="middle" font-weight="normal" fill="#222" dominant-baseline="central" textLength="47" lengthAdjust="spacingAndGlyphs" stroke="#222" stroke-width="0.2">Time (minutes)</text>
<text x="23.50" y="374.50" font-size="9.2" text-anchor="middle" font-weight="normal" fill="#222" dominant-baseline="central" transform="rotate(-90 23.50 374.50)" textLength="67" lengthAdjust="spacingAndGlyphs">ECAR (mpH/min)/10⁶</text>
<text x="34.50" y="374.00" font-size="9.2" text-anchor="middle" font-weight="normal" fill="#222" dominant-baseline="central" transform="rotate(-90 34.50 374.00)" textLength="14" lengthAdjust="spacingAndGlyphs">cells</text>
<line x1="363.30" y1="427.40" x2="369.30" y2="427.40" stroke="#5db53c" stroke-width="1.1"/>
<rect x="365.10" y="426.20" width="2.40" height="2.40" fill="#5db53c"/>
<text x="372.60" y="427.40" font-size="7.0" text-anchor="start" font-weight="normal" fill="#222" dominant-baseline="central">Untreated</text>
<line x1="412.75" y1="427.40" x2="418.75" y2="427.40" stroke="#f2bb1b" stroke-width="1.1"/>
<rect x="414.55" y="426.20" width="2.40" height="2.40" fill="#f2bb1b"/>
<text x="422.05" y="427.40" font-size="7.0" text-anchor="start" font-weight="normal" fill="#222" dominant-baseline="central">10uM-3PO</text>
<line x1="461.30" y1="427.40" x2="467.30" y2="427.40" stroke="#e48a1c" stroke-width="1.1"/>
<rect x="463.10" y="426.20" width="2.40" height="2.40" fill="#e48a1c"/>
<text x="470.60" y="427.40" font-size="7.0" text-anchor="start" font-weight="normal" fill="#222" dominant-baseline="central">20uM-3PO</text>
<line x1="363.30" y1="438.40" x2="369.30" y2="438.40" stroke="#b0093a" stroke-width="1.1"/>
<rect x="365.10" y="437.20" width="2.40" height="2.40" fill="#b0093a"/>
<text x="372.60" y="438.40" font-size="7.0" text-anchor="start" font-weight="normal" fill="#222" dominant-baseline="central">30uM-3PO</text>
<line x1="412.75" y1="438.40" x2="418.75" y2="438.40" stroke="#2b59a5" stroke-width="1.1"/>
<rect x="414.55" y="437.20" width="2.40" height="2.40" fill="#2b59a5"/>
<text x="422.05" y="438.40" font-size="7.0" text-anchor="start" font-weight="normal" fill="#222" dominant-baseline="central">Ruxo</text>
<line x1="461.30" y1="438.40" x2="467.30" y2="438.40" stroke="#2e6b50" stroke-width="1.1"/>
<rect x="463.10" y="437.20" width="2.40" height="2.40" fill="#2e6b50"/>
<text x="470.60" y="438.40" font-size="7.0" text-anchor="start" font-weight="normal" fill="#222" dominant-baseline="central">10uM-3PO+R</text>
<line x1="59.40" y1="495.20" x2="59.40" y2="559.80" stroke="#111" stroke-width="1.3"/>
<line x1="58.80" y1="559.20" x2="153.90" y2="559.20" stroke="#111" stroke-width="1.3"/>
<line x1="56.40" y1="559.20" x2="59.40" y2="559.20" stroke="#111" stroke-width="1.0"/>
<text x="53.90" y="559.20" font-size="6.8" text-anchor="end" font-weight="normal" fill="#222" dominant-baseline="central">0</text>
<line x1="56.40" y1="551.51" x2="59.40" y2="551.51" stroke="#111" stroke-width="1.0"/>
<text x="53.90" y="551.51" font-size="6.8" text-anchor="end" font-weight="normal" fill="#222" dominant-baseline="central">20</text>
<line x1="56.40" y1="543.83" x2="59.40" y2="543.83" stroke="#111" stroke-width="1.0"/>
<text x="53.90" y="543.83" font-size="6.8" text-anchor="end" font-weight="normal" fill="#222" dominant-baseline="central">40</text>
<line x1="56.40" y1="536.14" x2="59.40" y2="536.14" stroke="#111" stroke-width="1.0"/>
<text x="53.90" y="536.14" font-size="6.8" text-anchor="end" font-weight="normal" fill="#222" dominant-baseline="central">60</text>
<line x1="56.40" y1="528.45" x2="59.40" y2="528.45" stroke="#111" stroke-width="1.0"/>
<text x="53.90" y="528.45" font-size="6.8" text-anchor="end" font-weight="normal" fill="#222" dominant-baseline="central">80</text>
<line x1="56.40" y1="520.76" x2="59.40" y2="520.76" stroke="#111" stroke-width="1.0"/>
<text x="53.90" y="520.76" font-size="6.8" text-anchor="end" font-weight="normal" fill="#222" dominant-baseline="central">100</text>
<line x1="56.40" y1="513.08" x2="59.40" y2="513.08" stroke="#111" stroke-width="1.0"/>
<text x="53.90" y="513.08" font-size="6.8" text-anchor="end" font-weight="normal" fill="#222" dominant-baseline="central">120</text>
<line x1="56.40" y1="505.39" x2="59.40" y2="505.39" stroke="#111" stroke-width="1.0"/>
<text x="53.90" y="505.39" font-size="6.8" text-anchor="end" font-weight="normal" fill="#222" dominant-baseline="central">140</text>
<line x1="56.40" y1="497.70" x2="59.40" y2="497.70" stroke="#111" stroke-width="1.0"/>
<text x="53.90" y="497.70" font-size="6.8" text-anchor="end" font-weight="normal" fill="#222" dominant-baseline="central">160</text>
<line x1="59.40" y1="559.20" x2="59.40" y2="561.70" stroke="#111" stroke-width="1.0"/>
<text x="59.40" y="569.20" font-size="6.8" text-anchor="middle" font-weight="normal" fill="#222" dominant-baseline="central">0</text>
<line x1="69.53" y1="559.20" x2="69.53" y2="561.70" stroke="#111" stroke-width="1.0"/>
<text x="69.53" y="569.20" font-size="6.8" text-anchor="middle" font-weight="normal" fill="#222" dominant-baseline="central">10</text>
<line x1="79.66" y1="559.20" x2="79.66" y2="561.70" stroke="#111" stroke-width="1.0"/>
<text x="79.66" y="569.20" font-size="6.8" text-anchor="middle" font-weight="normal" fill="#222" dominant-baseline="central">20</text>
<line x1="89.79" y1="559.20" x2="89.79" y2="561.70" stroke="#111" stroke-width="1.0"/>
<text x="89.79" y="569.20" font-size="6.8" text-anchor="middle" font-weight="normal" fill="#222" dominant-baseline="central">30</text>
<line x1="99.92" y1="559.20" x2="99.92" y2="561.70" stroke="#111" stroke-width="1.0"/>
<text x="99.92" y="569.20" font-size="6.8" text-anchor="middle" font-weight="normal" fill="#222" dominant-baseline="central">40</text>
<line x1="110.05" y1="559.20" x2="110.05" y2="561.70" stroke="#111" stroke-width="1.0"/>
<text x="110.05" y="569.20" font-size="6.8" text-anchor="middle" font-weight="normal" fill="#222" dominant-baseline="central">50</text>
<line x1="120.18" y1="559.20" x2="120.18" y2="561.70" stroke="#111" stroke-width="1.0"/>
<text x="120.18" y="569.20" font-size="6.8" text-anchor="middle" font-weight="normal" fill="#222" dominant-baseline="central">60</text>
<line x1="130.31" y1="559.20" x2="130.31" y2="561.70" stroke="#111" stroke-width="1.0"/>
<text x="130.31" y="569.20" font-size="6.8" text-anchor="middle" font-weight="normal" fill="#222" dominant-baseline="central">70</text>
<line x1="140.44" y1="559.20" x2="140.44" y2="561.70" stroke="#111" stroke-width="1.0"/>
<text x="140.44" y="569.20" font-size="6.8" text-anchor="middle" font-weight="normal" fill="#222" dominant-baseline="central">80</text>
<line x1="150.57" y1="559.20" x2="150.57" y2="561.70" stroke="#111" stroke-width="1.0"/>
<text x="150.57" y="569.20" font-size="6.8" text-anchor="middle" font-weight="normal" fill="#222" dominant-baseline="central">90</text>
<path d="M58.2 541.9h2.4M59.4 541.9V544.2M58.2 544.2h2.4M63.8 541.9h2.4M65.0 541.9V544.2M63.8 544.2h2.4M69.3 544.8h2.4M70.5 544.8V547.1M69.3 547.1h2.4M74.9 546.9h2.4M76.1 546.9V549.2M74.9 549.2h2.4M80.5 550.6h2.4M81.7 550.6V552.9M80.5 552.9h2.4M86.1 550.6h2.4M87.3 550.6V552.9M86.1 552.9h2.4M91.6 550.6h2.4M92.8 550.6V552.9M91.6 552.9h2.4M97.2 550.6h2.4M98.4 550.6V552.9M97.2 552.9h2.4M102.8 550.6h2.4M104.0 550.6V552.9M102.8 552.9h2.4M108.3 550.6h2.4M109.5 550.6V552.9M108.3 552.9h2.4M113.9 550.2h2.4M115.1 550.2V552.5M113.9 552.5h2.4M119.5 549.6h2.4M120.7 549.6V551.9M119.5 551.9h2.4M125.1 553.4h2.4M126.3 553.4V555.7M125.1 555.7h2.4M130.6 553.4h2.4M131.8 553.4V555.7M130.6 555.7h2.4M136.2 553.4h2.4M137.4 553.4V555.7M136.2 555.7h2.4M141.8 553.4h2.4M143.0 553.4V555.7M141.8 555.7h2.4" stroke="#e48a1c" stroke-width="0.9" fill="none"/>
<polyline points="59.4,543.1 65.0,543.1 70.5,546.0 76.1,548.1 81.7,551.7 87.3,551.7 92.8,551.7 98.4,551.7 104.0,551.7 109.5,551.7 115.1,551.4 120.7,550.7 126.3,554.6 131.8,554.6 137.4,554.6 143.0,554.6" fill="none" stroke="#e48a1c" stroke-width="1.0" stroke-linejoin="round"/>
<path d="M58.4 542.1h2v2h-2zM64.0 542.1h2v2h-2zM69.5 545.0h2v2h-2zM75.1 547.1h2v2h-2zM80.7 550.7h2v2h-2zM86.3 550.7h2v2h-2zM91.8 550.7h2v2h-2zM97.4 550.7h2v2h-2zM103.0 550.7h2v2h-2zM108.5 550.7h2v2h-2zM114.1 550.4h2v2h-2zM119.7 549.7h2v2h-2zM125.3 553.6h2v2h-2zM130.8 553.6h2v2h-2zM136.4 553.6h2v2h-2zM142.0 553.6h2v2h-2z" fill="#e48a1c"/>
<path d="M58.2 526.5h2.4M59.4 526.5V528.8M58.2 528.8h2.4M63.8 526.5h2.4M65.0 526.5V528.8M63.8 528.8h2.4M69.3 529.6h2.4M70.5 529.6V531.9M69.3 531.9h2.4M74.9 530.4h2.4M76.1 530.4V532.7M74.9 532.7h2.4M80.5 546.9h2.4M81.7 546.9V549.2M80.5 549.2h2.4M86.1 545.7h2.4M87.3 545.7V548.1M86.1 548.1h2.4M91.6 545.4h2.4M92.8 545.4V547.7M91.6 547.7h2.4M97.2 545.0h2.4M98.4 545.0V547.3M97.2 547.3h2.4M102.8 539.1h2.4M104.0 539.1V541.4M102.8 541.4h2.4M108.3 537.3h2.4M109.5 537.3V539.6M108.3 539.6h2.4M113.9 536.9h2.4M115.1 536.9V539.2M113.9 539.2h2.4M119.5 537.3h2.4M120.7 537.3V539.6M119.5 539.6h2.4M125.1 551.5h2.4M126.3 551.5V553.8M125.1 553.8h2.4M130.6 551.5h2.4M131.8 551.5V553.8M130.6 553.8h2.4M136.2 551.5h2.4M137.4 551.5V553.8M136.2 553.8h2.4M141.8 551.5h2.4M143.0 551.5V553.8M141.8 553.8h2.4" stroke="#2e6b50" stroke-width="0.9" fill="none"/>
<polyline points="59.4,527.7 65.0,527.7 70.5,530.8 76.1,531.5 81.7,548.1 87.3,546.9 92.8,546.5 98.4,546.1 104.0,540.2 109.5,538.4 115.1,538.1 120.7,538.4 126.3,552.7 131.8,552.7 137.4,552.7 143.0,552.7" fill="none" stroke="#2e6b50" stroke-width="1.0" stroke-linejoin="round"/>
<path d="M58.4 526.7h2v2h-2zM64.0 526.7h2v2h-2zM69.5 529.8h2v2h-2zM75.1 530.5h2v2h-2zM80.7 547.1h2v2h-2zM86.3 545.9h2v2h-2zM91.8 545.5h2v2h-2zM97.4 545.1h2v2h-2zM103.0 539.2h2v2h-2zM108.5 537.4h2v2h-2zM114.1 537.1h2v2h-2zM119.7 537.4h2v2h-2zM125.3 551.7h2v2h-2zM130.8 551.7h2v2h-2zM136.4 551.7h2v2h-2zM142.0 551.7h2v2h-2z" fill="#2e6b50"/>
<path d="M58.2 527.3h2.4M59.4 527.3V530.4M58.2 530.4h2.4M63.8 527.7h2.4M65.0 527.7V530.8M63.8 530.8h2.4M69.3 530.0h2.4M70.5 530.0V533.1M69.3 533.1h2.4M74.9 531.9h2.4M76.1 531.9V535.0M74.9 535.0h2.4M80.5 546.1h2.4M81.7 546.1V549.2M80.5 549.2h2.4M86.1 545.0h2.4M87.3 545.0V548.1M86.1 548.1h2.4M91.6 543.8h2.4M92.8 543.8V546.9M91.6 546.9h2.4M97.2 543.1h2.4M98.4 543.1V546.1M97.2 546.1h2.4M102.8 534.8h2.4M104.0 534.8V537.9M102.8 537.9h2.4M108.3 534.8h2.4M109.5 534.8V537.9M108.3 537.9h2.4M113.9 533.8h2.4M115.1 533.8V536.9M113.9 536.9h2.4M119.5 534.8h2.4M120.7 534.8V537.9M119.5 537.9h2.4M125.1 552.3h2.4M126.3 552.3V555.4M125.1 555.4h2.4M130.6 552.7h2.4M131.8 552.7V555.7M130.6 555.7h2.4M136.2 552.7h2.4M137.4 552.7V555.7M136.2 555.7h2.4M141.8 552.7h2.4M143.0 552.7V555.7M141.8 555.7h2.4" stroke="#f2bb1b" stroke-width="0.9" fill="none"/>
<polyline points="59.4,528.8 65.0,529.2 70.5,531.5 76.1,533.4 81.7,547.7 87.3,546.5 92.8,545.4 98.4,544.6 104.0,536.4 109.5,536.4 115.1,535.4 120.7,536.4 126.3,553.8 131.8,554.2 137.4,554.2 143.0,554.2" fill="none" stroke="#f2bb1b" stroke-width="1.0" stroke-linejoin="round"/>
<path d="M58.4 527.8h2v2h-2zM64.0 528.2h2v2h-2zM69.5 530.5h2v2h-2zM75.1 532.4h2v2h-2zM80.7 546.7h2v2h-2zM86.3 545.5h2v2h-2zM91.8 544.4h2v2h-2zM97.4 543.6h2v2h-2zM103.0 535.4h2v2h-2zM108.5 535.4h2v2h-2zM114.1 534.4h2v2h-2zM119.7 535.4h2v2h-2zM125.3 552.8h2v2h-2zM130.8 553.2h2v2h-2zM136.4 553.2h2v2h-2zM142.0 553.2h2v2h-2z" fill="#f2bb1b"/>
<path d="M58.2 525.0h2.4M59.4 525.0V528.1M58.2 528.1h2.4M63.8 525.0h2.4M65.0 525.0V528.1M63.8 528.1h2.4M69.3 527.3h2.4M70.5 527.3V530.4M69.3 530.4h2.4M74.9 529.2h2.4M76.1 529.2V532.3M74.9 532.3h2.4M80.5 546.5h2.4M81.7 546.5V549.6M80.5 549.6h2.4M86.1 545.4h2.4M87.3 545.4V548.4M86.1 548.4h2.4M91.6 544.6h2.4M92.8 544.6V547.7M91.6 547.7h2.4M97.2 543.4h2.4M98.4 543.4V546.5M97.2 546.5h2.4M102.8 515.8h2.4M104.0 515.8V526.5M102.8 526.5h2.4M108.3 512.7h2.4M109.5 512.7V523.5M108.3 523.5h2.4M113.9 510.0h2.4M115.1 510.0V520.8M113.9 520.8h2.4M119.5 510.8h2.4M120.7 510.8V521.5M119.5 521.5h2.4M125.1 550.4h2.4M126.3 550.4V553.4M125.1 553.4h2.4M130.6 550.4h2.4M131.8 550.4V553.4M130.6 553.4h2.4M136.2 550.4h2.4M137.4 550.4V553.4M136.2 553.4h2.4M141.8 550.4h2.4M143.0 550.4V553.4M141.8 553.4h2.4" stroke="#5db53c" stroke-width="0.9" fill="none"/>
<polyline points="59.4,526.5 65.0,526.5 70.5,528.8 76.1,530.8 81.7,548.1 87.3,546.9 92.8,546.1 98.4,545.0 104.0,521.1 109.5,518.1 115.1,515.4 120.7,516.1 126.3,551.9 131.8,551.9 137.4,551.9 143.0,551.9" fill="none" stroke="#5db53c" stroke-width="1.0" stroke-linejoin="round"/>
<path d="M58.4 525.5h2v2h-2zM64.0 525.5h2v2h-2zM69.5 527.8h2v2h-2zM75.1 529.8h2v2h-2zM80.7 547.1h2v2h-2zM86.3 545.9h2v2h-2zM91.8 545.1h2v2h-2zM97.4 544.0h2v2h-2zM103.0 520.1h2v2h-2zM108.5 517.1h2v2h-2zM114.1 514.4h2v2h-2zM119.7 515.1h2v2h-2zM125.3 550.9h2v2h-2zM130.8 550.9h2v2h-2zM136.4 550.9h2v2h-2zM142.0 550.9h2v2h-2z" fill="#5db53c"/>
<path d="M58.2 515.8h2.4M59.4 515.8V518.8M58.2 518.8h2.4M63.8 515.8h2.4M65.0 515.8V518.8M63.8 518.8h2.4M69.3 518.5h2.4M70.5 518.5V521.5M69.3 521.5h2.4M74.9 518.5h2.4M76.1 518.5V521.5M74.9 521.5h2.4M80.5 545.4h2.4M81.7 545.4V548.4M80.5 548.4h2.4M86.1 544.4h2.4M87.3 544.4V547.5M86.1 547.5h2.4M91.6 542.3h2.4M92.8 542.3V545.4M91.6 545.4h2.4M97.2 540.4h2.4M98.4 540.4V543.4M97.2 543.4h2.4M102.8 524.2h2.4M104.0 524.2V527.3M102.8 527.3h2.4M108.3 519.5h2.4M109.5 519.5V522.5M108.3 522.5h2.4M113.9 514.6h2.4M115.1 514.6V517.7M113.9 517.7h2.4M119.5 514.6h2.4M120.7 514.6V517.7M119.5 517.7h2.4M125.1 551.1h2.4M126.3 551.1V554.2M125.1 554.2h2.4M130.6 551.1h2.4M131.8 551.1V554.2M130.6 554.2h2.4M136.2 551.1h2.4M137.4 551.1V554.2M136.2 554.2h2.4M141.8 551.1h2.4M143.0 551.1V554.2M141.8 554.2h2.4" stroke="#2b59a5" stroke-width="0.9" fill="none"/>
<polyline points="59.4,517.3 65.0,517.3 70.5,520.0 76.1,520.0 81.7,546.9 87.3,546.0 92.8,543.8 98.4,541.9 104.0,525.8 109.5,521.0 115.1,516.1 120.7,516.1 126.3,552.7 131.8,552.7 137.4,552.7 143.0,552.7" fill="none" stroke="#2b59a5" stroke-width="1.0" stroke-linejoin="round"/>
<path d="M58.4 516.3h2v2h-2zM64.0 516.3h2v2h-2zM69.5 519.0h2v2h-2zM75.1 519.0h2v2h-2zM80.7 545.9h2v2h-2zM86.3 545.0h2v2h-2zM91.8 542.8h2v2h-2zM97.4 540.9h2v2h-2zM103.0 524.8h2v2h-2zM108.5 520.0h2v2h-2zM114.1 515.1h2v2h-2zM119.7 515.1h2v2h-2zM125.3 551.7h2v2h-2zM130.8 551.7h2v2h-2zM136.4 551.7h2v2h-2zM142.0 551.7h2v2h-2z" fill="#2b59a5"/>
<path d="M58.2 545.4h2.4M59.4 545.4V551.5M58.2 551.5h2.4M63.8 545.4h2.4M65.0 545.4V551.5M63.8 551.5h2.4M69.3 547.7h2.4M70.5 547.7V553.8M69.3 553.8h2.4M74.9 548.3h2.4M76.1 548.3V554.4M74.9 554.4h2.4M80.5 544.8h2.4M81.7 544.8V558.7M80.5 558.7h2.4M86.1 544.8h2.4M87.3 544.8V558.7M86.1 558.7h2.4M91.6 544.8h2.4M92.8 544.8V558.7M91.6 558.7h2.4M97.2 544.8h2.4M98.4 544.8V558.7M97.2 558.7h2.4M102.8 544.8h2.4M104.0 544.8V558.7M102.8 558.7h2.4M108.3 544.8h2.4M109.5 544.8V558.7M108.3 558.7h2.4M113.9 544.8h2.4M115.1 544.8V558.7M113.9 558.7h2.4M119.5 544.8h2.4M120.7 544.8V558.7M119.5 558.7h2.4M125.1 543.1h2.4M126.3 543.1V556.9M125.1 556.9h2.4M130.6 543.1h2.4M131.8 543.1V556.9M130.6 556.9h2.4M136.2 543.1h2.4M137.4 543.1V556.9M136.2 556.9h2.4M141.8 543.1h2.4M143.0 543.1V556.9M141.8 556.9h2.4" stroke="#b0093a" stroke-width="0.9" fill="none"/>
<polyline points="59.4,548.4 65.0,548.4 70.5,550.7 76.1,551.4 81.7,551.7 87.3,551.7 92.8,551.7 98.4,551.7 104.0,551.7 109.5,551.7 115.1,551.7 120.7,551.7 126.3,550.0 131.8,550.0 137.4,550.0 143.0,550.0" fill="none" stroke="#b0093a" stroke-width="1.0" stroke-linejoin="round"/>
<path d="M58.4 547.4h2v2h-2zM64.0 547.4h2v2h-2zM69.5 549.7h2v2h-2zM75.1 550.4h2v2h-2zM80.7 550.7h2v2h-2zM86.3 550.7h2v2h-2zM91.8 550.7h2v2h-2zM97.4 550.7h2v2h-2zM103.0 550.7h2v2h-2zM108.5 550.7h2v2h-2zM114.1 550.7h2v2h-2zM119.7 550.7h2v2h-2zM125.3 549.0h2v2h-2zM130.8 549.0h2v2h-2zM136.4 549.0h2v2h-2zM142.0 549.0h2v2h-2z" fill="#b0093a"/>
<line x1="178.50" y1="495.40" x2="178.50" y2="559.60" stroke="#111" stroke-width="1.3"/>
<line x1="177.90" y1="559.00" x2="273.00" y2="559.00" stroke="#111" stroke-width="1.3"/>
<line x1="175.50" y1="559.00" x2="178.50" y2="559.00" stroke="#111" stroke-width="1.0"/>
<text x="173.00" y="559.00" font-size="6.8" text-anchor="end" font-weight="normal" fill="#222" dominant-baseline="central">0</text>
<line x1="175.50" y1="546.78" x2="178.50" y2="546.78" stroke="#111" stroke-width="1.0"/>
<text x="173.00" y="546.78" font-size="6.8" text-anchor="end" font-weight="normal" fill="#222" dominant-baseline="central">100</text>
<line x1="175.50" y1="534.56" x2="178.50" y2="534.56" stroke="#111" stroke-width="1.0"/>
<text x="173.00" y="534.56" font-size="6.8" text-anchor="end" font-weight="normal" fill="#222" dominant-baseline="central">200</text>
<line x1="175.50" y1="522.34" x2="178.50" y2="522.34" stroke="#111" stroke-width="1.0"/>
<text x="173.00" y="522.34" font-size="6.8" text-anchor="end" font-weight="normal" fill="#222" dominant-baseline="central">300</text>
<line x1="175.50" y1="510.12" x2="178.50" y2="510.12" stroke="#111" stroke-width="1.0"/>
<text x="173.00" y="510.12" font-size="6.8" text-anchor="end" font-weight="normal" fill="#222" dominant-baseline="central">400</text>
<line x1="175.50" y1="497.90" x2="178.50" y2="497.90" stroke="#111" stroke-width="1.0"/>
<text x="173.00" y="497.90" font-size="6.8" text-anchor="end" font-weight="normal" fill="#222" dominant-baseline="central">500</text>
<line x1="176.50" y1="552.89" x2="178.50" y2="552.89" stroke="#111" stroke-width="0.9"/>
<line x1="176.50" y1="540.67" x2="178.50" y2="540.67" stroke="#111" stroke-width="0.9"/>
<line x1="176.50" y1="528.45" x2="178.50" y2="528.45" stroke="#111" stroke-width="0.9"/>
<line x1="176.50" y1="516.23" x2="178.50" y2="516.23" stroke="#111" stroke-width="0.9"/>
<line x1="176.50" y1="504.01" x2="178.50" y2="504.01" stroke="#111" stroke-width="0.9"/>
<line x1="178.50" y1="559.00" x2="178.50" y2="561.50" stroke="#111" stroke-width="1.0"/>
<text x="178.50" y="569.00" font-size="6.8" text-anchor="middle" font-weight="normal" fill="#222" dominant-baseline="central">0</text>
<line x1="188.67" y1="559.00" x2="188.67" y2="561.50" stroke="#111" stroke-width="1.0"/>
<text x="188.67" y="569.00" font-size="6.8" text-anchor="middle" font-weight="normal" fill="#222" dominant-baseline="central">10</text>
<line x1="198.84" y1="559.00" x2="198.84" y2="561.50" stroke="#111" stroke-width="1.0"/>
<text x="198.84" y="569.00" font-size="6.8" text-anchor="middle" font-weight="normal" fill="#222" dominant-baseline="central">20</text>
<line x1="209.01" y1="559.00" x2="209.01" y2="561.50" stroke="#111" stroke-width="1.0"/>
<text x="209.01" y="569.00" font-size="6.8" text-anchor="middle" font-weight="normal" fill="#222" dominant-baseline="central">30</text>
<line x1="219.18" y1="559.00" x2="219.18" y2="561.50" stroke="#111" stroke-width="1.0"/>
<text x="219.18" y="569.00" font-size="6.8" text-anchor="middle" font-weight="normal" fill="#222" dominant-baseline="central">40</text>
<line x1="229.35" y1="559.00" x2="229.35" y2="561.50" stroke="#111" stroke-width="1.0"/>
<text x="229.35" y="569.00" font-size="6.8" text-anchor="middle" font-weight="normal" fill="#222" dominant-baseline="central">50</text>
<line x1="239.52" y1="559.00" x2="239.52" y2="561.50" stroke="#111" stroke-width="1.0"/>
<text x="239.52" y="569.00" font-size="6.8" text-anchor="middle" font-weight="normal" fill="#222" dominant-baseline="central">60</text>
<line x1="249.69" y1="559.00" x2="249.69" y2="561.50" stroke="#111" stroke-width="1.0"/>
<text x="249.69" y="569.00" font-size="6.8" text-anchor="middle" font-weight="normal" fill="#222" dominant-baseline="central">70</text>
<line x1="259.86" y1="559.00" x2="259.86" y2="561.50" stroke="#111" stroke-width="1.0"/>
<text x="259.86" y="569.00" font-size="6.8" text-anchor="middle" font-weight="normal" fill="#222" dominant-baseline="central">80</text>
<line x1="270.03" y1="559.00" x2="270.03" y2="561.50" stroke="#111" stroke-width="1.0"/>
<text x="270.03" y="569.00" font-size="6.8" text-anchor="middle" font-weight="normal" fill="#222" dominant-baseline="central">90</text>
<path d="M177.3 547.3h2.4M178.5 547.3V549.2M177.3 549.2h2.4M182.9 548.1h2.4M184.1 548.1V550.1M182.9 550.1h2.4M188.5 549.1h2.4M189.7 549.1V551.1M188.5 551.1h2.4M194.1 550.0h2.4M195.3 550.0V551.9M194.1 551.9h2.4M199.7 551.8h2.4M200.9 551.8V553.7M199.7 553.7h2.4M205.3 552.6h2.4M206.5 552.6V554.6M205.3 554.6h2.4M210.9 552.6h2.4M212.1 552.6V554.6M210.9 554.6h2.4M216.5 552.6h2.4M217.7 552.6V554.6M216.5 554.6h2.4M222.0 554.0h2.4M223.2 554.0V555.9M222.0 555.9h2.4M227.6 554.0h2.4M228.8 554.0V555.9M227.6 555.9h2.4M233.2 554.5h2.4M234.4 554.5V556.4M233.2 556.4h2.4M238.8 554.5h2.4M240.0 554.5V556.4M238.8 556.4h2.4M244.4 554.5h2.4M245.6 554.5V556.4M244.4 556.4h2.4M250.0 554.5h2.4M251.2 554.5V556.4M250.0 556.4h2.4M255.6 554.5h2.4M256.8 554.5V556.4M255.6 556.4h2.4M261.2 554.5h2.4M262.4 554.5V556.4M261.2 556.4h2.4" stroke="#b0093a" stroke-width="0.9" fill="none"/>
<polyline points="178.5,548.2 184.1,549.1 189.7,550.1 195.3,550.9 200.9,552.8 206.5,553.6 212.1,553.6 217.7,553.6 223.2,555.0 228.8,555.0 234.4,555.5 240.0,555.5 245.6,555.5 251.2,555.5 256.8,555.5 262.4,555.5" fill="none" stroke="#b0093a" stroke-width="1.0" stroke-linejoin="round"/>
<path d="M177.5 547.2h2v2h-2zM183.1 548.1h2v2h-2zM188.7 549.1h2v2h-2zM194.3 549.9h2v2h-2zM199.9 551.8h2v2h-2zM205.5 552.6h2v2h-2zM211.1 552.6h2v2h-2zM216.7 552.6h2v2h-2zM222.2 554.0h2v2h-2zM227.8 554.0h2v2h-2zM233.4 554.5h2v2h-2zM239.0 554.5h2v2h-2zM244.6 554.5h2v2h-2zM250.2 554.5h2v2h-2zM255.8 554.5h2v2h-2zM261.4 554.5h2v2h-2z" fill="#b0093a"/>
<path d="M177.3 535.0h2.4M178.5 535.0V539.9M177.3 539.9h2.4M182.9 536.4h2.4M184.1 536.4V541.3M182.9 541.3h2.4M188.5 536.9h2.4M189.7 536.9V541.8M188.5 541.8h2.4M194.1 536.9h2.4M195.3 536.9V541.8M194.1 541.8h2.4M199.7 552.5h2.4M200.9 552.5V557.4M199.7 557.4h2.4M205.3 552.5h2.4M206.5 552.5V557.4M205.3 557.4h2.4M210.9 552.0h2.4M212.1 552.0V556.9M210.9 556.9h2.4M216.5 551.2h2.4M217.7 551.2V556.1M216.5 556.1h2.4M222.0 549.8h2.4M223.2 549.8V554.7M222.0 554.7h2.4M227.6 549.3h2.4M228.8 549.3V554.2M227.6 554.2h2.4M233.2 549.3h2.4M234.4 549.3V554.2M233.2 554.2h2.4M238.8 549.3h2.4M240.0 549.3V554.2M238.8 554.2h2.4M244.4 553.9h2.4M245.6 553.9V558.8M244.4 558.8h2.4M250.0 553.9h2.4M251.2 553.9V558.8M250.0 558.8h2.4M255.6 553.9h2.4M256.8 553.9V558.8M255.6 558.8h2.4M261.2 553.9h2.4M262.4 553.9V558.8M261.2 558.8h2.4" stroke="#e48a1c" stroke-width="0.9" fill="none"/>
<polyline points="178.5,537.5 184.1,538.8 189.7,539.3 195.3,539.3 200.9,555.0 206.5,555.0 212.1,554.5 217.7,553.6 223.2,552.3 228.8,551.8 234.4,551.8 240.0,551.8 245.6,556.3 251.2,556.3 256.8,556.3 262.4,556.3" fill="none" stroke="#e48a1c" stroke-width="1.0" stroke-linejoin="round"/>
<path d="M177.5 536.5h2v2h-2zM183.1 537.8h2v2h-2zM188.7 538.3h2v2h-2zM194.3 538.3h2v2h-2zM199.9 554.0h2v2h-2zM205.5 554.0h2v2h-2zM211.1 553.5h2v2h-2zM216.7 552.6h2v2h-2zM222.2 551.3h2v2h-2zM227.8 550.8h2v2h-2zM233.4 550.8h2v2h-2zM239.0 550.8h2v2h-2zM244.6 555.3h2v2h-2zM250.2 555.3h2v2h-2zM255.8 555.3h2v2h-2zM261.4 555.3h2v2h-2z" fill="#e48a1c"/>
<path d="M177.3 518.1h2.4M178.5 518.1V523.0M177.3 523.0h2.4M182.9 518.1h2.4M184.1 518.1V523.0M182.9 523.0h2.4M188.5 518.1h2.4M189.7 518.1V523.0M188.5 523.0h2.4M194.1 517.0h2.4M195.3 517.0V521.9M194.1 521.9h2.4M199.7 550.2h2.4M200.9 550.2V555.1M199.7 555.1h2.4M205.3 549.8h2.4M206.5 549.8V554.7M205.3 554.7h2.4M210.9 549.0h2.4M212.1 549.0V553.9M210.9 553.9h2.4M216.5 548.2h2.4M217.7 548.2V553.1M216.5 553.1h2.4M222.0 525.6h2.4M223.2 525.6V530.5M222.0 530.5h2.4M227.6 524.3h2.4M228.8 524.3V529.2M227.6 529.2h2.4M233.2 524.3h2.4M234.4 524.3V529.2M233.2 529.2h2.4M238.8 525.6h2.4M240.0 525.6V530.5M238.8 530.5h2.4M244.4 552.5h2.4M245.6 552.5V557.4M244.4 557.4h2.4M250.0 552.5h2.4M251.2 552.5V557.4M250.0 557.4h2.4M255.6 552.5h2.4M256.8 552.5V557.4M255.6 557.4h2.4M261.2 552.5h2.4M262.4 552.5V557.4M261.2 557.4h2.4" stroke="#2e6b50" stroke-width="0.9" fill="none"/>
<polyline points="178.5,520.5 184.1,520.5 189.7,520.5 195.3,519.4 200.9,552.6 206.5,552.3 212.1,551.4 217.7,550.7 223.2,528.1 228.8,526.7 234.4,526.7 240.0,528.1 245.6,555.0 251.2,555.0 256.8,555.0 262.4,555.0" fill="none" stroke="#2e6b50" stroke-width="1.0" stroke-linejoin="round"/>
<path d="M177.5 519.5h2v2h-2zM183.1 519.5h2v2h-2zM188.7 519.5h2v2h-2zM194.3 518.4h2v2h-2zM199.9 551.6h2v2h-2zM205.5 551.3h2v2h-2zM211.1 550.4h2v2h-2zM216.7 549.7h2v2h-2zM222.2 527.1h2v2h-2zM227.8 525.7h2v2h-2zM233.4 525.7h2v2h-2zM239.0 527.1h2v2h-2zM244.6 554.0h2v2h-2zM250.2 554.0h2v2h-2zM255.8 554.0h2v2h-2zM261.4 554.0h2v2h-2z" fill="#2e6b50"/>
<path d="M177.3 518.7h2.4M178.5 518.7V522.3M177.3 522.3h2.4M182.9 518.7h2.4M184.1 518.7V522.3M182.9 522.3h2.4M188.5 518.7h2.4M189.7 518.7V522.3M188.5 522.3h2.4M194.1 517.6h2.4M195.3 517.6V521.2M194.1 521.2h2.4M199.7 550.4h2.4M200.9 550.4V554.1M199.7 554.1h2.4M205.3 550.0h2.4M206.5 550.0V553.6M205.3 553.6h2.4M210.9 549.1h2.4M212.1 549.1V552.8M210.9 552.8h2.4M216.5 548.2h2.4M217.7 548.2V551.9M216.5 551.9h2.4M222.0 518.1h2.4M223.2 518.1V532.7M222.0 532.7h2.4M227.6 514.2h2.4M228.8 514.2V531.3M227.6 531.3h2.4M233.2 513.5h2.4M234.4 513.5V530.6M233.2 530.6h2.4M238.8 514.8h2.4M240.0 514.8V530.6M238.8 530.6h2.4M244.4 551.8h2.4M245.6 551.8V555.5M244.4 555.5h2.4M250.0 551.8h2.4M251.2 551.8V555.5M250.0 555.5h2.4M255.6 552.6h2.4M256.8 552.6V556.3M255.6 556.3h2.4M261.2 552.6h2.4M262.4 552.6V556.3M261.2 556.3h2.4" stroke="#2b59a5" stroke-width="0.9" fill="none"/>
<polyline points="178.5,520.5 184.1,520.5 189.7,520.5 195.3,519.4 200.9,552.3 206.5,551.8 212.1,550.9 217.7,550.1 223.2,525.4 228.8,522.7 234.4,522.1 240.0,522.7 245.6,553.6 251.2,553.6 256.8,554.5 262.4,554.5" fill="none" stroke="#2b59a5" stroke-width="1.0" stroke-linejoin="round"/>
<path d="M177.5 519.5h2v2h-2zM183.1 519.5h2v2h-2zM188.7 519.5h2v2h-2zM194.3 518.4h2v2h-2zM199.9 551.3h2v2h-2zM205.5 550.8h2v2h-2zM211.1 549.9h2v2h-2zM216.7 549.1h2v2h-2zM222.2 524.4h2v2h-2zM227.8 521.7h2v2h-2zM233.4 521.1h2v2h-2zM239.0 521.7h2v2h-2zM244.6 552.6h2v2h-2zM250.2 552.6h2v2h-2zM255.8 553.5h2v2h-2zM261.4 553.5h2v2h-2z" fill="#2b59a5"/>
<path d="M177.3 515.3h2.4M178.5 515.3V518.2M177.3 518.2h2.4M182.9 515.3h2.4M184.1 515.3V518.2M182.9 518.2h2.4M188.5 514.5h2.4M189.7 514.5V517.5M188.5 517.5h2.4M194.1 513.2h2.4M195.3 513.2V516.1M194.1 516.1h2.4M199.7 549.5h2.4M200.9 549.5V552.4M199.7 552.4h2.4M205.3 548.6h2.4M206.5 548.6V551.5M205.3 551.5h2.4M210.9 548.1h2.4M212.1 548.1V551.1M210.9 551.1h2.4M216.5 546.8h2.4M217.7 546.8V549.7M216.5 549.7h2.4M222.0 530.5h2.4M223.2 530.5V539.1M222.0 539.1h2.4M227.6 527.8h2.4M228.8 527.8V536.4M227.6 536.4h2.4M233.2 526.5h2.4M234.4 526.5V535.0M233.2 535.0h2.4M238.8 527.8h2.4M240.0 527.8V536.4M238.8 536.4h2.4M244.4 553.0h2.4M245.6 553.0V555.9M244.4 555.9h2.4M250.0 553.5h2.4M251.2 553.5V556.4M250.0 556.4h2.4M255.6 553.5h2.4M256.8 553.5V556.4M255.6 556.4h2.4M261.2 553.5h2.4M262.4 553.5V556.4M261.2 556.4h2.4" stroke="#f2bb1b" stroke-width="0.9" fill="none"/>
<polyline points="178.5,516.7 184.1,516.7 189.7,516.0 195.3,514.6 200.9,550.9 206.5,550.1 212.1,549.6 217.7,548.2 223.2,534.8 228.8,532.1 234.4,530.8 240.0,532.1 245.6,554.5 251.2,555.0 256.8,555.0 262.4,555.0" fill="none" stroke="#f2bb1b" stroke-width="1.0" stroke-linejoin="round"/>
<path d="M177.5 515.7h2v2h-2zM183.1 515.7h2v2h-2zM188.7 515.0h2v2h-2zM194.3 513.6h2v2h-2zM199.9 549.9h2v2h-2zM205.5 549.1h2v2h-2zM211.1 548.6h2v2h-2zM216.7 547.2h2v2h-2zM222.2 533.8h2v2h-2zM227.8 531.1h2v2h-2zM233.4 529.8h2v2h-2zM239.0 531.1h2v2h-2zM244.6 553.5h2v2h-2zM250.2 554.0h2v2h-2zM255.8 554.0h2v2h-2zM261.4 554.0h2v2h-2z" fill="#f2bb1b"/>
<path d="M177.3 508.8h2.4M178.5 508.8V512.4M177.3 512.4h2.4M182.9 509.5h2.4M184.1 509.5V513.2M182.9 513.2h2.4M188.5 508.8h2.4M189.7 508.8V512.4M188.5 512.4h2.4M194.1 506.8h2.4M195.3 506.8V510.5M194.1 510.5h2.4M199.7 550.0h2.4M200.9 550.0V553.6M199.7 553.6h2.4M205.3 549.1h2.4M206.5 549.1V552.8M205.3 552.8h2.4M210.9 548.2h2.4M212.1 548.2V551.9M210.9 551.9h2.4M216.5 547.3h2.4M217.7 547.3V550.9M216.5 550.9h2.4M222.0 515.4h2.4M223.2 515.4V530.0M222.0 530.0h2.4M227.6 512.6h2.4M228.8 512.6V528.4M227.6 528.4h2.4M233.2 512.6h2.4M234.4 512.6V528.4M233.2 528.4h2.4M238.8 514.0h2.4M240.0 514.0V528.7M238.8 528.7h2.4M244.4 551.8h2.4M245.6 551.8V555.5M244.4 555.5h2.4M250.0 551.8h2.4M251.2 551.8V555.5M250.0 555.5h2.4M255.6 551.8h2.4M256.8 551.8V555.5M255.6 555.5h2.4M261.2 552.6h2.4M262.4 552.6V556.3M261.2 556.3h2.4" stroke="#5db53c" stroke-width="0.9" fill="none"/>
<polyline points="178.5,510.6 184.1,511.3 189.7,510.6 195.3,508.7 200.9,551.8 206.5,550.9 212.1,550.1 217.7,549.1 223.2,522.7 228.8,520.5 234.4,520.5 240.0,521.4 245.6,553.6 251.2,553.6 256.8,553.6 262.4,554.5" fill="none" stroke="#5db53c" stroke-width="1.0" stroke-linejoin="round"/>
<path d="M177.5 509.6h2v2h-2zM183.1 510.3h2v2h-2zM188.7 509.6h2v2h-2zM194.3 507.7h2v2h-2zM199.9 550.8h2v2h-2zM205.5 549.9h2v2h-2zM211.1 549.1h2v2h-2zM216.7 548.1h2v2h-2zM222.2 521.7h2v2h-2zM227.8 519.5h2v2h-2zM233.4 519.5h2v2h-2zM239.0 520.4h2v2h-2zM244.6 552.6h2v2h-2zM250.2 552.6h2v2h-2zM255.8 552.6h2v2h-2zM261.4 553.5h2v2h-2z" fill="#5db53c"/>
<line x1="297.60" y1="495.40" x2="297.60" y2="559.60" stroke="#111" stroke-width="1.3"/>
<line x1="297.00" y1="559.00" x2="392.10" y2="559.00" stroke="#111" stroke-width="1.3"/>
<line x1="294.60" y1="559.00" x2="297.60" y2="559.00" stroke="#111" stroke-width="1.0"/>
<text x="292.10" y="559.00" font-size="6.8" text-anchor="end" font-weight="normal" fill="#222" dominant-baseline="central">0</text>
<line x1="294.60" y1="548.82" x2="297.60" y2="548.82" stroke="#111" stroke-width="1.0"/>
<text x="292.10" y="548.82" font-size="6.8" text-anchor="end" font-weight="normal" fill="#222" dominant-baseline="central">100</text>
<line x1="294.60" y1="538.63" x2="297.60" y2="538.63" stroke="#111" stroke-width="1.0"/>
<text x="292.10" y="538.63" font-size="6.8" text-anchor="end" font-weight="normal" fill="#222" dominant-baseline="central">200</text>
<line x1="294.60" y1="528.45" x2="297.60" y2="528.45" stroke="#111" stroke-width="1.0"/>
<text x="292.10" y="528.45" font-size="6.8" text-anchor="end" font-weight="normal" fill="#222" dominant-baseline="central">300</text>
<line x1="294.60" y1="518.27" x2="297.60" y2="518.27" stroke="#111" stroke-width="1.0"/>
<text x="292.10" y="518.27" font-size="6.8" text-anchor="end" font-weight="normal" fill="#222" dominant-baseline="central">400</text>
<line x1="294.60" y1="508.08" x2="297.60" y2="508.08" stroke="#111" stroke-width="1.0"/>
<text x="292.10" y="508.08" font-size="6.8" text-anchor="end" font-weight="normal" fill="#222" dominant-baseline="central">500</text>
<line x1="294.60" y1="497.90" x2="297.60" y2="497.90" stroke="#111" stroke-width="1.0"/>
<text x="292.10" y="497.90" font-size="6.8" text-anchor="end" font-weight="normal" fill="#222" dominant-baseline="central">600</text>
<line x1="295.60" y1="553.91" x2="297.60" y2="553.91" stroke="#111" stroke-width="0.9"/>
<line x1="295.60" y1="543.73" x2="297.60" y2="543.73" stroke="#111" stroke-width="0.9"/>
<line x1="295.60" y1="533.54" x2="297.60" y2="533.54" stroke="#111" stroke-width="0.9"/>
<line x1="295.60" y1="523.36" x2="297.60" y2="523.36" stroke="#111" stroke-width="0.9"/>
<line x1="295.60" y1="513.17" x2="297.60" y2="513.17" stroke="#111" stroke-width="0.9"/>
<line x1="295.60" y1="502.99" x2="297.60" y2="502.99" stroke="#111" stroke-width="0.9"/>
<line x1="297.60" y1="559.00" x2="297.60" y2="561.50" stroke="#111" stroke-width="1.0"/>
<text x="297.60" y="569.00" font-size="6.8" text-anchor="middle" font-weight="normal" fill="#222" dominant-baseline="central">0</text>
<line x1="307.84" y1="559.00" x2="307.84" y2="561.50" stroke="#111" stroke-width="1.0"/>
<text x="307.84" y="569.00" font-size="6.8" text-anchor="middle" font-weight="normal" fill="#222" dominant-baseline="central">10</text>
<line x1="318.08" y1="559.00" x2="318.08" y2="561.50" stroke="#111" stroke-width="1.0"/>
<text x="318.08" y="569.00" font-size="6.8" text-anchor="middle" font-weight="normal" fill="#222" dominant-baseline="central">20</text>
<line x1="328.32" y1="559.00" x2="328.32" y2="561.50" stroke="#111" stroke-width="1.0"/>
<text x="328.32" y="569.00" font-size="6.8" text-anchor="middle" font-weight="normal" fill="#222" dominant-baseline="central">30</text>
<line x1="338.56" y1="559.00" x2="338.56" y2="561.50" stroke="#111" stroke-width="1.0"/>
<text x="338.56" y="569.00" font-size="6.8" text-anchor="middle" font-weight="normal" fill="#222" dominant-baseline="central">40</text>
<line x1="348.80" y1="559.00" x2="348.80" y2="561.50" stroke="#111" stroke-width="1.0"/>
<text x="348.80" y="569.00" font-size="6.8" text-anchor="middle" font-weight="normal" fill="#222" dominant-baseline="central">50</text>
<line x1="359.04" y1="559.00" x2="359.04" y2="561.50" stroke="#111" stroke-width="1.0"/>
<text x="359.04" y="569.00" font-size="6.8" text-anchor="middle" font-weight="normal" fill="#222" dominant-baseline="central">60</text>
<line x1="369.28" y1="559.00" x2="369.28" y2="561.50" stroke="#111" stroke-width="1.0"/>
<text x="369.28" y="569.00" font-size="6.8" text-anchor="middle" font-weight="normal" fill="#222" dominant-baseline="central">70</text>
<line x1="379.52" y1="559.00" x2="379.52" y2="561.50" stroke="#111" stroke-width="1.0"/>
<text x="379.52" y="569.00" font-size="6.8" text-anchor="middle" font-weight="normal" fill="#222" dominant-baseline="central">80</text>
<line x1="389.76" y1="559.00" x2="389.76" y2="561.50" stroke="#111" stroke-width="1.0"/>
<text x="389.76" y="569.00" font-size="6.8" text-anchor="middle" font-weight="normal" fill="#222" dominant-baseline="central">90</text>
<path d="M296.4 556.7h2.4M297.6 556.7V557.3M296.4 557.3h2.4M302.0 556.9h2.4M303.2 556.9V557.5M302.0 557.5h2.4M307.7 557.2h2.4M308.9 557.2V557.8M307.7 557.8h2.4M313.3 557.2h2.4M314.5 557.2V557.8M313.3 557.8h2.4M318.9 557.7h2.4M320.1 557.7V558.3M318.9 558.3h2.4M324.6 557.7h2.4M325.8 557.7V558.3M324.6 558.3h2.4M330.2 557.7h2.4M331.4 557.7V558.3M330.2 558.3h2.4M335.8 557.7h2.4M337.0 557.7V558.3M335.8 558.3h2.4M341.5 557.7h2.4M342.7 557.7V558.3M341.5 558.3h2.4M347.1 557.7h2.4M348.3 557.7V558.3M347.1 558.3h2.4M352.7 557.7h2.4M353.9 557.7V558.3M352.7 558.3h2.4M358.4 557.7h2.4M359.6 557.7V558.3M358.4 558.3h2.4M364.0 557.4h2.4M365.2 557.4V558.0M364.0 558.0h2.4M369.6 557.4h2.4M370.8 557.4V558.0M369.6 558.0h2.4M375.2 557.4h2.4M376.4 557.4V558.0M375.2 558.0h2.4M380.9 557.4h2.4M382.1 557.4V558.0M380.9 558.0h2.4" stroke="#b0093a" stroke-width="0.9" fill="none"/>
<polyline points="297.6,557.0 303.2,557.2 308.9,557.5 314.5,557.5 320.1,558.0 325.8,558.0 331.4,558.0 337.0,558.0 342.7,558.0 348.3,558.0 353.9,558.0 359.6,558.0 365.2,557.7 370.8,557.7 376.4,557.7 382.1,557.7" fill="none" stroke="#b0093a" stroke-width="1.0" stroke-linejoin="round"/>
<path d="M296.6 556.0h2v2h-2zM302.2 556.2h2v2h-2zM307.9 556.5h2v2h-2zM313.5 556.5h2v2h-2zM319.1 557.0h2v2h-2zM324.8 557.0h2v2h-2zM330.4 557.0h2v2h-2zM336.0 557.0h2v2h-2zM341.7 557.0h2v2h-2zM347.3 557.0h2v2h-2zM352.9 557.0h2v2h-2zM358.6 557.0h2v2h-2zM364.2 556.7h2v2h-2zM369.8 556.7h2v2h-2zM375.4 556.7h2v2h-2zM381.1 556.7h2v2h-2z" fill="#b0093a"/>
<path d="M296.4 548.6h2.4M297.6 548.6V549.8M296.4 549.8h2.4M302.0 548.6h2.4M303.2 548.6V549.8M302.0 549.8h2.4M307.7 548.6h2.4M308.9 548.6V549.8M307.7 549.8h2.4M313.3 548.9h2.4M314.5 548.9V550.1M313.3 550.1h2.4M318.9 554.8h2.4M320.1 554.8V556.0M318.9 556.0h2.4M324.6 555.7h2.4M325.8 555.7V557.0M324.6 557.0h2.4M330.2 555.7h2.4M331.4 555.7V557.0M330.2 557.0h2.4M335.8 555.7h2.4M337.0 555.7V557.0M335.8 557.0h2.4M341.5 552.9h2.4M342.7 552.9V554.1M341.5 554.1h2.4M347.1 552.9h2.4M348.3 552.9V554.1M347.1 554.1h2.4M352.7 553.8h2.4M353.9 553.8V555.0M352.7 555.0h2.4M358.4 554.8h2.4M359.6 554.8V556.0M358.4 556.0h2.4M364.0 556.7h2.4M365.2 556.7V557.9M364.0 557.9h2.4M369.6 556.7h2.4M370.8 556.7V557.9M369.6 557.9h2.4M375.2 556.7h2.4M376.4 556.7V557.9M375.2 557.9h2.4M380.9 556.7h2.4M382.1 556.7V557.9M380.9 557.9h2.4" stroke="#e48a1c" stroke-width="0.9" fill="none"/>
<polyline points="297.6,549.2 303.2,549.2 308.9,549.2 314.5,549.5 320.1,555.4 325.8,556.4 331.4,556.4 337.0,556.4 342.7,553.5 348.3,553.5 353.9,554.4 359.6,555.4 365.2,557.3 370.8,557.3 376.4,557.3 382.1,557.3" fill="none" stroke="#e48a1c" stroke-width="1.0" stroke-linejoin="round"/>
<path d="M296.6 548.2h2v2h-2zM302.2 548.2h2v2h-2zM307.9 548.2h2v2h-2zM313.5 548.5h2v2h-2zM319.1 554.4h2v2h-2zM324.8 555.4h2v2h-2zM330.4 555.4h2v2h-2zM336.0 555.4h2v2h-2zM341.7 552.5h2v2h-2zM347.3 552.5h2v2h-2zM352.9 553.4h2v2h-2zM358.6 554.4h2v2h-2zM364.2 556.3h2v2h-2zM369.8 556.3h2v2h-2zM375.4 556.3h2v2h-2zM381.1 556.3h2v2h-2z" fill="#e48a1c"/>
<path d="M296.4 545.8h2.4M297.6 545.8V547.8M296.4 547.8h2.4M302.0 546.0h2.4M303.2 546.0V548.0M302.0 548.0h2.4M307.7 546.0h2.4M308.9 546.0V548.0M307.7 548.0h2.4M313.3 546.3h2.4M314.5 546.3V548.3M313.3 548.3h2.4M318.9 550.5h2.4M320.1 550.5V552.6M318.9 552.6h2.4M324.6 552.5h2.4M325.8 552.5V554.5M324.6 554.5h2.4M330.2 553.4h2.4M331.4 553.4V555.4M330.2 555.4h2.4M335.8 553.4h2.4M337.0 553.4V555.4M335.8 555.4h2.4M341.5 540.0h2.4M342.7 540.0V542.0M341.5 542.0h2.4M347.1 544.7h2.4M348.3 544.7V546.8M347.1 546.8h2.4M352.7 545.8h2.4M353.9 545.8V547.8M352.7 547.8h2.4M358.4 546.7h2.4M359.6 546.7V548.7M358.4 548.7h2.4M364.0 554.7h2.4M365.2 554.7V556.8M364.0 556.8h2.4M369.6 554.9h2.4M370.8 554.9V557.0M369.6 557.0h2.4M375.2 554.9h2.4M376.4 554.9V557.0M375.2 557.0h2.4M380.9 554.9h2.4M382.1 554.9V557.0M380.9 557.0h2.4" stroke="#2e6b50" stroke-width="0.9" fill="none"/>
<polyline points="297.6,546.8 303.2,547.0 308.9,547.0 314.5,547.3 320.1,551.6 325.8,553.5 331.4,554.4 337.0,554.4 342.7,541.0 348.3,545.8 353.9,546.8 359.6,547.7 365.2,555.7 370.8,555.9 376.4,555.9 382.1,555.9" fill="none" stroke="#2e6b50" stroke-width="1.0" stroke-linejoin="round"/>
<path d="M296.6 545.8h2v2h-2zM302.2 546.0h2v2h-2zM307.9 546.0h2v2h-2zM313.5 546.3h2v2h-2zM319.1 550.6h2v2h-2zM324.8 552.5h2v2h-2zM330.4 553.4h2v2h-2zM336.0 553.4h2v2h-2zM341.7 540.0h2v2h-2zM347.3 544.8h2v2h-2zM352.9 545.8h2v2h-2zM358.6 546.7h2v2h-2zM364.2 554.7h2v2h-2zM369.8 554.9h2v2h-2zM375.4 554.9h2v2h-2zM381.1 554.9h2v2h-2z" fill="#2e6b50"/>
<path d="M296.4 540.4h2.4M297.6 540.4V543.4M296.4 543.4h2.4M302.0 540.7h2.4M303.2 540.7V543.7M302.0 543.7h2.4M307.7 540.7h2.4M308.9 540.7V543.7M307.7 543.7h2.4M313.3 541.2h2.4M314.5 541.2V544.2M313.3 544.2h2.4M318.9 551.0h2.4M320.1 551.0V554.0M318.9 554.0h2.4M324.6 552.9h2.4M325.8 552.9V555.9M324.6 555.9h2.4M330.2 553.9h2.4M331.4 553.9V557.0M330.2 557.0h2.4M335.8 553.9h2.4M337.0 553.9V557.0M335.8 557.0h2.4M341.5 530.8h2.4M342.7 530.8V533.8M341.5 533.8h2.4M347.1 537.5h2.4M348.3 537.5V540.6M347.1 540.6h2.4M352.7 540.4h2.4M353.9 540.4V543.4M352.7 543.4h2.4M358.4 541.4h2.4M359.6 541.4V544.4M358.4 544.4h2.4M364.0 554.2h2.4M365.2 554.2V557.3M364.0 557.3h2.4M369.6 554.4h2.4M370.8 554.4V557.5M369.6 557.5h2.4M375.2 554.4h2.4M376.4 554.4V557.5M375.2 557.5h2.4M380.9 554.4h2.4M382.1 554.4V557.5M380.9 557.5h2.4" stroke="#f2bb1b" stroke-width="0.9" fill="none"/>
<polyline points="297.6,541.9 303.2,542.2 308.9,542.2 314.5,542.7 320.1,552.5 325.8,554.4 331.4,555.4 337.0,555.4 342.7,532.3 348.3,539.0 353.9,541.9 359.6,542.9 365.2,555.7 370.8,555.9 376.4,555.9 382.1,555.9" fill="none" stroke="#f2bb1b" stroke-width="1.0" stroke-linejoin="round"/>
<path d="M296.6 540.9h2v2h-2zM302.2 541.2h2v2h-2zM307.9 541.2h2v2h-2zM313.5 541.7h2v2h-2zM319.1 551.5h2v2h-2zM324.8 553.4h2v2h-2zM330.4 554.4h2v2h-2zM336.0 554.4h2v2h-2zM341.7 531.3h2v2h-2zM347.3 538.0h2v2h-2zM352.9 540.9h2v2h-2zM358.6 541.9h2v2h-2zM364.2 554.7h2v2h-2zM369.8 554.9h2v2h-2zM375.4 554.9h2v2h-2zM381.1 554.9h2v2h-2z" fill="#f2bb1b"/>
<path d="M296.4 542.9h2.4M297.6 542.9V546.0M296.4 546.0h2.4M302.0 542.9h2.4M303.2 542.9V546.0M302.0 546.0h2.4M307.7 542.9h2.4M308.9 542.9V546.0M307.7 546.0h2.4M313.3 542.9h2.4M314.5 542.9V546.0M313.3 546.0h2.4M318.9 549.1h2.4M320.1 549.1V552.2M318.9 552.2h2.4M324.6 551.0h2.4M325.8 551.0V554.0M324.6 554.0h2.4M330.2 552.0h2.4M331.4 552.0V555.0M330.2 555.0h2.4M335.8 552.0h2.4M337.0 552.0V555.0M335.8 555.0h2.4M341.5 525.0h2.4M342.7 525.0V528.0M341.5 528.0h2.4M347.1 531.7h2.4M348.3 531.7V534.8M347.1 534.8h2.4M352.7 534.7h2.4M353.9 534.7V537.7M352.7 537.7h2.4M358.4 535.6h2.4M359.6 535.6V538.6M358.4 538.6h2.4M364.0 552.9h2.4M365.2 552.9V555.9M364.0 555.9h2.4M369.6 553.2h2.4M370.8 553.2V556.3M369.6 556.3h2.4M375.2 553.4h2.4M376.4 553.4V556.5M375.2 556.5h2.4M380.9 553.4h2.4M382.1 553.4V556.5M380.9 556.5h2.4" stroke="#2b59a5" stroke-width="0.9" fill="none"/>
<polyline points="297.6,544.4 303.2,544.4 308.9,544.4 314.5,544.4 320.1,550.6 325.8,552.5 331.4,553.5 337.0,553.5 342.7,526.5 348.3,533.2 353.9,536.2 359.6,537.1 365.2,554.4 370.8,554.7 376.4,554.9 382.1,554.9" fill="none" stroke="#2b59a5" stroke-width="1.0" stroke-linejoin="round"/>
<path d="M296.6 543.4h2v2h-2zM302.2 543.4h2v2h-2zM307.9 543.4h2v2h-2zM313.5 543.4h2v2h-2zM319.1 549.6h2v2h-2zM324.8 551.5h2v2h-2zM330.4 552.5h2v2h-2zM336.0 552.5h2v2h-2zM341.7 525.5h2v2h-2zM347.3 532.2h2v2h-2zM352.9 535.2h2v2h-2zM358.6 536.1h2v2h-2zM364.2 553.4h2v2h-2zM369.8 553.7h2v2h-2zM375.4 553.9h2v2h-2zM381.1 553.9h2v2h-2z" fill="#2b59a5"/>
<path d="M296.4 537.8h2.4M297.6 537.8V542.9M296.4 542.9h2.4M302.0 538.1h2.4M303.2 538.1V543.2M302.0 543.2h2.4M307.7 538.3h2.4M308.9 538.3V543.4M307.7 543.4h2.4M313.3 538.5h2.4M314.5 538.5V543.6M313.3 543.6h2.4M318.9 539.9h2.4M320.1 539.9V546.0M318.9 546.0h2.4M324.6 543.7h2.4M325.8 543.7V549.8M324.6 549.8h2.4M330.2 545.7h2.4M331.4 545.7V551.8M330.2 551.8h2.4M335.8 546.6h2.4M337.0 546.6V552.7M335.8 552.7h2.4M341.5 502.7h2.4M342.7 502.7V531.2M341.5 531.2h2.4M347.1 512.0h2.4M348.3 512.0V537.4M347.1 537.4h2.4M352.7 515.3h2.4M353.9 515.3V539.8M352.7 539.8h2.4M358.4 517.4h2.4M359.6 517.4V539.8M358.4 539.8h2.4M364.0 549.4h2.4M365.2 549.4V555.5M364.0 555.5h2.4M369.6 549.6h2.4M370.8 549.6V555.7M369.6 555.7h2.4M375.2 549.8h2.4M376.4 549.8V555.9M375.2 555.9h2.4M380.9 549.8h2.4M382.1 549.8V555.9M380.9 555.9h2.4" stroke="#5db53c" stroke-width="0.9" fill="none"/>
<polyline points="297.6,540.4 303.2,540.7 308.9,540.9 314.5,541.1 320.1,542.9 325.8,546.8 331.4,548.7 337.0,549.6 342.7,516.9 348.3,524.7 353.9,527.5 359.6,528.6 365.2,552.5 370.8,552.7 376.4,552.9 382.1,552.9" fill="none" stroke="#5db53c" stroke-width="1.0" stroke-linejoin="round"/>
<path d="M296.6 539.4h2v2h-2zM302.2 539.7h2v2h-2zM307.9 539.9h2v2h-2zM313.5 540.1h2v2h-2zM319.1 541.9h2v2h-2zM324.8 545.8h2v2h-2zM330.4 547.7h2v2h-2zM336.0 548.6h2v2h-2zM341.7 515.9h2v2h-2zM347.3 523.7h2v2h-2zM352.9 526.5h2v2h-2zM358.6 527.6h2v2h-2zM364.2 551.5h2v2h-2zM369.8 551.7h2v2h-2zM375.4 551.9h2v2h-2zM381.1 551.9h2v2h-2z" fill="#5db53c"/>
<line x1="417.70" y1="495.40" x2="417.70" y2="559.60" stroke="#111" stroke-width="1.3"/>
<line x1="417.10" y1="559.00" x2="512.20" y2="559.00" stroke="#111" stroke-width="1.3"/>
<line x1="414.70" y1="559.00" x2="417.70" y2="559.00" stroke="#111" stroke-width="1.0"/>
<text x="412.20" y="559.00" font-size="6.8" text-anchor="end" font-weight="normal" fill="#222" dominant-baseline="central">0</text>
<line x1="414.70" y1="548.82" x2="417.70" y2="548.82" stroke="#111" stroke-width="1.0"/>
<text x="412.20" y="548.82" font-size="6.8" text-anchor="end" font-weight="normal" fill="#222" dominant-baseline="central">100</text>
<line x1="414.70" y1="538.63" x2="417.70" y2="538.63" stroke="#111" stroke-width="1.0"/>
<text x="412.20" y="538.63" font-size="6.8" text-anchor="end" font-weight="normal" fill="#222" dominant-baseline="central">200</text>
<line x1="414.70" y1="528.45" x2="417.70" y2="528.45" stroke="#111" stroke-width="1.0"/>
<text x="412.20" y="528.45" font-size="6.8" text-anchor="end" font-weight="normal" fill="#222" dominant-baseline="central">300</text>
<line x1="414.70" y1="518.27" x2="417.70" y2="518.27" stroke="#111" stroke-width="1.0"/>
<text x="412.20" y="518.27" font-size="6.8" text-anchor="end" font-weight="normal" fill="#222" dominant-baseline="central">400</text>
<line x1="414.70" y1="508.08" x2="417.70" y2="508.08" stroke="#111" stroke-width="1.0"/>
<text x="412.20" y="508.08" font-size="6.8" text-anchor="end" font-weight="normal" fill="#222" dominant-baseline="central">500</text>
<line x1="414.70" y1="497.90" x2="417.70" y2="497.90" stroke="#111" stroke-width="1.0"/>
<text x="412.20" y="497.90" font-size="6.8" text-anchor="end" font-weight="normal" fill="#222" dominant-baseline="central">600</text>
<line x1="415.70" y1="553.91" x2="417.70" y2="553.91" stroke="#111" stroke-width="0.9"/>
<line x1="415.70" y1="543.73" x2="417.70" y2="543.73" stroke="#111" stroke-width="0.9"/>
<line x1="415.70" y1="533.54" x2="417.70" y2="533.54" stroke="#111" stroke-width="0.9"/>
<line x1="415.70" y1="523.36" x2="417.70" y2="523.36" stroke="#111" stroke-width="0.9"/>
<line x1="415.70" y1="513.17" x2="417.70" y2="513.17" stroke="#111" stroke-width="0.9"/>
<line x1="415.70" y1="502.99" x2="417.70" y2="502.99" stroke="#111" stroke-width="0.9"/>
<line x1="417.70" y1="559.00" x2="417.70" y2="561.50" stroke="#111" stroke-width="1.0"/>
<text x="417.70" y="569.00" font-size="6.8" text-anchor="middle" font-weight="normal" fill="#222" dominant-baseline="central">0</text>
<line x1="427.87" y1="559.00" x2="427.87" y2="561.50" stroke="#111" stroke-width="1.0"/>
<text x="427.87" y="569.00" font-size="6.8" text-anchor="middle" font-weight="normal" fill="#222" dominant-baseline="central">10</text>
<line x1="438.04" y1="559.00" x2="438.04" y2="561.50" stroke="#111" stroke-width="1.0"/>
<text x="438.04" y="569.00" font-size="6.8" text-anchor="middle" font-weight="normal" fill="#222" dominant-baseline="central">20</text>
<line x1="448.21" y1="559.00" x2="448.21" y2="561.50" stroke="#111" stroke-width="1.0"/>
<text x="448.21" y="569.00" font-size="6.8" text-anchor="middle" font-weight="normal" fill="#222" dominant-baseline="central">30</text>
<line x1="458.38" y1="559.00" x2="458.38" y2="561.50" stroke="#111" stroke-width="1.0"/>
<text x="458.38" y="569.00" font-size="6.8" text-anchor="middle" font-weight="normal" fill="#222" dominant-baseline="central">40</text>
<line x1="468.55" y1="559.00" x2="468.55" y2="561.50" stroke="#111" stroke-width="1.0"/>
<text x="468.55" y="569.00" font-size="6.8" text-anchor="middle" font-weight="normal" fill="#222" dominant-baseline="central">50</text>
<line x1="478.72" y1="559.00" x2="478.72" y2="561.50" stroke="#111" stroke-width="1.0"/>
<text x="478.72" y="569.00" font-size="6.8" text-anchor="middle" font-weight="normal" fill="#222" dominant-baseline="central">60</text>
<line x1="488.89" y1="559.00" x2="488.89" y2="561.50" stroke="#111" stroke-width="1.0"/>
<text x="488.89" y="569.00" font-size="6.8" text-anchor="middle" font-weight="normal" fill="#222" dominant-baseline="central">70</text>
<line x1="499.06" y1="559.00" x2="499.06" y2="561.50" stroke="#111" stroke-width="1.0"/>
<text x="499.06" y="569.00" font-size="6.8" text-anchor="middle" font-weight="normal" fill="#222" dominant-baseline="central">80</text>
<line x1="509.23" y1="559.00" x2="509.23" y2="561.50" stroke="#111" stroke-width="1.0"/>
<text x="509.23" y="569.00" font-size="6.8" text-anchor="middle" font-weight="normal" fill="#222" dominant-baseline="central">90</text>
<path d="M416.5 522.4h2.4M417.7 522.4V525.5M416.5 525.5h2.4M422.1 526.5h2.4M423.3 526.5V529.6M422.1 529.6h2.4M427.7 529.2h2.4M428.9 529.2V532.2M427.7 532.2h2.4M433.3 530.6h2.4M434.5 530.6V533.6M433.3 533.6h2.4M438.9 519.8h2.4M440.1 519.8V522.8M438.9 522.8h2.4M444.5 522.4h2.4M445.7 522.4V525.5M444.5 525.5h2.4M450.1 521.1h2.4M451.3 521.1V524.2M450.1 524.2h2.4M455.7 519.0h2.4M456.9 519.0V522.0M455.7 522.0h2.4M461.2 527.8h2.4M462.4 527.8V530.9M461.2 530.9h2.4M466.8 530.6h2.4M468.0 530.6V533.6M466.8 533.6h2.4M472.4 531.9h2.4M473.6 531.9V535.0M472.4 535.0h2.4M478.0 534.1h2.4M479.2 534.1V537.1M478.0 537.1h2.4M483.6 529.2h2.4M484.8 529.2V532.2M483.6 532.2h2.4M489.2 534.6h2.4M490.4 534.6V537.6M489.2 537.6h2.4M494.8 536.0h2.4M496.0 536.0V539.0M494.8 539.0h2.4M500.4 537.3h2.4M501.6 537.3V540.4M500.4 540.4h2.4" stroke="#5db53c" stroke-width="0.9" fill="none"/>
<polyline points="417.7,524.0 423.3,528.0 428.9,530.7 434.5,532.1 440.1,521.3 445.7,524.0 451.3,522.6 456.9,520.5 462.4,529.4 468.0,532.1 473.6,533.4 479.2,535.6 484.8,530.7 490.4,536.1 496.0,537.5 501.6,538.8" fill="none" stroke="#5db53c" stroke-width="1.0" stroke-linejoin="round"/>
<path d="M416.7 523.0h2v2h-2zM422.3 527.0h2v2h-2zM427.9 529.7h2v2h-2zM433.5 531.1h2v2h-2zM439.1 520.3h2v2h-2zM444.7 523.0h2v2h-2zM450.3 521.6h2v2h-2zM455.9 519.5h2v2h-2zM461.4 528.4h2v2h-2zM467.0 531.1h2v2h-2zM472.6 532.4h2v2h-2zM478.2 534.6h2v2h-2zM483.8 529.7h2v2h-2zM489.4 535.1h2v2h-2zM495.0 536.5h2v2h-2zM500.6 537.8h2v2h-2z" fill="#5db53c"/>
<path d="M416.5 513.9h2.4M417.7 513.9V518.0M416.5 518.0h2.4M422.1 518.0h2.4M423.3 518.0V522.0M422.1 522.0h2.4M427.7 521.9h2.4M428.9 521.9V526.0M427.7 526.0h2.4M433.3 526.0h2.4M434.5 526.0V530.1M433.3 530.1h2.4M438.9 520.6h2.4M440.1 520.6V524.7M438.9 524.7h2.4M444.5 521.9h2.4M445.7 521.9V526.0M444.5 526.0h2.4M450.1 521.1h2.4M451.3 521.1V525.2M450.1 525.2h2.4M455.7 518.0h2.4M456.9 518.0V522.0M455.7 522.0h2.4M461.2 527.3h2.4M462.4 527.3V531.4M461.2 531.4h2.4M466.8 530.1h2.4M468.0 530.1V534.2M466.8 534.2h2.4M472.4 531.9h2.4M473.6 531.9V536.0M472.4 536.0h2.4M478.0 533.5h2.4M479.2 533.5V537.6M478.0 537.6h2.4M483.6 526.0h2.4M484.8 526.0V530.1M483.6 530.1h2.4M489.2 528.7h2.4M490.4 528.7V532.7M489.2 532.7h2.4M494.8 530.1h2.4M496.0 530.1V534.2M494.8 534.2h2.4M500.4 538.1h2.4M501.6 538.1V542.2M500.4 542.2h2.4" stroke="#2e6b50" stroke-width="0.9" fill="none"/>
<polyline points="417.7,515.9 423.3,520.0 428.9,524.0 434.5,528.0 440.1,522.6 445.7,524.0 451.3,523.2 456.9,520.0 462.4,529.4 468.0,532.1 473.6,533.9 479.2,535.6 484.8,528.0 490.4,530.7 496.0,532.1 501.6,540.2" fill="none" stroke="#2e6b50" stroke-width="1.0" stroke-linejoin="round"/>
<path d="M416.7 514.9h2v2h-2zM422.3 519.0h2v2h-2zM427.9 523.0h2v2h-2zM433.5 527.0h2v2h-2zM439.1 521.6h2v2h-2zM444.7 523.0h2v2h-2zM450.3 522.2h2v2h-2zM455.9 519.0h2v2h-2zM461.4 528.4h2v2h-2zM467.0 531.1h2v2h-2zM472.6 532.9h2v2h-2zM478.2 534.6h2v2h-2zM483.8 527.0h2v2h-2zM489.4 529.7h2v2h-2zM495.0 531.1h2v2h-2zM500.6 539.2h2v2h-2z" fill="#2e6b50"/>
<path d="M416.5 518.5h2.4M417.7 518.5V521.5M416.5 521.5h2.4M422.1 519.8h2.4M423.3 519.8V522.8M422.1 522.8h2.4M427.7 522.4h2.4M428.9 522.4V525.5M427.7 525.5h2.4M433.3 523.9h2.4M434.5 523.9V526.9M433.3 526.9h2.4M438.9 520.6h2.4M440.1 520.6V524.7M438.9 524.7h2.4M444.5 526.0h2.4M445.7 526.0V530.1M444.5 530.1h2.4M450.1 524.7h2.4M451.3 524.7V528.8M450.1 528.8h2.4M455.7 520.6h2.4M456.9 520.6V524.7M455.7 524.7h2.4M461.2 528.7h2.4M462.4 528.7V531.7M461.2 531.7h2.4M466.8 531.9h2.4M468.0 531.9V535.0M466.8 535.0h2.4M472.4 533.2h2.4M473.6 533.2V536.3M472.4 536.3h2.4M478.0 534.6h2.4M479.2 534.6V537.6M478.0 537.6h2.4M483.6 531.9h2.4M484.8 531.9V535.0M483.6 535.0h2.4M489.2 528.1h2.4M490.4 528.1V533.2M489.2 533.2h2.4M494.8 519.6h2.4M496.0 519.6V533.8M494.8 533.8h2.4M500.4 519.6h2.4M501.6 519.6V533.8M500.4 533.8h2.4" stroke="#2b59a5" stroke-width="0.9" fill="none"/>
<polyline points="417.7,520.0 423.3,521.3 428.9,524.0 434.5,525.4 440.1,522.6 445.7,528.0 451.3,526.7 456.9,522.6 462.4,530.2 468.0,533.4 473.6,534.8 479.2,536.1 484.8,533.4 490.4,530.7 496.0,526.7 501.6,526.7" fill="none" stroke="#2b59a5" stroke-width="1.0" stroke-linejoin="round"/>
<path d="M416.7 519.0h2v2h-2zM422.3 520.3h2v2h-2zM427.9 523.0h2v2h-2zM433.5 524.4h2v2h-2zM439.1 521.6h2v2h-2zM444.7 527.0h2v2h-2zM450.3 525.7h2v2h-2zM455.9 521.6h2v2h-2zM461.4 529.2h2v2h-2zM467.0 532.4h2v2h-2zM472.6 533.8h2v2h-2zM478.2 535.1h2v2h-2zM483.8 532.4h2v2h-2zM489.4 529.7h2v2h-2zM495.0 525.7h2v2h-2zM500.6 525.7h2v2h-2z" fill="#2b59a5"/>
<path d="M416.5 519.0h2.4M417.7 519.0V522.0M416.5 522.0h2.4M422.1 521.6h2.4M423.3 521.6V524.7M422.1 524.7h2.4M427.7 524.4h2.4M428.9 524.4V527.4M427.7 527.4h2.4M433.3 526.5h2.4M434.5 526.5V529.6M433.3 529.6h2.4M438.9 522.4h2.4M440.1 522.4V525.5M438.9 525.5h2.4M444.5 521.1h2.4M445.7 521.1V524.2M444.5 524.2h2.4M450.1 520.6h2.4M451.3 520.6V523.7M450.1 523.7h2.4M455.7 519.8h2.4M456.9 519.8V522.8M455.7 522.8h2.4M461.2 526.5h2.4M462.4 526.5V529.6M461.2 529.6h2.4M466.8 529.2h2.4M468.0 529.2V532.2M466.8 532.2h2.4M472.4 530.6h2.4M473.6 530.6V533.6M472.4 533.6h2.4M478.0 532.4h2.4M479.2 532.4V535.5M478.0 535.5h2.4M483.6 527.8h2.4M484.8 527.8V530.9M483.6 530.9h2.4M489.2 530.6h2.4M490.4 530.6V533.6M489.2 533.6h2.4M494.8 534.1h2.4M496.0 534.1V537.1M494.8 537.1h2.4M500.4 540.0h2.4M501.6 540.0V543.0M500.4 543.0h2.4" stroke="#f2bb1b" stroke-width="0.9" fill="none"/>
<polyline points="417.7,520.5 423.3,523.2 428.9,525.9 434.5,528.0 440.1,524.0 445.7,522.6 451.3,522.1 456.9,521.3 462.4,528.0 468.0,530.7 473.6,532.1 479.2,533.9 484.8,529.4 490.4,532.1 496.0,535.6 501.6,541.5" fill="none" stroke="#f2bb1b" stroke-width="1.0" stroke-linejoin="round"/>
<path d="M416.7 519.5h2v2h-2zM422.3 522.2h2v2h-2zM427.9 524.9h2v2h-2zM433.5 527.0h2v2h-2zM439.1 523.0h2v2h-2zM444.7 521.6h2v2h-2zM450.3 521.1h2v2h-2zM455.9 520.3h2v2h-2zM461.4 527.0h2v2h-2zM467.0 529.7h2v2h-2zM472.6 531.1h2v2h-2zM478.2 532.9h2v2h-2zM483.8 528.4h2v2h-2zM489.4 531.1h2v2h-2zM495.0 534.6h2v2h-2zM500.6 540.5h2v2h-2z" fill="#f2bb1b"/>
<path d="M416.5 517.9h2.4M417.7 517.9V520.9M416.5 520.9h2.4M422.1 519.8h2.4M423.3 519.8V522.8M422.1 522.8h2.4M427.7 521.1h2.4M428.9 521.1V524.2M427.7 524.2h2.4M433.3 522.4h2.4M434.5 522.4V525.5M433.3 525.5h2.4M438.9 519.8h2.4M440.1 519.8V522.8M438.9 522.8h2.4M444.5 521.1h2.4M445.7 521.1V524.2M444.5 524.2h2.4M450.1 520.6h2.4M451.3 520.6V523.7M450.1 523.7h2.4M455.7 519.8h2.4M456.9 519.8V522.8M455.7 522.8h2.4M461.2 526.5h2.4M462.4 526.5V529.6M461.2 529.6h2.4M466.8 527.8h2.4M468.0 527.8V530.9M466.8 530.9h2.4M472.4 528.7h2.4M473.6 528.7V531.7M472.4 531.7h2.4M478.0 528.7h2.4M479.2 528.7V531.7M478.0 531.7h2.4M483.6 523.9h2.4M484.8 523.9V526.9M483.6 526.9h2.4M489.2 527.0h2.4M490.4 527.0V530.1M489.2 530.1h2.4M494.8 529.2h2.4M496.0 529.2V532.2M494.8 532.2h2.4M500.4 534.6h2.4M501.6 534.6V537.6M500.4 537.6h2.4" stroke="#b0093a" stroke-width="0.9" fill="none"/>
<polyline points="417.7,519.4 423.3,521.3 428.9,522.6 434.5,524.0 440.1,521.3 445.7,522.6 451.3,522.1 456.9,521.3 462.4,528.0 468.0,529.4 473.6,530.2 479.2,530.2 484.8,525.4 490.4,528.6 496.0,530.7 501.6,536.1" fill="none" stroke="#b0093a" stroke-width="1.0" stroke-linejoin="round"/>
<path d="M416.7 518.4h2v2h-2zM422.3 520.3h2v2h-2zM427.9 521.6h2v2h-2zM433.5 523.0h2v2h-2zM439.1 520.3h2v2h-2zM444.7 521.6h2v2h-2zM450.3 521.1h2v2h-2zM455.9 520.3h2v2h-2zM461.4 527.0h2v2h-2zM467.0 528.4h2v2h-2zM472.6 529.2h2v2h-2zM478.2 529.2h2v2h-2zM483.8 524.4h2v2h-2zM489.4 527.6h2v2h-2zM495.0 529.7h2v2h-2zM500.6 535.1h2v2h-2z" fill="#b0093a"/>
<path d="M416.5 501.0h2.4M417.7 501.0V513.2M416.5 513.2h2.4M422.1 504.4h2.4M423.3 504.4V516.6M422.1 516.6h2.4M427.7 508.0h2.4M428.9 508.0V520.2M427.7 520.2h2.4M433.3 511.7h2.4M434.5 511.7V524.0M433.3 524.0h2.4M438.9 525.5h2.4M440.1 525.5V530.6M438.9 530.6h2.4M444.5 526.5h2.4M445.7 526.5V530.6M444.5 530.6h2.4M450.1 527.3h2.4M451.3 527.3V531.4M450.1 531.4h2.4M455.7 526.0h2.4M456.9 526.0V530.1M455.7 530.1h2.4M461.2 512.6h2.4M462.4 512.6V515.6M461.2 515.6h2.4M466.8 521.1h2.4M468.0 521.1V523.2M466.8 523.2h2.4M472.4 523.9h2.4M473.6 523.9V526.9M472.4 526.9h2.4M478.0 526.0h2.4M479.2 526.0V529.1M478.0 529.1h2.4M483.6 529.2h2.4M484.8 529.2V532.2M483.6 532.2h2.4M489.2 531.9h2.4M490.4 531.9V535.0M489.2 535.0h2.4M494.8 536.0h2.4M496.0 536.0V539.0M494.8 539.0h2.4M500.4 542.7h2.4M501.6 542.7V545.8M500.4 545.8h2.4" stroke="#e48a1c" stroke-width="0.9" fill="none"/>
<polyline points="417.7,507.1 423.3,510.5 428.9,514.1 434.5,517.9 440.1,528.0 445.7,528.6 451.3,529.4 456.9,528.0 462.4,514.1 468.0,522.1 473.6,525.4 479.2,527.5 484.8,530.7 490.4,533.4 496.0,537.5 501.6,544.2" fill="none" stroke="#e48a1c" stroke-width="1.0" stroke-linejoin="round"/>
<path d="M416.7 506.1h2v2h-2zM422.3 509.5h2v2h-2zM427.9 513.1h2v2h-2zM433.5 516.9h2v2h-2zM439.1 527.0h2v2h-2zM444.7 527.6h2v2h-2zM450.3 528.4h2v2h-2zM455.9 527.0h2v2h-2zM461.4 513.1h2v2h-2zM467.0 521.1h2v2h-2zM472.6 524.4h2v2h-2zM478.2 526.5h2v2h-2zM483.8 529.7h2v2h-2zM489.4 532.4h2v2h-2zM495.0 536.5h2v2h-2zM500.6 543.2h2v2h-2z" fill="#e48a1c"/>
<line x1="77.30" y1="496.30" x2="77.30" y2="510.00" stroke="#000" stroke-width="1.25"/>
<path d="M74.80,508.90 L79.80,508.90 L77.30,514.50 Z" fill="#000"/>
<line x1="100.70" y1="494.60" x2="100.70" y2="505.70" stroke="#000" stroke-width="1.25"/>
<path d="M98.20,504.60 L103.20,504.60 L100.70,510.20 Z" fill="#000"/>
<line x1="121.40" y1="492.90" x2="121.40" y2="502.50" stroke="#000" stroke-width="1.25"/>
<path d="M118.90,501.40 L123.90,501.40 L121.40,507.00 Z" fill="#000"/>
<line x1="196.50" y1="493.00" x2="196.50" y2="502.00" stroke="#000" stroke-width="1.25"/>
<path d="M194.00,500.90 L199.00,500.90 L196.50,506.50 Z" fill="#000"/>
<line x1="222.00" y1="501.00" x2="222.00" y2="508.80" stroke="#000" stroke-width="1.25"/>
<path d="M219.50,507.70 L224.50,507.70 L222.00,513.30 Z" fill="#000"/>
<line x1="240.40" y1="494.00" x2="240.40" y2="503.50" stroke="#000" stroke-width="1.25"/>
<path d="M237.90,502.40 L242.90,502.40 L240.40,508.00 Z" fill="#000"/>
<line x1="315.70" y1="510.60" x2="315.70" y2="524.10" stroke="#000" stroke-width="1.25"/>
<path d="M313.20,523.00 L318.20,523.00 L315.70,528.60 Z" fill="#000"/>
<line x1="342.10" y1="490.40" x2="342.10" y2="497.20" stroke="#000" stroke-width="1.25"/>
<path d="M339.60,496.10 L344.60,496.10 L342.10,501.70 Z" fill="#000"/>
<line x1="360.20" y1="499.80" x2="360.20" y2="510.10" stroke="#000" stroke-width="1.25"/>
<path d="M357.70,509.00 L362.70,509.00 L360.20,514.60 Z" fill="#000"/>
<line x1="435.20" y1="487.70" x2="435.20" y2="501.50" stroke="#000" stroke-width="1.25"/>
<path d="M432.70,500.40 L437.70,500.40 L435.20,506.00 Z" fill="#000"/>
<line x1="456.70" y1="498.50" x2="456.70" y2="510.10" stroke="#000" stroke-width="1.25"/>
<path d="M454.20,509.00 L459.20,509.00 L456.70,514.60 Z" fill="#000"/>
<line x1="479.60" y1="501.20" x2="479.60" y2="510.10" stroke="#000" stroke-width="1.25"/>
<path d="M477.10,509.00 L482.10,509.00 L479.60,514.60 Z" fill="#000"/>
<text x="74.79" y="493.07" font-size="7.9" text-anchor="start" font-weight="normal" fill="#222" dominant-baseline="central" transform="rotate(-43.68 74.79 493.07)" textLength="18.39" lengthAdjust="spacingAndGlyphs">Oligo</text>
<text x="97.35" y="490.70" font-size="7.9" text-anchor="start" font-weight="normal" fill="#222" dominant-baseline="central" transform="rotate(-48.79 97.35 490.70)" textLength="19.28" lengthAdjust="spacingAndGlyphs">FCCP</text>
<text x="119.18" y="488.47" font-size="7.9" text-anchor="start" font-weight="normal" fill="#222" dominant-baseline="central" transform="rotate(-44.45 119.18 488.47)" textLength="29.42" lengthAdjust="spacingAndGlyphs">Rotenone</text>
<text x="193.39" y="489.96" font-size="7.9" text-anchor="start" font-weight="normal" fill="#222" dominant-baseline="central" transform="rotate(-43.34 193.39 489.96)" textLength="19.52" lengthAdjust="spacingAndGlyphs">Oligo</text>
<text x="218.92" y="496.63" font-size="7.9" text-anchor="start" font-weight="normal" fill="#222" dominant-baseline="central" transform="rotate(-52.51 218.92 496.63)" textLength="16.76" lengthAdjust="spacingAndGlyphs">FCCP</text>
<text x="237.80" y="489.95" font-size="7.9" text-anchor="start" font-weight="normal" fill="#222" dominant-baseline="central" transform="rotate(-42.04 237.80 489.95)" textLength="30.16" lengthAdjust="spacingAndGlyphs">Rotenone</text>
<text x="312.88" y="507.47" font-size="7.9" text-anchor="start" font-weight="normal" fill="#222" dominant-baseline="central" transform="rotate(-43.96 312.88 507.47)" textLength="19.45" lengthAdjust="spacingAndGlyphs">Oligo</text>
<text x="338.94" y="487.32" font-size="7.9" text-anchor="start" font-weight="normal" fill="#222" dominant-baseline="central" transform="rotate(-50.73 338.94 487.32)" textLength="19.12" lengthAdjust="spacingAndGlyphs">FCCP</text>
<text x="357.88" y="496.57" font-size="7.9" text-anchor="start" font-weight="normal" fill="#222" dominant-baseline="central" transform="rotate(-44.87 357.88 496.57)" textLength="30.33" lengthAdjust="spacingAndGlyphs">Rotenone</text>
<text x="432.11" y="484.54" font-size="7.9" text-anchor="start" font-weight="normal" fill="#222" dominant-baseline="central" transform="rotate(-40.24 432.11 484.54)" textLength="18.73" lengthAdjust="spacingAndGlyphs">Oligo</text>
<text x="453.56" y="493.99" font-size="7.9" text-anchor="start" font-weight="normal" fill="#222" dominant-baseline="central" transform="rotate(-46.54 453.56 493.99)" textLength="18.46" lengthAdjust="spacingAndGlyphs">FCCP</text>
<text x="476.60" y="496.55" font-size="7.9" text-anchor="start" font-weight="normal" fill="#222" dominant-baseline="central" transform="rotate(-41.26 476.60 496.55)" textLength="30.33" lengthAdjust="spacingAndGlyphs">Rotenone</text>
<text x="106.75" y="581.20" font-size="10.5" text-anchor="middle" font-weight="normal" fill="#222" dominant-baseline="central" textLength="52.5" lengthAdjust="spacingAndGlyphs" stroke="#222" stroke-width="0.2">Time (minutes)</text>
<text x="33.00" y="526.80" font-size="9.4" text-anchor="middle" font-weight="normal" fill="#222" dominant-baseline="central" transform="rotate(-90 33.00 526.80)" textLength="66" lengthAdjust="spacingAndGlyphs">OCR (pmoles/min)</text>
<text x="10.00" y="596.20" font-size="11.8" text-anchor="start" font-weight="bold" fill="#000" dominant-baseline="central" textLength="6.5" lengthAdjust="spacingAndGlyphs" stroke="#000" stroke-width="0.3">E</text>
<text x="87.50" y="593.80" font-size="7.2" text-anchor="middle" font-weight="normal" fill="#222" dominant-baseline="central" textLength="74" lengthAdjust="spacingAndGlyphs">Reactive oxygen species</text>
<text x="87.50" y="602.20" font-size="7.2" text-anchor="middle" font-weight="normal" fill="#222" dominant-baseline="central" textLength="44" lengthAdjust="spacingAndGlyphs">levels in SET2</text>
<line x1="62.50" y1="618.75" x2="84.50" y2="618.75" stroke="#5c5c5c" stroke-width="1.25"/>
<path d="M70.55 616.05a0.9 0.9 0 1 0 1.8 0a0.9 0.9 0 1 0 -1.8 0M73.65 616.05a0.9 0.9 0 1 0 1.8 0a0.9 0.9 0 1 0 -1.8 0" fill="#222"/>
<line x1="86.25" y1="620.00" x2="99.50" y2="620.00" stroke="#5c5c5c" stroke-width="1.25"/>
<path d="M90.05 617.30a0.9 0.9 0 1 0 1.8 0a0.9 0.9 0 1 0 -1.8 0M93.15 617.30a0.9 0.9 0 1 0 1.8 0a0.9 0.9 0 1 0 -1.8 0" fill="#222"/>
<line x1="88.75" y1="623.00" x2="111.25" y2="623.00" stroke="#5c5c5c" stroke-width="1.25"/>
<path d="M103.80 620.30a0.9 0.9 0 1 0 1.8 0a0.9 0.9 0 1 0 -1.8 0M106.90 620.30a0.9 0.9 0 1 0 1.8 0a0.9 0.9 0 1 0 -1.8 0" fill="#222"/>
<rect x="64.20" y="658.30" width="6.70" height="29.70" fill="#5dae3d"/>
<line x1="67.55" y1="658.30" x2="67.55" y2="656.22" stroke="#333" stroke-width="1.0"/>
<line x1="65.95" y1="656.22" x2="69.15" y2="656.22" stroke="#333" stroke-width="1.0"/>
<rect x="72.15" y="662.16" width="6.70" height="25.84" fill="#264f88"/>
<line x1="75.50" y1="662.16" x2="75.50" y2="660.68" stroke="#333" stroke-width="1.0"/>
<line x1="73.90" y1="660.68" x2="77.10" y2="660.68" stroke="#333" stroke-width="1.0"/>
<rect x="80.10" y="625.63" width="6.70" height="62.37" fill="#e08a1a"/>
<line x1="83.45" y1="625.63" x2="83.45" y2="623.25" stroke="#333" stroke-width="1.0"/>
<line x1="81.85" y1="623.25" x2="85.05" y2="623.25" stroke="#333" stroke-width="1.0"/>
<rect x="88.05" y="645.83" width="6.70" height="42.17" fill="#b2c58b"/>
<line x1="91.40" y1="645.83" x2="91.40" y2="642.86" stroke="#333" stroke-width="1.0"/>
<line x1="89.80" y1="642.86" x2="93.00" y2="642.86" stroke="#333" stroke-width="1.0"/>
<rect x="96.00" y="643.45" width="6.70" height="44.55" fill="#4f2870"/>
<line x1="99.35" y1="643.45" x2="99.35" y2="641.07" stroke="#333" stroke-width="1.0"/>
<line x1="97.75" y1="641.07" x2="100.95" y2="641.07" stroke="#333" stroke-width="1.0"/>
<rect x="103.95" y="652.95" width="6.70" height="35.05" fill="#5fa9e2"/>
<line x1="107.30" y1="652.95" x2="107.30" y2="647.90" stroke="#333" stroke-width="1.0"/>
<line x1="105.70" y1="647.90" x2="108.90" y2="647.90" stroke="#333" stroke-width="1.0"/>
<line x1="59.50" y1="610.55" x2="59.50" y2="688.60" stroke="#111" stroke-width="1.3"/>
<line x1="58.90" y1="688.00" x2="113.75" y2="688.00" stroke="#111" stroke-width="1.3"/>
<line x1="56.50" y1="688.00" x2="59.50" y2="688.00" stroke="#111" stroke-width="1.0"/>
<line x1="56.50" y1="673.15" x2="59.50" y2="673.15" stroke="#111" stroke-width="1.0"/>
<line x1="56.50" y1="658.30" x2="59.50" y2="658.30" stroke="#111" stroke-width="1.0"/>
<line x1="56.50" y1="643.45" x2="59.50" y2="643.45" stroke="#111" stroke-width="1.0"/>
<line x1="56.50" y1="628.60" x2="59.50" y2="628.60" stroke="#111" stroke-width="1.0"/>
<line x1="56.50" y1="613.75" x2="59.50" y2="613.75" stroke="#111" stroke-width="1.0"/>
<text x="53.40" y="688.00" font-size="7.0" text-anchor="end" font-weight="normal" fill="#222" dominant-baseline="central">0.0</text>
<text x="53.40" y="673.15" font-size="7.0" text-anchor="end" font-weight="normal" fill="#222" dominant-baseline="central">0.5</text>
<text x="53.40" y="658.30" font-size="7.0" text-anchor="end" font-weight="normal" fill="#222" dominant-baseline="central">1.0</text>
<text x="53.40" y="643.45" font-size="7.0" text-anchor="end" font-weight="normal" fill="#222" dominant-baseline="central">1.5</text>
<text x="53.40" y="628.60" font-size="7.0" text-anchor="end" font-weight="normal" fill="#222" dominant-baseline="central">2.0</text>
<text x="53.40" y="613.75" font-size="7.0" text-anchor="end" font-weight="normal" fill="#222" dominant-baseline="central">2.5</text>
<line x1="67.55" y1="688.00" x2="67.55" y2="691.00" stroke="#111" stroke-width="1.1"/>
<line x1="75.50" y1="688.00" x2="75.50" y2="691.00" stroke="#111" stroke-width="1.1"/>
<line x1="83.45" y1="688.00" x2="83.45" y2="691.00" stroke="#111" stroke-width="1.1"/>
<line x1="91.40" y1="688.00" x2="91.40" y2="691.00" stroke="#111" stroke-width="1.1"/>
<line x1="99.35" y1="688.00" x2="99.35" y2="691.00" stroke="#111" stroke-width="1.1"/>
<line x1="107.30" y1="688.00" x2="107.30" y2="691.00" stroke="#111" stroke-width="1.1"/>
<text x="67.55" y="697.50" font-size="6.6" text-anchor="middle" font-weight="normal" fill="#333" dominant-baseline="central">-</text>
<text x="67.55" y="708.50" font-size="6.6" text-anchor="middle" font-weight="normal" fill="#333" dominant-baseline="central">-</text>
<text x="67.55" y="718.30" font-size="6.6" text-anchor="middle" font-weight="normal" fill="#333" dominant-baseline="central">-</text>
<text x="75.50" y="697.50" font-size="6.6" text-anchor="middle" font-weight="normal" fill="#333" dominant-baseline="central">-</text>
<text x="75.50" y="708.50" font-size="6.6" text-anchor="middle" font-weight="normal" fill="#333" dominant-baseline="central">+</text>
<text x="75.50" y="718.30" font-size="6.6" text-anchor="middle" font-weight="normal" fill="#333" dominant-baseline="central">-</text>
<text x="83.45" y="697.50" font-size="6.6" text-anchor="middle" font-weight="normal" fill="#333" dominant-baseline="central">+</text>
<text x="83.45" y="708.50" font-size="6.6" text-anchor="middle" font-weight="normal" fill="#333" dominant-baseline="central">-</text>
<text x="83.45" y="718.30" font-size="6.6" text-anchor="middle" font-weight="normal" fill="#333" dominant-baseline="central">-</text>
<text x="91.40" y="697.50" font-size="6.6" text-anchor="middle" font-weight="normal" fill="#333" dominant-baseline="central">+</text>
<text x="91.40" y="708.50" font-size="6.6" text-anchor="middle" font-weight="normal" fill="#333" dominant-baseline="central">-</text>
<text x="91.40" y="718.30" font-size="6.6" text-anchor="middle" font-weight="normal" fill="#333" dominant-baseline="central">+</text>
<text x="99.35" y="697.50" font-size="6.6" text-anchor="middle" font-weight="normal" fill="#333" dominant-baseline="central">+</text>
<text x="99.35" y="708.50" font-size="6.6" text-anchor="middle" font-weight="normal" fill="#333" dominant-baseline="central">+</text>
<text x="99.35" y="718.30" font-size="6.6" text-anchor="middle" font-weight="normal" fill="#333" dominant-baseline="central">-</text>
<text x="107.30" y="697.50" font-size="6.6" text-anchor="middle" font-weight="normal" fill="#333" dominant-baseline="central">+</text>
<text x="107.30" y="708.50" font-size="6.6" text-anchor="middle" font-weight="normal" fill="#333" dominant-baseline="central">+</text>
<text x="107.30" y="718.30" font-size="6.6" text-anchor="middle" font-weight="normal" fill="#333" dominant-baseline="central">+</text>
<text x="25.00" y="650.00" font-size="9.2" text-anchor="middle" font-weight="normal" fill="#222" dominant-baseline="central" transform="rotate(-90 25.00 650.00)" textLength="50" lengthAdjust="spacingAndGlyphs">ROS levels (MFI)</text>
<text x="36.25" y="649.50" font-size="9.2" text-anchor="middle" font-weight="normal" fill="#222" dominant-baseline="central" transform="rotate(-90 36.25 649.50)" textLength="76" lengthAdjust="spacingAndGlyphs">normalized to untreated</text>
<text x="132.00" y="596.20" font-size="11.8" text-anchor="start" font-weight="bold" fill="#000" dominant-baseline="central" textLength="6.75" lengthAdjust="spacingAndGlyphs" stroke="#000" stroke-width="0.3">F</text>
<text x="188.75" y="593.80" font-size="7.2" text-anchor="middle" font-weight="normal" fill="#222" dominant-baseline="central" textLength="52" lengthAdjust="spacingAndGlyphs">Apoptosis rate in</text>
<text x="188.75" y="602.20" font-size="7.2" text-anchor="middle" font-weight="normal" fill="#222" dominant-baseline="central" textLength="30.5" lengthAdjust="spacingAndGlyphs">SET2 cells</text>
<line x1="163.75" y1="623.00" x2="207.00" y2="623.00" stroke="#5c5c5c" stroke-width="1.25"/>
<path d="M181.50 620.30a0.9 0.9 0 1 0 1.8 0a0.9 0.9 0 1 0 -1.8 0M184.60 620.30a0.9 0.9 0 1 0 1.8 0a0.9 0.9 0 1 0 -1.8 0M187.70 620.30a0.9 0.9 0 1 0 1.8 0a0.9 0.9 0 1 0 -1.8 0" fill="#222"/>
<line x1="163.75" y1="632.00" x2="181.25" y2="632.00" stroke="#5c5c5c" stroke-width="1.25"/>
<path d="M173.05 629.30a0.9 0.9 0 1 0 1.8 0a0.9 0.9 0 1 0 -1.8 0M176.15 629.30a0.9 0.9 0 1 0 1.8 0a0.9 0.9 0 1 0 -1.8 0" fill="#222"/>
<line x1="200.00" y1="633.00" x2="216.25" y2="633.00" stroke="#5c5c5c" stroke-width="1.25"/>
<path d="M204.00 630.30a0.9 0.9 0 1 0 1.8 0a0.9 0.9 0 1 0 -1.8 0M207.10 630.30a0.9 0.9 0 1 0 1.8 0a0.9 0.9 0 1 0 -1.8 0M210.20 630.30a0.9 0.9 0 1 0 1.8 0a0.9 0.9 0 1 0 -1.8 0" fill="#222"/>
<line x1="163.75" y1="639.50" x2="178.75" y2="639.50" stroke="#5c5c5c" stroke-width="1.25"/>
<path d="M170.35 636.80a0.9 0.9 0 1 0 1.8 0a0.9 0.9 0 1 0 -1.8 0" fill="#222"/>
<line x1="182.50" y1="640.50" x2="195.00" y2="640.50" stroke="#5c5c5c" stroke-width="1.25"/>
<path d="M184.75 637.80a0.9 0.9 0 1 0 1.8 0a0.9 0.9 0 1 0 -1.8 0M187.85 637.80a0.9 0.9 0 1 0 1.8 0a0.9 0.9 0 1 0 -1.8 0M190.95 637.80a0.9 0.9 0 1 0 1.8 0a0.9 0.9 0 1 0 -1.8 0" fill="#222"/>
<rect x="165.95" y="685.83" width="6.50" height="2.17" fill="#5dae3d"/>
<line x1="169.20" y1="685.83" x2="169.20" y2="685.11" stroke="#333" stroke-width="1.0"/>
<line x1="167.60" y1="685.11" x2="170.80" y2="685.11" stroke="#333" stroke-width="1.0"/>
<rect x="173.80" y="682.94" width="6.50" height="5.06" fill="#264f88"/>
<line x1="177.05" y1="682.94" x2="177.05" y2="682.58" stroke="#333" stroke-width="1.0"/>
<line x1="175.45" y1="682.58" x2="178.65" y2="682.58" stroke="#333" stroke-width="1.0"/>
<rect x="181.65" y="647.54" width="6.50" height="40.46" fill="#e08a1a"/>
<line x1="184.90" y1="647.54" x2="184.90" y2="643.21" stroke="#333" stroke-width="1.0"/>
<line x1="183.30" y1="643.21" x2="186.50" y2="643.21" stroke="#333" stroke-width="1.0"/>
<rect x="189.50" y="685.83" width="6.50" height="2.17" fill="#b2c58b"/>
<line x1="192.75" y1="685.83" x2="192.75" y2="685.11" stroke="#333" stroke-width="1.0"/>
<line x1="191.15" y1="685.11" x2="194.35" y2="685.11" stroke="#333" stroke-width="1.0"/>
<rect x="197.35" y="641.76" width="6.50" height="46.24" fill="#4f2870"/>
<line x1="200.60" y1="641.76" x2="200.60" y2="635.26" stroke="#333" stroke-width="1.0"/>
<line x1="199.00" y1="635.26" x2="202.20" y2="635.26" stroke="#333" stroke-width="1.0"/>
<rect x="205.20" y="681.50" width="6.50" height="6.50" fill="#5fa9e2"/>
<line x1="208.45" y1="681.50" x2="208.45" y2="680.77" stroke="#333" stroke-width="1.0"/>
<line x1="206.85" y1="680.77" x2="210.05" y2="680.77" stroke="#333" stroke-width="1.0"/>
<line x1="161.20" y1="612.55" x2="161.20" y2="688.60" stroke="#111" stroke-width="1.3"/>
<line x1="160.60" y1="688.00" x2="216.25" y2="688.00" stroke="#111" stroke-width="1.3"/>
<line x1="158.20" y1="688.00" x2="161.20" y2="688.00" stroke="#111" stroke-width="1.0"/>
<line x1="158.20" y1="673.55" x2="161.20" y2="673.55" stroke="#111" stroke-width="1.0"/>
<line x1="158.20" y1="659.10" x2="161.20" y2="659.10" stroke="#111" stroke-width="1.0"/>
<line x1="158.20" y1="644.65" x2="161.20" y2="644.65" stroke="#111" stroke-width="1.0"/>
<line x1="158.20" y1="630.20" x2="161.20" y2="630.20" stroke="#111" stroke-width="1.0"/>
<line x1="158.20" y1="615.75" x2="161.20" y2="615.75" stroke="#111" stroke-width="1.0"/>
<line x1="158.20" y1="680.77" x2="161.20" y2="680.77" stroke="#111" stroke-width="1.0"/>
<line x1="158.20" y1="666.33" x2="161.20" y2="666.33" stroke="#111" stroke-width="1.0"/>
<line x1="158.20" y1="651.88" x2="161.20" y2="651.88" stroke="#111" stroke-width="1.0"/>
<line x1="158.20" y1="637.42" x2="161.20" y2="637.42" stroke="#111" stroke-width="1.0"/>
<line x1="158.20" y1="622.98" x2="161.20" y2="622.98" stroke="#111" stroke-width="1.0"/>
<text x="154.40" y="688.00" font-size="7.0" text-anchor="end" font-weight="normal" fill="#222" dominant-baseline="central">0</text>
<text x="154.40" y="673.55" font-size="7.0" text-anchor="end" font-weight="normal" fill="#222" dominant-baseline="central">20</text>
<text x="154.40" y="659.10" font-size="7.0" text-anchor="end" font-weight="normal" fill="#222" dominant-baseline="central">40</text>
<text x="154.40" y="644.65" font-size="7.0" text-anchor="end" font-weight="normal" fill="#222" dominant-baseline="central">60</text>
<text x="154.40" y="630.20" font-size="7.0" text-anchor="end" font-weight="normal" fill="#222" dominant-baseline="central">80</text>
<text x="154.40" y="615.75" font-size="7.0" text-anchor="end" font-weight="normal" fill="#222" dominant-baseline="central">100</text>
<line x1="169.20" y1="688.00" x2="169.20" y2="691.00" stroke="#111" stroke-width="1.1"/>
<line x1="177.05" y1="688.00" x2="177.05" y2="691.00" stroke="#111" stroke-width="1.1"/>
<line x1="184.90" y1="688.00" x2="184.90" y2="691.00" stroke="#111" stroke-width="1.1"/>
<line x1="192.75" y1="688.00" x2="192.75" y2="691.00" stroke="#111" stroke-width="1.1"/>
<line x1="200.60" y1="688.00" x2="200.60" y2="691.00" stroke="#111" stroke-width="1.1"/>
<line x1="208.45" y1="688.00" x2="208.45" y2="691.00" stroke="#111" stroke-width="1.1"/>
<text x="169.20" y="697.50" font-size="6.6" text-anchor="middle" font-weight="normal" fill="#333" dominant-baseline="central">-</text>
<text x="169.20" y="708.50" font-size="6.6" text-anchor="middle" font-weight="normal" fill="#333" dominant-baseline="central">-</text>
<text x="169.20" y="718.30" font-size="6.6" text-anchor="middle" font-weight="normal" fill="#333" dominant-baseline="central">-</text>
<text x="177.05" y="697.50" font-size="6.6" text-anchor="middle" font-weight="normal" fill="#333" dominant-baseline="central">-</text>
<text x="177.05" y="708.50" font-size="6.6" text-anchor="middle" font-weight="normal" fill="#333" dominant-baseline="central">+</text>
<text x="177.05" y="718.30" font-size="6.6" text-anchor="middle" font-weight="normal" fill="#333" dominant-baseline="central">-</text>
<text x="184.90" y="697.50" font-size="6.6" text-anchor="middle" font-weight="normal" fill="#333" dominant-baseline="central">+</text>
<text x="184.90" y="708.50" font-size="6.6" text-anchor="middle" font-weight="normal" fill="#333" dominant-baseline="central">-</text>
<text x="184.90" y="718.30" font-size="6.6" text-anchor="middle" font-weight="normal" fill="#333" dominant-baseline="central">-</text>
<text x="192.75" y="697.50" font-size="6.6" text-anchor="middle" font-weight="normal" fill="#333" dominant-baseline="central">+</text>
<text x="192.75" y="708.50" font-size="6.6" text-anchor="middle" font-weight="normal" fill="#333" dominant-baseline="central">-</text>
<text x="192.75" y="718.30" font-size="6.6" text-anchor="middle" font-weight="normal" fill="#333" dominant-baseline="central">+</text>
<text x="200.60" y="697.50" font-size="6.6" text-anchor="middle" font-weight="normal" fill="#333" dominant-baseline="central">+</text>
<text x="200.60" y="708.50" font-size="6.6" text-anchor="middle" font-weight="normal" fill="#333" dominant-baseline="central">+</text>
<text x="200.60" y="718.30" font-size="6.6" text-anchor="middle" font-weight="normal" fill="#333" dominant-baseline="central">-</text>
<text x="208.45" y="697.50" font-size="6.6" text-anchor="middle" font-weight="normal" fill="#333" dominant-baseline="central">+</text>
<text x="208.45" y="708.50" font-size="6.6" text-anchor="middle" font-weight="normal" fill="#333" dominant-baseline="central">+</text>
<text x="208.45" y="718.30" font-size="6.6" text-anchor="middle" font-weight="normal" fill="#333" dominant-baseline="central">+</text>
<text x="135.50" y="648.75" font-size="9.2" text-anchor="middle" font-weight="normal" fill="#222" dominant-baseline="central" transform="rotate(-90 135.50 648.75)" textLength="67" lengthAdjust="spacingAndGlyphs">Annexin V+ cells (%)</text>
<text x="223.75" y="596.20" font-size="11.8" text-anchor="start" font-weight="bold" fill="#000" dominant-baseline="central" textLength="8.75" lengthAdjust="spacingAndGlyphs" stroke="#000" stroke-width="0.3">G</text>
<text x="281.25" y="593.80" font-size="7.2" text-anchor="middle" font-weight="normal" fill="#222" dominant-baseline="central" textLength="50" lengthAdjust="spacingAndGlyphs">Cell proliferation</text>
<text x="281.25" y="602.20" font-size="7.2" text-anchor="middle" font-weight="normal" fill="#222" dominant-baseline="central" textLength="38" lengthAdjust="spacingAndGlyphs">of SET2 cells</text>
<line x1="257.00" y1="614.50" x2="281.25" y2="614.50" stroke="#5c5c5c" stroke-width="1.25"/>
<path d="M265.55 611.80a0.9 0.9 0 1 0 1.8 0a0.9 0.9 0 1 0 -1.8 0M268.65 611.80a0.9 0.9 0 1 0 1.8 0a0.9 0.9 0 1 0 -1.8 0" fill="#222"/>
<line x1="257.00" y1="622.50" x2="273.00" y2="622.50" stroke="#5c5c5c" stroke-width="1.25"/>
<path d="M262.55 619.80a0.9 0.9 0 1 0 1.8 0a0.9 0.9 0 1 0 -1.8 0M265.65 619.80a0.9 0.9 0 1 0 1.8 0a0.9 0.9 0 1 0 -1.8 0" fill="#222"/>
<line x1="273.75" y1="626.25" x2="289.50" y2="626.25" stroke="#5c5c5c" stroke-width="1.25"/>
<path d="M278.80 623.55a0.9 0.9 0 1 0 1.8 0a0.9 0.9 0 1 0 -1.8 0M281.90 623.55a0.9 0.9 0 1 0 1.8 0a0.9 0.9 0 1 0 -1.8 0" fill="#222"/>
<line x1="293.75" y1="631.25" x2="309.50" y2="631.25" stroke="#5c5c5c" stroke-width="1.25"/>
<path d="M298.80 628.55a0.9 0.9 0 1 0 1.8 0a0.9 0.9 0 1 0 -1.8 0M301.90 628.55a0.9 0.9 0 1 0 1.8 0a0.9 0.9 0 1 0 -1.8 0" fill="#222"/>
<rect x="257.85" y="625.87" width="6.40" height="62.13" fill="#5dae3d"/>
<line x1="261.05" y1="625.87" x2="261.05" y2="624.42" stroke="#333" stroke-width="1.0"/>
<line x1="259.45" y1="624.42" x2="262.65" y2="624.42" stroke="#333" stroke-width="1.0"/>
<rect x="265.95" y="641.76" width="6.40" height="46.24" fill="#264f88"/>
<line x1="269.15" y1="641.76" x2="269.15" y2="641.04" stroke="#333" stroke-width="1.0"/>
<line x1="267.55" y1="641.04" x2="270.75" y2="641.04" stroke="#333" stroke-width="1.0"/>
<rect x="274.05" y="668.49" width="6.40" height="19.51" fill="#e08a1a"/>
<line x1="277.25" y1="668.49" x2="277.25" y2="663.43" stroke="#333" stroke-width="1.0"/>
<line x1="275.65" y1="663.43" x2="278.85" y2="663.43" stroke="#333" stroke-width="1.0"/>
<rect x="282.15" y="630.20" width="6.40" height="57.80" fill="#b2c58b"/>
<line x1="285.35" y1="630.20" x2="285.35" y2="629.48" stroke="#333" stroke-width="1.0"/>
<line x1="283.75" y1="629.48" x2="286.95" y2="629.48" stroke="#333" stroke-width="1.0"/>
<rect x="290.25" y="667.77" width="6.40" height="20.23" fill="#4f2870"/>
<line x1="293.45" y1="667.77" x2="293.45" y2="664.16" stroke="#333" stroke-width="1.0"/>
<line x1="291.85" y1="664.16" x2="295.05" y2="664.16" stroke="#333" stroke-width="1.0"/>
<rect x="298.35" y="635.26" width="6.40" height="52.74" fill="#5fa9e2"/>
<line x1="301.55" y1="635.26" x2="301.55" y2="634.53" stroke="#333" stroke-width="1.0"/>
<line x1="299.95" y1="634.53" x2="303.15" y2="634.53" stroke="#333" stroke-width="1.0"/>
<line x1="253.30" y1="612.55" x2="253.30" y2="688.60" stroke="#111" stroke-width="1.3"/>
<line x1="252.70" y1="688.00" x2="308.75" y2="688.00" stroke="#111" stroke-width="1.3"/>
<line x1="250.30" y1="688.00" x2="253.30" y2="688.00" stroke="#111" stroke-width="1.0"/>
<line x1="250.30" y1="673.55" x2="253.30" y2="673.55" stroke="#111" stroke-width="1.0"/>
<line x1="250.30" y1="659.10" x2="253.30" y2="659.10" stroke="#111" stroke-width="1.0"/>
<line x1="250.30" y1="644.65" x2="253.30" y2="644.65" stroke="#111" stroke-width="1.0"/>
<line x1="250.30" y1="630.20" x2="253.30" y2="630.20" stroke="#111" stroke-width="1.0"/>
<line x1="250.30" y1="615.75" x2="253.30" y2="615.75" stroke="#111" stroke-width="1.0"/>
<line x1="250.30" y1="680.77" x2="253.30" y2="680.77" stroke="#111" stroke-width="1.0"/>
<line x1="250.30" y1="666.33" x2="253.30" y2="666.33" stroke="#111" stroke-width="1.0"/>
<line x1="250.30" y1="651.88" x2="253.30" y2="651.88" stroke="#111" stroke-width="1.0"/>
<line x1="250.30" y1="637.42" x2="253.30" y2="637.42" stroke="#111" stroke-width="1.0"/>
<line x1="250.30" y1="622.98" x2="253.30" y2="622.98" stroke="#111" stroke-width="1.0"/>
<text x="247.60" y="688.00" font-size="7.0" text-anchor="end" font-weight="normal" fill="#222" dominant-baseline="central">0</text>
<text x="247.60" y="673.55" font-size="7.0" text-anchor="end" font-weight="normal" fill="#222" dominant-baseline="central">20</text>
<text x="247.60" y="659.10" font-size="7.0" text-anchor="end" font-weight="normal" fill="#222" dominant-baseline="central">40</text>
<text x="247.60" y="644.65" font-size="7.0" text-anchor="end" font-weight="normal" fill="#222" dominant-baseline="central">60</text>
<text x="247.60" y="630.20" font-size="7.0" text-anchor="end" font-weight="normal" fill="#222" dominant-baseline="central">80</text>
<text x="247.60" y="615.75" font-size="7.0" text-anchor="end" font-weight="normal" fill="#222" dominant-baseline="central">100</text>
<line x1="261.05" y1="688.00" x2="261.05" y2="691.00" stroke="#111" stroke-width="1.1"/>
<line x1="269.15" y1="688.00" x2="269.15" y2="691.00" stroke="#111" stroke-width="1.1"/>
<line x1="277.25" y1="688.00" x2="277.25" y2="691.00" stroke="#111" stroke-width="1.1"/>
<line x1="285.35" y1="688.00" x2="285.35" y2="691.00" stroke="#111" stroke-width="1.1"/>
<line x1="293.45" y1="688.00" x2="293.45" y2="691.00" stroke="#111" stroke-width="1.1"/>
<line x1="301.55" y1="688.00" x2="301.55" y2="691.00" stroke="#111" stroke-width="1.1"/>
<text x="261.05" y="697.50" font-size="6.6" text-anchor="middle" font-weight="normal" fill="#333" dominant-baseline="central">-</text>
<text x="261.05" y="708.50" font-size="6.6" text-anchor="middle" font-weight="normal" fill="#333" dominant-baseline="central">-</text>
<text x="261.05" y="718.30" font-size="6.6" text-anchor="middle" font-weight="normal" fill="#333" dominant-baseline="central">-</text>
<text x="269.15" y="697.50" font-size="6.6" text-anchor="middle" font-weight="normal" fill="#333" dominant-baseline="central">-</text>
<text x="269.15" y="708.50" font-size="6.6" text-anchor="middle" font-weight="normal" fill="#333" dominant-baseline="central">+</text>
<text x="269.15" y="718.30" font-size="6.6" text-anchor="middle" font-weight="normal" fill="#333" dominant-baseline="central">-</text>
<text x="277.25" y="697.50" font-size="6.6" text-anchor="middle" font-weight="normal" fill="#333" dominant-baseline="central">+</text>
<text x="277.25" y="708.50" font-size="6.6" text-anchor="middle" font-weight="normal" fill="#333" dominant-baseline="central">-</text>
<text x="277.25" y="718.30" font-size="6.6" text-anchor="middle" font-weight="normal" fill="#333" dominant-baseline="central">-</text>
<text x="285.35" y="697.50" font-size="6.6" text-anchor="middle" font-weight="normal" fill="#333" dominant-baseline="central">+</text>
<text x="285.35" y="708.50" font-size="6.6" text-anchor="middle" font-weight="normal" fill="#333" dominant-baseline="central">-</text>
<text x="285.35" y="718.30" font-size="6.6" text-anchor="middle" font-weight="normal" fill="#333" dominant-baseline="central">+</text>
<text x="293.45" y="697.50" font-size="6.6" text-anchor="middle" font-weight="normal" fill="#333" dominant-baseline="central">+</text>
<text x="293.45" y="708.50" font-size="6.6" text-anchor="middle" font-weight="normal" fill="#333" dominant-baseline="central">+</text>
<text x="293.45" y="718.30" font-size="6.6" text-anchor="middle" font-weight="normal" fill="#333" dominant-baseline="central">-</text>
<text x="301.55" y="697.50" font-size="6.6" text-anchor="middle" font-weight="normal" fill="#333" dominant-baseline="central">+</text>
<text x="301.55" y="708.50" font-size="6.6" text-anchor="middle" font-weight="normal" fill="#333" dominant-baseline="central">+</text>
<text x="301.55" y="718.30" font-size="6.6" text-anchor="middle" font-weight="normal" fill="#333" dominant-baseline="central">+</text>
<text x="227.50" y="651.00" font-size="9.2" text-anchor="middle" font-weight="normal" fill="#222" dominant-baseline="central" transform="rotate(-90 227.50 651.00)" textLength="50" lengthAdjust="spacingAndGlyphs">Ki-67+ cells (%)</text>
<text x="316.25" y="596.20" font-size="11.8" text-anchor="start" font-weight="bold" fill="#000" dominant-baseline="central" textLength="8.25" lengthAdjust="spacingAndGlyphs" stroke="#000" stroke-width="0.3">H</text>
<text x="383.75" y="593.80" font-size="7.2" text-anchor="middle" font-weight="normal" fill="#222" dominant-baseline="central" textLength="50" lengthAdjust="spacingAndGlyphs">GSH/GSSG ratio</text>
<text x="383.75" y="602.20" font-size="7.2" text-anchor="middle" font-weight="normal" fill="#222" dominant-baseline="central" textLength="37" lengthAdjust="spacingAndGlyphs">in SET2 cells</text>
<line x1="359.50" y1="613.75" x2="383.75" y2="613.75" stroke="#5c5c5c" stroke-width="1.25"/>
<path d="M369.75 611.05a0.9 0.9 0 1 0 1.8 0a0.9 0.9 0 1 0 -1.8 0M372.85 611.05a0.9 0.9 0 1 0 1.8 0a0.9 0.9 0 1 0 -1.8 0M375.95 611.05a0.9 0.9 0 1 0 1.8 0a0.9 0.9 0 1 0 -1.8 0" fill="#222"/>
<line x1="359.50" y1="621.25" x2="375.50" y2="621.25" stroke="#5c5c5c" stroke-width="1.25"/>
<path d="M365.55 618.55a0.9 0.9 0 1 0 1.8 0a0.9 0.9 0 1 0 -1.8 0M368.65 618.55a0.9 0.9 0 1 0 1.8 0a0.9 0.9 0 1 0 -1.8 0" fill="#222"/>
<line x1="378.00" y1="635.00" x2="394.50" y2="635.00" stroke="#5c5c5c" stroke-width="1.25"/>
<path d="M385.35 632.30a0.9 0.9 0 1 0 1.8 0a0.9 0.9 0 1 0 -1.8 0" fill="#222"/>
<line x1="396.25" y1="646.25" x2="410.00" y2="646.25" stroke="#5c5c5c" stroke-width="1.25"/>
<path d="M402.10 643.55a0.9 0.9 0 1 0 1.8 0a0.9 0.9 0 1 0 -1.8 0" fill="#222"/>
<rect x="359.85" y="627.98" width="6.90" height="60.02" fill="#5dae3d"/>
<line x1="363.30" y1="627.98" x2="363.30" y2="625.51" stroke="#333" stroke-width="1.0"/>
<line x1="361.70" y1="625.51" x2="364.90" y2="625.51" stroke="#333" stroke-width="1.0"/>
<rect x="368.27" y="640.98" width="6.90" height="47.02" fill="#264f88"/>
<line x1="371.72" y1="640.98" x2="371.72" y2="639.12" stroke="#333" stroke-width="1.0"/>
<line x1="370.12" y1="639.12" x2="373.32" y2="639.12" stroke="#333" stroke-width="1.0"/>
<rect x="376.69" y="649.64" width="6.90" height="38.36" fill="#e08a1a"/>
<line x1="380.14" y1="649.64" x2="380.14" y2="648.40" stroke="#333" stroke-width="1.0"/>
<line x1="378.54" y1="648.40" x2="381.74" y2="648.40" stroke="#333" stroke-width="1.0"/>
<rect x="385.11" y="641.59" width="6.90" height="46.41" fill="#b2c58b"/>
<line x1="388.56" y1="641.59" x2="388.56" y2="639.12" stroke="#333" stroke-width="1.0"/>
<line x1="386.96" y1="639.12" x2="390.16" y2="639.12" stroke="#333" stroke-width="1.0"/>
<rect x="393.53" y="659.54" width="6.90" height="28.46" fill="#4f2870"/>
<line x1="396.98" y1="659.54" x2="396.98" y2="658.30" stroke="#333" stroke-width="1.0"/>
<line x1="395.38" y1="658.30" x2="398.58" y2="658.30" stroke="#333" stroke-width="1.0"/>
<rect x="401.95" y="650.88" width="6.90" height="37.12" fill="#5fa9e2"/>
<line x1="405.40" y1="650.88" x2="405.40" y2="649.64" stroke="#333" stroke-width="1.0"/>
<line x1="403.80" y1="649.64" x2="407.00" y2="649.64" stroke="#333" stroke-width="1.0"/>
<line x1="355.60" y1="610.55" x2="355.60" y2="688.60" stroke="#111" stroke-width="1.3"/>
<line x1="355.00" y1="688.00" x2="410.00" y2="688.00" stroke="#111" stroke-width="1.3"/>
<line x1="352.60" y1="688.00" x2="355.60" y2="688.00" stroke="#111" stroke-width="1.0"/>
<line x1="352.60" y1="675.62" x2="355.60" y2="675.62" stroke="#111" stroke-width="1.0"/>
<line x1="352.60" y1="663.25" x2="355.60" y2="663.25" stroke="#111" stroke-width="1.0"/>
<line x1="352.60" y1="650.88" x2="355.60" y2="650.88" stroke="#111" stroke-width="1.0"/>
<line x1="352.60" y1="638.50" x2="355.60" y2="638.50" stroke="#111" stroke-width="1.0"/>
<line x1="352.60" y1="626.12" x2="355.60" y2="626.12" stroke="#111" stroke-width="1.0"/>
<line x1="352.60" y1="613.75" x2="355.60" y2="613.75" stroke="#111" stroke-width="1.0"/>
<text x="348.30" y="688.00" font-size="7.0" text-anchor="end" font-weight="normal" fill="#222" dominant-baseline="central">0.0</text>
<text x="348.30" y="675.62" font-size="7.0" text-anchor="end" font-weight="normal" fill="#222" dominant-baseline="central">0.2</text>
<text x="348.30" y="663.25" font-size="7.0" text-anchor="end" font-weight="normal" fill="#222" dominant-baseline="central">0.4</text>
<text x="348.30" y="650.88" font-size="7.0" text-anchor="end" font-weight="normal" fill="#222" dominant-baseline="central">0.6</text>
<text x="348.30" y="638.50" font-size="7.0" text-anchor="end" font-weight="normal" fill="#222" dominant-baseline="central">0.8</text>
<text x="348.30" y="626.12" font-size="7.0" text-anchor="end" font-weight="normal" fill="#222" dominant-baseline="central">1.0</text>
<text x="348.30" y="613.75" font-size="7.0" text-anchor="end" font-weight="normal" fill="#222" dominant-baseline="central">1.2</text>
<line x1="363.30" y1="688.00" x2="363.30" y2="691.00" stroke="#111" stroke-width="1.1"/>
<line x1="371.72" y1="688.00" x2="371.72" y2="691.00" stroke="#111" stroke-width="1.1"/>
<line x1="380.14" y1="688.00" x2="380.14" y2="691.00" stroke="#111" stroke-width="1.1"/>
<line x1="388.56" y1="688.00" x2="388.56" y2="691.00" stroke="#111" stroke-width="1.1"/>
<line x1="396.98" y1="688.00" x2="396.98" y2="691.00" stroke="#111" stroke-width="1.1"/>
<line x1="405.40" y1="688.00" x2="405.40" y2="691.00" stroke="#111" stroke-width="1.1"/>
<text x="363.30" y="697.50" font-size="6.6" text-anchor="middle" font-weight="normal" fill="#333" dominant-baseline="central">-</text>
<text x="363.30" y="708.50" font-size="6.6" text-anchor="middle" font-weight="normal" fill="#333" dominant-baseline="central">-</text>
<text x="363.30" y="718.30" font-size="6.6" text-anchor="middle" font-weight="normal" fill="#333" dominant-baseline="central">-</text>
<text x="371.72" y="697.50" font-size="6.6" text-anchor="middle" font-weight="normal" fill="#333" dominant-baseline="central">-</text>
<text x="371.72" y="708.50" font-size="6.6" text-anchor="middle" font-weight="normal" fill="#333" dominant-baseline="central">+</text>
<text x="371.72" y="718.30" font-size="6.6" text-anchor="middle" font-weight="normal" fill="#333" dominant-baseline="central">-</text>
<text x="380.14" y="697.50" font-size="6.6" text-anchor="middle" font-weight="normal" fill="#333" dominant-baseline="central">+</text>
<text x="380.14" y="708.50" font-size="6.6" text-anchor="middle" font-weight="normal" fill="#333" dominant-baseline="central">-</text>
<text x="380.14" y="718.30" font-size="6.6" text-anchor="middle" font-weight="normal" fill="#333" dominant-baseline="central">-</text>
<text x="388.56" y="697.50" font-size="6.6" text-anchor="middle" font-weight="normal" fill="#333" dominant-baseline="central">+</text>
<text x="388.56" y="708.50" font-size="6.6" text-anchor="middle" font-weight="normal" fill="#333" dominant-baseline="central">-</text>
<text x="388.56" y="718.30" font-size="6.6" text-anchor="middle" font-weight="normal" fill="#333" dominant-baseline="central">+</text>
<text x="396.98" y="697.50" font-size="6.6" text-anchor="middle" font-weight="normal" fill="#333" dominant-baseline="central">+</text>
<text x="396.98" y="708.50" font-size="6.6" text-anchor="middle" font-weight="normal" fill="#333" dominant-baseline="central">+</text>
<text x="396.98" y="718.30" font-size="6.6" text-anchor="middle" font-weight="normal" fill="#333" dominant-baseline="central">-</text>
<text x="405.40" y="697.50" font-size="6.6" text-anchor="middle" font-weight="normal" fill="#333" dominant-baseline="central">+</text>
<text x="405.40" y="708.50" font-size="6.6" text-anchor="middle" font-weight="normal" fill="#333" dominant-baseline="central">+</text>
<text x="405.40" y="718.30" font-size="6.6" text-anchor="middle" font-weight="normal" fill="#333" dominant-baseline="central">+</text>
<text x="320.50" y="650.50" font-size="9.2" text-anchor="middle" font-weight="normal" fill="#222" dominant-baseline="central" transform="rotate(-90 320.50 650.50)" textLength="51" lengthAdjust="spacingAndGlyphs">GSH/GSSG ratio</text>
<text x="332.50" y="649.50" font-size="9.2" text-anchor="middle" font-weight="normal" fill="#222" dominant-baseline="central" transform="rotate(-90 332.50 649.50)" textLength="76" lengthAdjust="spacingAndGlyphs">normalized to untreated</text>
<text x="421.00" y="596.20" font-size="11.8" text-anchor="start" font-weight="bold" fill="#000" dominant-baseline="central" textLength="2.6" lengthAdjust="spacingAndGlyphs" stroke="#000" stroke-width="0.3">I</text>
<text x="482.00" y="593.80" font-size="7.2" text-anchor="middle" font-weight="normal" fill="#222" dominant-baseline="central" textLength="49.6" lengthAdjust="spacingAndGlyphs">NADPH levels in</text>
<text x="482.00" y="602.20" font-size="7.2" text-anchor="middle" font-weight="normal" fill="#222" dominant-baseline="central" textLength="31" lengthAdjust="spacingAndGlyphs">SET2 cells</text>
<line x1="463.50" y1="621.00" x2="485.00" y2="621.00" stroke="#5c5c5c" stroke-width="1.25"/>
<path d="M469.80 618.30a0.9 0.9 0 1 0 1.8 0a0.9 0.9 0 1 0 -1.8 0M472.90 618.30a0.9 0.9 0 1 0 1.8 0a0.9 0.9 0 1 0 -1.8 0M476.00 618.30a0.9 0.9 0 1 0 1.8 0a0.9 0.9 0 1 0 -1.8 0" fill="#222"/>
<line x1="463.50" y1="628.50" x2="478.00" y2="628.50" stroke="#5c5c5c" stroke-width="1.25"/>
<path d="M467.95 625.80a0.9 0.9 0 1 0 1.8 0a0.9 0.9 0 1 0 -1.8 0M471.05 625.80a0.9 0.9 0 1 0 1.8 0a0.9 0.9 0 1 0 -1.8 0" fill="#222"/>
<line x1="479.60" y1="627.30" x2="493.50" y2="627.30" stroke="#5c5c5c" stroke-width="1.25"/>
<path d="M484.05 624.60a0.9 0.9 0 1 0 1.8 0a0.9 0.9 0 1 0 -1.8 0M487.15 624.60a0.9 0.9 0 1 0 1.8 0a0.9 0.9 0 1 0 -1.8 0" fill="#222"/>
<line x1="495.30" y1="622.70" x2="509.00" y2="622.70" stroke="#5c5c5c" stroke-width="1.25"/>
<path d="M499.55 620.00a0.9 0.9 0 1 0 1.8 0a0.9 0.9 0 1 0 -1.8 0M502.65 620.00a0.9 0.9 0 1 0 1.8 0a0.9 0.9 0 1 0 -1.8 0" fill="#222"/>
<rect x="461.30" y="636.79" width="7.00" height="51.21" fill="#5dae3d"/>
<line x1="464.80" y1="636.79" x2="464.80" y2="631.66" stroke="#333" stroke-width="1.0"/>
<line x1="463.20" y1="631.66" x2="466.40" y2="631.66" stroke="#333" stroke-width="1.0"/>
<rect x="469.60" y="650.10" width="7.00" height="37.90" fill="#264f88"/>
<line x1="473.10" y1="650.10" x2="473.10" y2="649.08" stroke="#333" stroke-width="1.0"/>
<line x1="471.50" y1="649.08" x2="474.70" y2="649.08" stroke="#333" stroke-width="1.0"/>
<rect x="477.90" y="663.93" width="7.00" height="24.07" fill="#e08a1a"/>
<line x1="481.40" y1="663.93" x2="481.40" y2="662.90" stroke="#333" stroke-width="1.0"/>
<line x1="479.80" y1="662.90" x2="483.00" y2="662.90" stroke="#333" stroke-width="1.0"/>
<rect x="486.20" y="632.18" width="7.00" height="55.82" fill="#b2c58b"/>
<line x1="489.70" y1="632.18" x2="489.70" y2="630.13" stroke="#333" stroke-width="1.0"/>
<line x1="488.10" y1="630.13" x2="491.30" y2="630.13" stroke="#333" stroke-width="1.0"/>
<rect x="494.50" y="670.08" width="7.00" height="17.92" fill="#4f2870"/>
<line x1="498.00" y1="670.08" x2="498.00" y2="669.56" stroke="#333" stroke-width="1.0"/>
<line x1="496.40" y1="669.56" x2="499.60" y2="669.56" stroke="#333" stroke-width="1.0"/>
<rect x="502.80" y="631.15" width="7.00" height="56.85" fill="#5fa9e2"/>
<line x1="506.30" y1="631.15" x2="506.30" y2="626.54" stroke="#333" stroke-width="1.0"/>
<line x1="504.70" y1="626.54" x2="507.90" y2="626.54" stroke="#333" stroke-width="1.0"/>
<line x1="457.30" y1="613.10" x2="457.30" y2="688.60" stroke="#111" stroke-width="1.3"/>
<line x1="456.70" y1="688.00" x2="512.00" y2="688.00" stroke="#111" stroke-width="1.3"/>
<line x1="454.30" y1="688.00" x2="457.30" y2="688.00" stroke="#111" stroke-width="1.0"/>
<line x1="454.30" y1="677.76" x2="457.30" y2="677.76" stroke="#111" stroke-width="1.0"/>
<line x1="454.30" y1="667.51" x2="457.30" y2="667.51" stroke="#111" stroke-width="1.0"/>
<line x1="454.30" y1="657.27" x2="457.30" y2="657.27" stroke="#111" stroke-width="1.0"/>
<line x1="454.30" y1="647.03" x2="457.30" y2="647.03" stroke="#111" stroke-width="1.0"/>
<line x1="454.30" y1="636.79" x2="457.30" y2="636.79" stroke="#111" stroke-width="1.0"/>
<line x1="454.30" y1="626.54" x2="457.30" y2="626.54" stroke="#111" stroke-width="1.0"/>
<line x1="454.30" y1="616.30" x2="457.30" y2="616.30" stroke="#111" stroke-width="1.0"/>
<text x="451.30" y="688.00" font-size="7.0" text-anchor="end" font-weight="normal" fill="#222" dominant-baseline="central">0.0</text>
<text x="451.30" y="677.76" font-size="7.0" text-anchor="end" font-weight="normal" fill="#222" dominant-baseline="central">0.2</text>
<text x="451.30" y="667.51" font-size="7.0" text-anchor="end" font-weight="normal" fill="#222" dominant-baseline="central">0.4</text>
<text x="451.30" y="657.27" font-size="7.0" text-anchor="end" font-weight="normal" fill="#222" dominant-baseline="central">0.6</text>
<text x="451.30" y="647.03" font-size="7.0" text-anchor="end" font-weight="normal" fill="#222" dominant-baseline="central">0.8</text>
<text x="451.30" y="636.79" font-size="7.0" text-anchor="end" font-weight="normal" fill="#222" dominant-baseline="central">1.0</text>
<text x="451.30" y="626.54" font-size="7.0" text-anchor="end" font-weight="normal" fill="#222" dominant-baseline="central">1.2</text>
<text x="451.30" y="616.30" font-size="7.0" text-anchor="end" font-weight="normal" fill="#222" dominant-baseline="central">1.4</text>
<line x1="464.80" y1="688.00" x2="464.80" y2="691.00" stroke="#111" stroke-width="1.1"/>
<line x1="473.10" y1="688.00" x2="473.10" y2="691.00" stroke="#111" stroke-width="1.1"/>
<line x1="481.40" y1="688.00" x2="481.40" y2="691.00" stroke="#111" stroke-width="1.1"/>
<line x1="489.70" y1="688.00" x2="489.70" y2="691.00" stroke="#111" stroke-width="1.1"/>
<line x1="498.00" y1="688.00" x2="498.00" y2="691.00" stroke="#111" stroke-width="1.1"/>
<line x1="506.30" y1="688.00" x2="506.30" y2="691.00" stroke="#111" stroke-width="1.1"/>
<text x="464.80" y="697.50" font-size="6.6" text-anchor="middle" font-weight="normal" fill="#333" dominant-baseline="central">-</text>
<text x="464.80" y="708.50" font-size="6.6" text-anchor="middle" font-weight="normal" fill="#333" dominant-baseline="central">-</text>
<text x="464.80" y="718.30" font-size="6.6" text-anchor="middle" font-weight="normal" fill="#333" dominant-baseline="central">-</text>
<text x="473.10" y="697.50" font-size="6.6" text-anchor="middle" font-weight="normal" fill="#333" dominant-baseline="central">-</text>
<text x="473.10" y="708.50" font-size="6.6" text-anchor="middle" font-weight="normal" fill="#333" dominant-baseline="central">+</text>
<text x="473.10" y="718.30" font-size="6.6" text-anchor="middle" font-weight="normal" fill="#333" dominant-baseline="central">-</text>
<text x="481.40" y="697.50" font-size="6.6" text-anchor="middle" font-weight="normal" fill="#333" dominant-baseline="central">+</text>
<text x="481.40" y="708.50" font-size="6.6" text-anchor="middle" font-weight="normal" fill="#333" dominant-baseline="central">-</text>
<text x="481.40" y="718.30" font-size="6.6" text-anchor="middle" font-weight="normal" fill="#333" dominant-baseline="central">-</text>
<text x="489.70" y="697.50" font-size="6.6" text-anchor="middle" font-weight="normal" fill="#333" dominant-baseline="central">+</text>
<text x="489.70" y="708.50" font-size="6.6" text-anchor="middle" font-weight="normal" fill="#333" dominant-baseline="central">-</text>
<text x="489.70" y="718.30" font-size="6.6" text-anchor="middle" font-weight="normal" fill="#333" dominant-baseline="central">+</text>
<text x="498.00" y="697.50" font-size="6.6" text-anchor="middle" font-weight="normal" fill="#333" dominant-baseline="central">+</text>
<text x="498.00" y="708.50" font-size="6.6" text-anchor="middle" font-weight="normal" fill="#333" dominant-baseline="central">+</text>
<text x="498.00" y="718.30" font-size="6.6" text-anchor="middle" font-weight="normal" fill="#333" dominant-baseline="central">-</text>
<text x="506.30" y="697.50" font-size="6.6" text-anchor="middle" font-weight="normal" fill="#333" dominant-baseline="central">+</text>
<text x="506.30" y="708.50" font-size="6.6" text-anchor="middle" font-weight="normal" fill="#333" dominant-baseline="central">+</text>
<text x="506.30" y="718.30" font-size="6.6" text-anchor="middle" font-weight="normal" fill="#333" dominant-baseline="central">+</text>
<text x="423.00" y="651.00" font-size="9.2" text-anchor="middle" font-weight="normal" fill="#222" dominant-baseline="central" transform="rotate(-90 423.00 651.00)" textLength="42" lengthAdjust="spacingAndGlyphs">NADPH levels</text>
<text x="434.20" y="651.00" font-size="9.2" text-anchor="middle" font-weight="normal" fill="#222" dominant-baseline="central" transform="rotate(-90 434.20 651.00)" textLength="75" lengthAdjust="spacingAndGlyphs">normalized to untreated</text>
<text x="53.25" y="697.50" font-size="6.8" text-anchor="end" font-weight="normal" fill="#222" dominant-baseline="central" textLength="38" lengthAdjust="spacingAndGlyphs">3PO (20 µM)</text>
<text x="53.25" y="708.50" font-size="6.8" text-anchor="end" font-weight="normal" fill="#222" dominant-baseline="central" textLength="43" lengthAdjust="spacingAndGlyphs">Ruxo (250 nM)</text>
<text x="53.25" y="718.30" font-size="6.8" text-anchor="end" font-weight="normal" fill="#222" dominant-baseline="central" textLength="43" lengthAdjust="spacingAndGlyphs">NAC (1.5 mM)</text>
<rect x="0.5" y="0.5" width="519" height="729" fill="none" stroke="#000" stroke-width="1.2"/>
</g></svg>
</body></html>
